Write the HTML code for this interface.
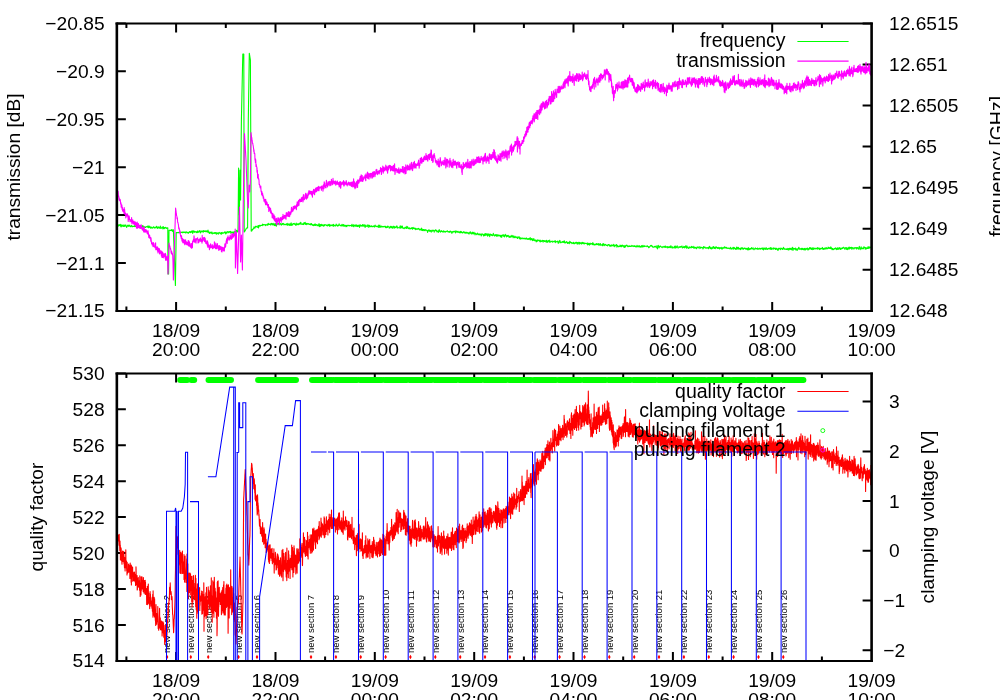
<!DOCTYPE html>
<html><head><meta charset="utf-8"><title>plot</title>
<style>html,body{margin:0;padding:0;background:#fff;}body{width:1000px;height:700px;overflow:hidden;position:relative;font-family:"Liberation Sans",sans-serif;}</style>
</head><body>
<svg width="1000" height="700" viewBox="0 0 1000 700" style="position:absolute;left:0;top:0;display:block;will-change:transform" font-family="'Liberation Sans', sans-serif" font-size="19.2" fill="#000">
<rect x="0" y="0" width="1000" height="700" fill="#fff"/>
<defs><clipPath id="c1"><rect x="116.85" y="23.4" width="754.75" height="287.5"/></clipPath><clipPath id="c2"><rect x="116.85" y="373.4" width="754.75" height="287.5"/></clipPath></defs>
<path d="M126.4,310.9 v-4.5 M126.4,23.4 v4.5 M176.1,310.9 v-9 M176.1,23.4 v9 M225.8,310.9 v-4.5 M225.8,23.4 v4.5 M275.5,310.9 v-9 M275.5,23.4 v9 M325.1,310.9 v-4.5 M325.1,23.4 v4.5 M374.8,310.9 v-9 M374.8,23.4 v9 M424.5,310.9 v-4.5 M424.5,23.4 v4.5 M474.2,310.9 v-9 M474.2,23.4 v9 M523.9,310.9 v-4.5 M523.9,23.4 v4.5 M573.5,310.9 v-9 M573.5,23.4 v9 M623.2,310.9 v-4.5 M623.2,23.4 v4.5 M672.9,310.9 v-9 M672.9,23.4 v9 M722.6,310.9 v-4.5 M722.6,23.4 v4.5 M772.2,310.9 v-9 M772.2,23.4 v9 M821.9,310.9 v-4.5 M821.9,23.4 v4.5 M126.4,660.9 v-4.5 M126.4,373.4 v4.5 M176.1,660.9 v-9 M176.1,373.4 v9 M225.8,660.9 v-4.5 M225.8,373.4 v4.5 M275.5,660.9 v-9 M275.5,373.4 v9 M325.1,660.9 v-4.5 M325.1,373.4 v4.5 M374.8,660.9 v-9 M374.8,373.4 v9 M424.5,660.9 v-4.5 M424.5,373.4 v4.5 M474.2,660.9 v-9 M474.2,373.4 v9 M523.9,660.9 v-4.5 M523.9,373.4 v4.5 M573.5,660.9 v-9 M573.5,373.4 v9 M623.2,660.9 v-4.5 M623.2,373.4 v4.5 M672.9,660.9 v-9 M672.9,373.4 v9 M722.6,660.9 v-4.5 M722.6,373.4 v4.5 M772.2,660.9 v-9 M772.2,373.4 v9 M821.9,660.9 v-4.5 M821.9,373.4 v4.5 M116.85,23.4 h9 M116.85,71.3 h9 M116.85,119.2 h9 M116.85,167.2 h9 M116.85,215.1 h9 M116.85,263 h9 M116.85,310.9 h9 M871.6,23.4 h-9 M871.6,64.5 h-9 M871.6,105.5 h-9 M871.6,146.6 h-9 M871.6,187.7 h-9 M871.6,228.8 h-9 M871.6,269.8 h-9 M871.6,310.9 h-9 M116.85,373.4 h9 M116.85,409.3 h9 M116.85,445.3 h9 M116.85,481.2 h9 M116.85,517.1 h9 M116.85,553.1 h9 M116.85,589 h9 M116.85,625 h9 M116.85,660.9 h9 M871.6,650.2 h-9 M871.6,600.5 h-9 M871.6,550.8 h-9 M871.6,501.1 h-9 M871.6,451.4 h-9 M871.6,401.6 h-9" fill="none" stroke="#000" stroke-width="2"/>
<g clip-path="url(#c1)">
<polyline points="118,224.5 118.3,226.2 118.6,224.9 118.9,225.3 119.2,225.4 119.5,225 119.8,224.7 120.1,225.9 120.4,225.7 120.7,224.4 121,227 121.3,226.1 121.6,225.1 121.9,226.1 122.2,225.3 122.5,225.6 122.8,226.1 123.1,224.9 123.4,226 123.7,226.5 124,226.5 124.3,225.5 124.6,226.3 124.9,224.8 125.2,225.7 125.5,226 125.8,225 126.1,225.8 126.4,226.9 126.7,227.4 127,226.3 127.3,226.4 127.6,225.3 127.9,225.2 128.2,225.1 128.5,226.2 128.8,226.4 129.1,225.6 129.4,225.2 129.7,226.1 130,226.2 130.3,225.9 130.6,226.8 130.9,226 131.2,226 131.5,225.4 131.8,226.2 132.1,226.9 132.4,226.2 132.7,226.2 133,226.4 133.3,226.3 133.6,226.5 133.9,226.5 134.2,226.6 134.5,225.7 134.8,226.4 135.1,225.3 135.4,226.4 135.7,225.5 136,226.3 136.3,226.6 136.6,226.1 136.9,226.4 137.2,225.4 137.5,225.9 137.8,226.8 138.1,225.7 138.4,226.8 138.7,225.6 139,225.9 139.3,225.8 139.6,226.5 139.9,226.8 140,225.9 140.2,226.4 140.5,227.5 140.8,226.4 141.1,226.1 141.4,226.8 141.7,226.5 142,226.2 142.3,225.6 142.6,227.1 142.9,226.3 143.2,226.7 143.5,226.1 143.8,227.5 144.1,227.2 144.4,227.4 144.7,226.7 145,227.1 145.3,227.4 145.6,227.5 145.9,227 146.2,226.8 146.5,226.7 146.8,226.5 147.1,226.4 147.4,227.2 147.7,226.8 148,225.8 148.3,226.9 148.6,227.7 148.9,226.9 149.2,226 149.5,227 149.8,227.6 150.1,227.2 150.4,226.9 150.7,228.3 151,228.3 151.3,227.1 151.6,227.7 151.9,227.5 152.2,227.7 152.5,228.1 152.8,227.8 153.1,227.4 153.4,226.9 153.7,226.9 154,227.3 154.3,228.1 154.6,227.6 154.9,227.4 155.2,227.6 155.5,227.5 155.8,227.8 156.1,226.8 156.4,226.3 156.7,227.3 157,226.9 157.3,228.5 157.6,227.5 157.9,227.4 158.2,226.7 158.5,227.8 158.8,227.3 159.1,228.3 159.4,228.2 159.7,227.2 160,228 160.3,226.1 160.6,227.4 160.9,228.5 161.2,228.3 161.5,227.9 161.8,227.8 162.1,227 162.4,227.1 162.7,228 163,229 163.3,226.6 163.6,228.3 163.9,228.3 164.2,228.6 164.5,227.5 164.8,227.7 165.1,228.1 165.4,227.4 165.7,227.3 166,227.6 166.3,228.1 166.6,228.4 166.9,228.1 167.2,228.2 167.5,227.8 167.8,227.8 167.8,228.9 168,274 168.1,274 168.4,274 168.6,274 168.7,263.1 169,230.2 169,230.2 169.3,230.2 169.6,230.2 169.9,230.4 170.2,230.3 170.5,230.4 170.8,230.3 171.1,230.7 171.4,229.6 171.7,230.5 172,230.6 172.3,229.8 172.6,231.4 172.9,230.3 173.2,230.3 173.4,229.8 173.5,233.7 173.8,241.5 174.1,249.4 174.4,258 174.7,266.3 175,274.5 175.3,282.7 175.4,285.4 175.6,272.2 175.9,252.4 176.2,232.6 176.2,232.6 176.5,232.6 176.8,232.6 177.1,232.6 177.4,232.6 177.7,232.6 178,232.6 178.3,232.6 178.6,232.4 178.9,232.7 179.2,232.3 179.5,232.3 179.8,232.4 180.1,232.3 180.4,232.4 180.7,232.3 181,232.6 181.3,232.4 181.6,232.5 181.9,232 182.2,232.2 182.5,232.6 182.8,232 183.1,232.6 183.4,232 183.7,232.4 184,232.1 184.3,232.4 184.6,232 184.9,232.2 185.2,232.8 185.5,232.1 185.8,233 186.1,232.1 186.4,231.8 186.7,232.2 187,232 187.3,232.9 187.6,232.5 187.9,232.7 188.2,232.4 188.5,233.3 188.8,232.5 189.1,232.4 189.4,231.7 189.7,231.6 190,232.2 190.3,232.6 190.6,232.7 190.9,231.5 191.2,232.3 191.5,232.1 191.8,231.3 192,232.3 192.1,230.6 192.4,232.1 192.7,233.5 193,231.3 193.3,232 193.6,230.8 193.9,231.5 194.2,232.4 194.5,231.3 194.8,231.9 195.1,231.7 195.4,231.6 195.7,232 196,232.1 196.3,232.6 196.6,232.3 196.9,231.5 197.2,232.6 197.5,232.5 197.8,230.8 198.1,232.2 198.4,232.2 198.7,232.3 199,232.1 199.3,230.9 199.6,231.5 199.9,230.5 200.2,231.6 200.5,232.9 200.8,232.1 201.1,232.2 201.4,231.3 201.7,231 202,231 202.3,231.7 202.6,231.1 202.9,231.2 203.2,232.3 203.5,230.6 203.8,230.8 204.1,231.2 204.4,231.5 204.7,231.4 205,230.7 205.3,231.6 205.6,231.4 205.9,231.7 206.2,230.8 206.5,231.6 206.8,231.6 207.1,231 207.4,231.3 207.6,231.1 207.7,232.3 208,230.1 208.3,231.5 208.6,231.7 208.8,232.8 208.9,232.6 209.2,232.8 209.5,233.4 209.8,232 210.1,232.5 210.4,232.9 210.7,232.3 211,233.2 211.3,233.2 211.6,232.6 211.9,231.9 212.2,234 212.5,233.3 212.8,233.3 213.1,233 213.4,233 213.7,233.5 214,233 214.3,232.6 214.6,233.4 214.9,233 215.2,232.5 215.5,232.5 215.8,233.7 216.1,233.4 216.4,234.2 216.7,232.7 217,232.6 217.3,233.2 217.6,233.8 217.9,233.4 218.2,233.3 218.5,234.1 218.8,232.6 219.1,232.3 219.4,232.6 219.7,232.8 220,233.2 220.3,233.6 220.6,233.2 220.9,233.9 221.2,232.5 221.5,234.1 221.8,232.5 222,233.7 222.1,232.4 222.4,233.2 222.7,233 223,233.2 223.3,233.3 223.6,232.7 223.9,232.8 224.2,233 224.5,232 224.8,232.3 225.1,231.8 225.4,232.7 225.7,234 226,233.1 226.3,232.1 226.6,232.2 226.9,233.2 227.2,232.3 227.5,231.6 227.8,231.9 228.1,231.9 228.4,231.9 228.7,232.8 229,232.5 229.3,231.5 229.6,232 229.9,231.7 230.2,231.6 230.5,231.4 230.8,233.3 231.1,232.1 231.4,232.6 231.7,232.7 232,231.9 232.3,232.5 232.6,232.4 232.9,232.2 233.2,233.4 233.5,232.2 233.8,231.9 234,232.4 234.1,233.1 234.4,232.5 234.7,231.6 235,231.3 235.3,231.2 235.6,231.3 235.9,231.9 236.2,232.1 236.5,230.2 236.8,231.5 237.1,230.8 237.4,231.8 237.6,231.9 237.7,231.1 238,231.5 238,231.5 238.3,199.8 238.6,168 238.6,168 238.9,185.6 239.2,203.2 239.4,215 239.5,207.5 239.8,185 240,170 240.1,175 240.4,190 240.6,200 240.7,190 241,160 241.3,130 241.4,120 241.6,110.6 241.9,96.4 242.2,82.3 242.5,68.1 242.8,54 242.8,54 243.1,54 243.4,54 243.7,54 243.8,54 244,143 244.2,232 244.3,231.9 244.6,231.5 244.9,231.1 245,231 245.2,230.6 245.5,230 245.8,229.4 246.1,228.8 246.4,228.2 246.5,228 246.7,228 247,228 247.3,228 247.6,228 247.6,228 247.9,181.7 248.2,135.4 248.3,120 248.5,106.6 248.8,86.6 249.1,66.6 249.3,53.2 249.4,53.8 249.7,55.7 250,57.5 250.3,59.4 250.4,60 250.6,102.7 250.9,166.9 251.2,231 251.2,231 251.5,230.7 251.6,231.1 251.8,230.9 252.1,229.5 252.4,230 252.7,229.3 253,229.3 253.3,228.3 253.6,228.6 253.9,228 254,226.8 254.2,228.3 254.5,227.5 254.8,227.7 255.1,227.9 255.4,226.4 255.7,226.9 256,226.3 256.3,226.2 256.6,226.8 256.9,226.7 257.2,227.2 257.5,227.2 257.8,226.2 258.1,225.6 258.4,228 258.7,227.2 259,225.8 259.3,225.2 259.6,225.4 259.9,225.7 260,226.2 260.2,226.1 260.5,225.7 260.8,225.3 261.1,225.5 261.4,225.2 261.7,225.4 262,225.2 262.3,225.6 262.6,224.1 262.9,225 263.2,225 263.5,224.5 263.8,225 264.1,224.5 264.4,224.7 264.7,224.9 265,224.8 265.3,224.6 265.6,225.6 265.9,225 266.2,225.1 266.5,225 266.8,224.4 267.1,224.3 267.4,225.3 267.7,224.5 268,223.6 268.3,223.4 268.6,224.8 268.9,224.2 269.2,224.5 269.5,224.2 269.8,224.3 270,224.4 270.1,223.7 270.4,224.5 270.7,225.1 271,224.9 271.3,223.4 271.6,223.6 271.9,223.6 272.2,224.2 272.5,224.9 272.8,224.6 273.1,223.3 273.4,224.4 273.7,224.8 274,224 274.3,225.4 274.6,223.9 274.9,225 275.2,225.7 275.5,223.5 275.8,224 276.1,224.5 276.4,226.1 276.7,223.1 277,224.5 277.3,224.3 277.6,223.9 277.9,223.6 278.2,223.8 278.5,223.9 278.8,223.3 279.1,225 279.4,223.4 279.7,223.8 280,223.6 280,223.8 280.3,224.1 280.6,223.6 280.9,223.9 281.2,225.1 281.5,224.7 281.8,223.9 282.1,224.6 282.4,223.6 282.7,224.2 283,223.3 283.3,223.4 283.6,223.6 283.9,224.9 284.2,224.3 284.5,224.5 284.8,224.3 285.1,224.4 285.4,224.5 285.7,224.7 286,224.3 286.3,223.7 286.6,223.8 286.9,225 287.2,225.1 287.5,224.6 287.8,223.3 288.1,225.3 288.4,224.5 288.7,224.3 289,224.4 289.3,224.1 289.6,225.4 289.9,225.4 290,223.8 290.2,224.3 290.5,224.6 290.8,225.1 291.1,222.9 291.4,224.9 291.7,225.3 292,224.1 292.3,224.3 292.6,225 292.9,224.5 293.2,223.5 293.5,223.6 293.8,223.6 294.1,223.4 294.4,224.2 294.7,223.9 295,224.2 295.3,224.6 295.6,225.2 295.9,224.3 296.2,223 296.5,225 296.8,224 297.1,224.8 297.4,223.8 297.7,224.3 298,224 298.3,224 298.6,224.8 298.9,223.6 299.2,224.1 299.5,224.1 299.8,223.8 300.1,222.7 300.4,224.2 300.7,222.3 301,223 301.3,223.7 301.6,224.2 301.9,224.4 302.2,224.4 302.5,224.2 302.8,223.7 303.1,224.6 303.4,223.7 303.7,224.5 304,222.5 304.3,223.2 304.6,223.5 304.9,223.8 305.2,222.3 305.5,224.3 305.8,224.4 306.1,224.2 306.4,223.4 306.7,224.6 307,223.4 307.3,224.2 307.6,223.7 307.9,223.7 308.2,223.6 308.5,223.6 308.8,224.3 309.1,224.5 309.4,224.5 309.7,224.1 310,224 310,223.9 310.3,224.9 310.6,223.7 310.9,223.8 311.2,224.5 311.5,223.6 311.8,224.7 312,225 312.1,224.4 312.4,224.6 312.7,225.4 313,224.9 313.3,225.1 313.6,225.6 313.9,224.6 314.2,224.3 314.5,225 314.8,225.3 315.1,223.9 315.4,225.4 315.7,224.8 316,224.8 316.3,224.5 316.6,224.9 316.9,225.6 317.2,225.4 317.5,225.5 317.8,224.8 318.1,226 318.4,225.8 318.7,225.1 319,223.5 319.3,225.1 319.6,226.7 319.9,225.1 320.2,224.5 320.5,226.1 320.8,224.7 321.1,225.4 321.4,225.6 321.7,224.2 322,225.2 322.3,225.8 322.6,224.9 322.9,225.5 323.2,225.1 323.5,225.8 323.8,226.3 324.1,224.5 324.4,225 324.7,225.4 325,224.8 325.3,224.7 325.6,225 325.9,225 326.2,224.8 326.5,225.4 326.8,225.7 327.1,225.6 327.4,225.6 327.7,225.9 328,224.4 328.3,225.1 328.6,225.3 328.9,225.5 329.2,224.2 329.5,226.3 329.8,224.7 330.1,225.4 330.4,225.7 330.7,225.9 331,224.8 331.3,224.9 331.6,225.5 331.9,225.6 332.2,225.8 332.5,225.2 332.8,224.8 333.1,224.5 333.4,226.3 333.7,224.4 334,225.7 334.3,225.4 334.6,225.7 334.9,225.9 335.2,226.1 335.5,225.3 335.8,225.5 336.1,224.1 336.4,225.3 336.7,224.8 337,225.2 337.3,226.1 337.6,225.4 337.9,226 338.2,225.2 338.5,225.6 338.8,225.1 339.1,223.8 339.4,224.9 339.7,225.2 340,225.4 340.3,225.4 340.6,225.3 340.9,225.9 341.2,225.7 341.5,225.1 341.8,225.9 342.1,224.2 342.4,225.2 342.7,225.3 343,226.2 343.3,225.1 343.6,224.5 343.9,225.5 344.2,226.4 344.5,225.3 344.8,225.4 345.1,225.3 345.4,225.5 345.7,226.2 346,226.6 346.3,225.7 346.6,225.4 346.9,226.6 347.2,225.5 347.5,225.5 347.8,225.2 348.1,225.3 348.4,225.6 348.7,225.3 349,225.7 349.3,225.5 349.6,225.8 349.9,225.3 350.2,225.4 350.5,225.6 350.8,225.5 351.1,225.6 351.4,226.2 351.7,224.9 352,224.3 352.3,225.9 352.6,225.4 352.9,226.3 353.2,225.5 353.5,224.8 353.8,226.8 354.1,225.8 354.4,225.3 354.7,225.1 355,225.9 355.3,225.1 355.6,225.8 355.9,226.3 356.2,224.7 356.5,225.4 356.8,225.9 357.1,226.6 357.4,226.1 357.7,225.3 358,226.5 358.3,225.4 358.6,225.5 358.9,225.8 359.2,224.9 359.5,227.4 359.8,226.3 360,225.7 360.1,225.3 360.4,224.9 360.7,225.9 361,226.1 361.3,225.4 361.6,225.6 361.9,226 362.2,225.7 362.5,224.6 362.8,226.1 363.1,225.9 363.4,226.2 363.7,225.3 364,224.5 364.3,225.1 364.6,226 364.9,227.1 365.2,227.3 365.5,226 365.8,225 366.1,225.7 366.4,226.2 366.7,226.2 367,226 367.3,226.7 367.6,225.4 367.9,224.7 368.2,225.5 368.5,225.3 368.8,227.4 369.1,225.9 369.4,225.2 369.7,226.4 370,226.7 370.3,226.1 370.6,226.2 370.9,226.7 371.2,226.4 371.5,225.7 371.8,226.5 372.1,226.7 372.4,226.4 372.7,226.7 373,226.6 373.3,226.1 373.6,226.1 373.9,226.6 374.2,225.9 374.5,227 374.8,227 375.1,225.1 375.4,226.3 375.7,225.9 376,226 376.3,226.4 376.6,226.3 376.9,226.7 377.2,226.6 377.5,226.6 377.8,226 378.1,226.2 378.4,227.3 378.7,225 379,227.5 379.3,226.2 379.6,227.2 379.9,225 380.2,226.3 380.5,227.1 380.8,226.7 381.1,227.2 381.4,226.1 381.7,226.3 382,226.2 382.3,226.9 382.6,226.9 382.9,226.6 383.2,226.5 383.5,226.5 383.8,226.8 384.1,226.2 384.4,226.7 384.7,226.7 385,226.4 385.3,226.4 385.6,227.7 385.9,226.4 386.2,227.1 386.5,227.7 386.8,227.3 387.1,226.9 387.4,227.5 387.7,226 388,226.2 388.3,226.7 388.6,226.8 388.9,226.9 389.2,228.1 389.5,228 389.8,227 390,227.2 390.1,226.5 390.4,227.2 390.7,226.2 391,227.9 391.3,226.8 391.6,227.4 391.9,226.3 392.2,227.9 392.5,227.5 392.8,228.3 393.1,227.2 393.4,226.2 393.7,226.7 394,226.4 394.3,228.2 394.6,226.9 394.9,226.8 395.2,227.6 395.5,227.4 395.8,227.6 396.1,227 396.4,226.1 396.7,226.5 397,226 397.3,228.1 397.6,227.9 397.9,227.2 398.2,227.8 398.5,227.8 398.8,227.8 399.1,227.8 399.4,228 399.7,227.5 400,226.2 400.3,225.9 400.6,228.3 400.9,227.9 401.2,226.1 401.5,227.7 401.8,227.1 402.1,227.3 402.4,226.1 402.7,228.1 403,227.6 403.3,228.2 403.6,228.3 403.9,228.5 404.2,228.7 404.5,227.9 404.8,227.9 405.1,227.4 405.4,228.1 405.7,227.6 406,227.1 406.3,228.5 406.6,228.3 406.9,226.2 407.2,226.7 407.5,227.7 407.8,227.1 408.1,228.6 408.4,228 408.7,228.3 409,228.5 409.3,228.8 409.6,227.8 409.9,228.4 410,228.2 410.2,228.5 410.5,228.4 410.8,229 411.1,228.5 411.4,227.9 411.7,228.3 412,227.6 412.3,228.5 412.6,229.3 412.9,228 413.2,227.4 413.5,228.4 413.8,228.2 414.1,228.5 414.4,228.2 414.7,228.7 415,228 415.3,229.6 415.6,228.6 415.9,229.1 416.2,229.3 416.5,228.8 416.8,229.2 417.1,228.8 417.4,228.7 417.7,228.9 418,229.3 418.3,228.3 418.6,228.6 418.9,228.7 419.2,228.9 419.5,229.9 419.8,229.3 420.1,229.1 420.4,229.5 420.7,230 421,229 421.3,230.1 421.6,228.1 421.9,229 422.2,230.5 422.5,230.6 422.8,229.8 423.1,229.5 423.4,230.3 423.7,229.6 424,230.8 424.3,230.6 424.6,230.4 424.9,229.5 425.2,230.6 425.5,229.9 425.8,229.9 426.1,229.9 426.4,230.1 426.7,230.5 427,230.7 427.3,230.8 427.6,232.4 427.9,230.2 428.2,231.1 428.5,230 428.8,230.4 429.1,229.8 429.4,231.3 429.7,230.8 430,230.7 430,230.6 430.3,231.2 430.6,230.4 430.9,230.9 431.2,232.2 431.5,230.6 431.8,230.4 432.1,230.1 432.4,231.2 432.7,230.8 433,230.3 433.3,230.3 433.6,230.8 433.9,230.2 434.2,232.1 434.5,230.7 434.8,230.8 435.1,230.8 435.4,229.8 435.7,230 436,230.7 436.3,230.9 436.6,230.2 436.9,232 437.2,231.3 437.5,231.8 437.8,231.7 438.1,230.9 438.4,232.5 438.7,231.1 439,229.9 439.3,229.7 439.6,231.1 439.9,231.6 440.2,231.2 440.5,232.2 440.8,231 441.1,231.5 441.4,231.6 441.7,230.6 442,231.4 442.3,231.4 442.6,231.9 442.9,232 443.2,231.9 443.5,230.8 443.8,231.7 444.1,232 444.4,231.3 444.7,231.8 445,231.8 445.3,232.1 445.6,231.4 445.9,231.7 446.2,231.5 446.5,231.5 446.8,231.1 447.1,231.2 447.4,230.8 447.7,231.4 448,231.9 448.3,231.9 448.6,232 448.9,231.5 449.2,232.4 449.5,231.3 449.8,232 450.1,231.8 450.4,231.1 450.7,231.2 451,232.1 451.3,231.7 451.6,231.8 451.9,233.5 452.2,232 452.5,231.8 452.8,232.1 453.1,231.4 453.4,231.6 453.7,232 454,231.3 454.3,231.8 454.6,231.7 454.9,231.9 455.2,230.8 455.5,232.9 455.8,231.8 456.1,232.2 456.4,231.3 456.7,231.1 457,231.9 457.3,231.7 457.6,232.3 457.9,231.4 458.2,231.4 458.5,232.2 458.8,232.4 459.1,232.6 459.4,232 459.7,232.2 460,231.6 460,232.8 460.3,232.8 460.6,232.8 460.9,231.2 461.2,232.7 461.5,231.8 461.8,232.5 462.1,232.5 462.4,233 462.7,232.2 463,232.2 463.3,231.8 463.6,231.7 463.9,232.8 464.2,232 464.5,232.9 464.8,232.3 465.1,232.3 465.4,233.2 465.7,233.2 466,232.1 466.3,232.6 466.6,232.8 466.9,233.2 467.2,232.4 467.5,232.6 467.8,232.8 468.1,233.3 468.4,233.5 468.7,232.7 469,234.1 469.3,233.3 469.6,232.6 469.9,232.2 470.2,232.9 470.5,231.8 470.8,233.3 471.1,233.6 471.4,234 471.7,233.6 472,232.3 472.3,233.2 472.6,233.8 472.9,232.1 473.2,233 473.5,233.9 473.8,233.6 474.1,232.4 474.4,233.3 474.7,233.7 475,234.9 475.3,233.4 475.6,233.2 475.9,233.9 476.2,234 476.5,234.2 476.8,234.7 477.1,233.9 477.4,233.1 477.7,234 478,234 478.3,234.6 478.6,234.6 478.9,233.7 479.2,234.6 479.5,234.8 479.8,234.1 480,234.8 480.1,234.3 480.4,234.4 480.7,234.2 481,234.8 481.3,236 481.6,234.5 481.9,233.7 482.2,234.2 482.5,234 482.8,234.6 483.1,234.3 483.4,236 483.7,234.9 484,235.6 484.3,234.1 484.6,234.4 484.9,235.8 485.2,233.6 485.5,234.7 485.8,233.7 486.1,235.5 486.4,233.8 486.7,234.5 487,234.6 487.3,233.7 487.6,236.2 487.9,234.6 488.2,235.7 488.5,234.4 488.8,233.9 489.1,234.9 489.4,234.9 489.7,236.6 490,234.2 490.3,234 490.6,234.5 490.9,235.1 491.2,235.3 491.5,234.5 491.8,234.8 492.1,235.3 492.4,235.7 492.7,234.7 493,235.1 493.3,233.4 493.6,234.5 493.9,235.4 494.2,235.1 494.5,235 494.8,236.1 495.1,235 495.4,234.6 495.7,235.4 496,235.4 496.3,234.6 496.6,235.9 496.9,236.3 497.2,235 497.5,234.8 497.8,235.3 498.1,236.1 498.4,235.1 498.7,235 499,235.1 499.3,235.6 499.6,235.6 499.9,235.4 500.2,236.2 500.5,236.9 500.8,235.2 501.1,236.2 501.4,235.8 501.7,237.4 502,235.1 502.3,235.5 502.6,235.7 502.9,234.8 503.2,235.6 503.5,236.2 503.8,234.9 504.1,235.9 504.4,236.9 504.7,235.5 505,235.3 505.3,234.3 505.6,235.8 505.9,234.9 506.2,236.2 506.5,236.9 506.8,236.3 507.1,235.5 507.4,236.4 507.7,235.7 508,235.3 508,235.7 508.3,236.2 508.6,235.9 508.9,236.5 509.2,237.5 509.5,236.6 509.8,236.7 510.1,235.9 510.4,237.2 510.7,236.6 511,237.1 511.3,236 511.6,236.7 511.9,235.2 512.2,236.4 512.5,236.2 512.8,236.1 513.1,237.8 513.4,235.9 513.7,236.8 514,236.8 514.3,237.3 514.6,237.6 514.9,236.1 515.2,236.8 515.5,236.7 515.8,237.6 516.1,237.8 516.4,237 516.7,237 517,236.8 517.3,237.6 517.6,238.5 517.9,237.7 518.2,237.1 518.5,237.1 518.8,237.2 519.1,236.7 519.4,238.8 519.7,237.8 520,237.6 520.3,239.2 520.6,238 520.9,238.8 521.2,238.2 521.5,238.7 521.8,238.1 522.1,237.9 522.4,238.4 522.7,238.6 523,238.9 523.3,238.4 523.6,238.2 523.9,238.2 524.2,238.6 524.5,238.2 524.8,238.3 525.1,238.9 525.4,239 525.7,239 526,238.3 526.3,237.9 526.6,239 526.9,238.9 527.2,238.7 527.5,239.1 527.8,239.5 528.1,238.9 528.4,239.3 528.7,238.5 529,239 529.3,238.7 529.6,238.4 529.9,239.6 530.2,237.6 530.5,239.3 530.8,239.9 531.1,239.7 531.4,238.6 531.7,239.7 532,238.5 532.3,239.1 532.6,240.6 532.9,239.8 533.2,240.5 533.5,239.2 533.8,238.6 534.1,239.5 534.4,240.7 534.7,240.6 535,240.7 535.3,240 535.6,240.1 535.9,240.1 536.2,242 536.5,240.3 536.8,241.4 537.1,240.3 537.4,241.2 537.7,239.8 538,240.2 538.3,240.8 538.6,240.3 538.9,240.4 539.2,240.6 539.5,240.4 539.8,241.7 540,241.5 540.1,240 540.4,241.9 540.7,240.8 541,240.9 541.3,240.8 541.6,241.4 541.9,241.4 542.2,240.6 542.5,241 542.8,240.2 543.1,242.1 543.4,240.5 543.7,240.5 544,240.6 544.3,241.2 544.6,241.5 544.9,240.9 545.2,241.1 545.5,240.9 545.8,241.9 546.1,241.3 546.4,240.2 546.7,242.1 547,241.4 547.3,242.4 547.6,240.9 547.9,241 548.2,241.2 548.5,240.5 548.8,241.1 549.1,242.1 549.4,241.8 549.7,240 550,242.2 550.3,241.7 550.6,241.9 550.9,241.5 551.2,241.6 551.5,241.5 551.8,241.6 552.1,240.9 552.4,242.2 552.7,241.7 553,241.8 553.3,241.8 553.6,241.5 553.9,241.6 554.2,240.9 554.5,241.8 554.8,241.9 555.1,241.6 555.4,240.7 555.7,242.6 556,241.7 556.3,241.8 556.6,241.6 556.9,241.5 557.2,241.6 557.5,241.2 557.8,241.5 558.1,243.1 558.4,242.6 558.7,243.1 559,241.6 559.3,240.8 559.6,241.2 559.9,240.4 560.2,242.7 560.5,242.8 560.8,242.1 561.1,242.3 561.4,242.3 561.7,242.1 562,242.6 562.3,241.6 562.6,241.9 562.9,242.1 563.2,241.2 563.5,241.6 563.8,242.5 564.1,242.5 564.4,240.8 564.7,242.9 565,242.5 565.3,242.8 565.6,242.3 565.9,242.7 566.2,241.6 566.5,242.3 566.8,241.8 567.1,242.1 567.4,243.2 567.7,243.5 568,242.5 568.3,242.3 568.6,243 568.9,242.8 569.2,243.7 569.5,243 569.8,241.2 570.1,242.7 570.4,242.5 570.7,242.2 571,242.8 571.3,242.7 571.6,242.5 571.9,243.6 572.2,243 572.5,243 572.8,242.9 573.1,243.5 573.4,242.2 573.7,243.6 574,242.7 574.3,243.8 574.6,243.8 574.9,243.2 575.2,242.7 575.5,243.1 575.8,243.2 576.1,242.1 576.4,242.8 576.7,242.6 577,243.9 577.3,244.1 577.6,242.6 577.9,242.8 578.2,242.3 578.5,243.3 578.8,243.6 579.1,244.2 579.4,242.4 579.7,243.8 580,243.1 580,242.8 580.3,243 580.6,242.8 580.9,243.6 581.2,243.3 581.5,244 581.8,243 582.1,242.2 582.4,242.8 582.7,243.6 583,242.5 583.3,243 583.6,243.8 583.9,242.7 584.2,244 584.5,243.7 584.8,243.2 585.1,243.5 585.4,243.3 585.7,243.4 586,243.4 586.3,243.7 586.6,243.6 586.9,243.3 587.2,243.1 587.5,245 587.8,243.1 588.1,243.7 588.4,244.5 588.7,244.4 589,243.4 589.3,245.1 589.6,244.9 589.9,243.7 590.2,243.2 590.5,244.3 590.8,243.9 591.1,243.8 591.4,243.5 591.7,243.7 592,244.2 592.3,244.6 592.6,242.9 592.9,242.7 593.2,244.7 593.5,243.7 593.8,244.6 594.1,244.3 594.4,245 594.7,244.8 595,244.1 595.3,244.2 595.6,244.5 595.9,244.8 596.2,244 596.5,243.5 596.8,244.5 597.1,244.4 597.4,244.3 597.7,243.9 598,244.8 598.3,243.5 598.6,244.2 598.9,245.3 599.2,243.9 599.5,244.8 599.8,244.9 600.1,244.9 600.4,243.6 600.7,245.3 601,244.8 601.3,245 601.6,244.9 601.9,244.8 602.2,245.5 602.5,245.7 602.8,243.7 603.1,244.4 603.4,244.8 603.7,243.6 604,245.8 604.3,244.5 604.6,245.3 604.9,245.1 605.2,244.9 605.5,244.4 605.8,244.8 606.1,245.1 606.4,245.5 606.7,245 607,244.9 607.3,245 607.6,245.9 607.9,245.3 608.2,244.8 608.5,244.5 608.8,245 609.1,244.7 609.4,245 609.7,246.1 610,245.7 610.3,245.5 610.6,245.6 610.9,246.4 611.2,244.7 611.5,245.7 611.8,245.3 612.1,245.6 612.4,245.5 612.7,245.3 613,245.9 613.3,244.3 613.6,245.7 613.9,246 614.2,245 614.5,245.1 614.8,246.8 615.1,245.1 615.4,245.5 615.7,245.3 616,245.4 616.3,245.4 616.6,244.5 616.9,247.2 617.2,245.4 617.5,246.1 617.8,245.8 618.1,246.7 618.4,246.3 618.7,246.6 619,246.6 619.3,246.5 619.6,246 619.9,246.6 620,245.1 620.2,246.6 620.5,246.4 620.8,246.2 621.1,245.2 621.4,246.8 621.7,245.7 622,246.4 622.3,245 622.6,246 622.9,245.7 623.2,245.6 623.5,245.7 623.8,247.2 624.1,246.1 624.4,246.3 624.7,247.4 625,245.3 625.3,247 625.6,245.9 625.9,245.8 626.2,245.9 626.5,245.1 626.8,245.2 627.1,245.5 627.4,245.8 627.7,246.6 628,246.8 628.3,246 628.6,246.4 628.9,246.5 629.2,246.1 629.5,246.3 629.8,245.9 630.1,246.5 630.4,246.1 630.7,246.3 631,246.4 631.3,246.3 631.6,245.8 631.9,245.4 632.2,246.2 632.5,245.9 632.8,246 633.1,246.2 633.4,245.9 633.7,246.6 634,246.5 634.3,245.8 634.6,246.5 634.9,245.7 635.2,246.7 635.5,246.7 635.8,246.3 636.1,246.9 636.4,246.9 636.7,246.6 637,245.3 637.3,246.4 637.6,246.5 637.9,246.8 638.2,245.8 638.5,246.8 638.8,246.6 639.1,246.6 639.4,245.7 639.7,245.9 640,247.1 640.3,246.9 640.6,246.4 640.9,247.1 641.2,246.6 641.5,246.2 641.8,245.5 642.1,247.1 642.4,246.4 642.7,246.6 643,245.4 643.3,246.1 643.6,246.7 643.9,246.3 644.2,246 644.5,245.8 644.8,246.6 645.1,246.3 645.4,246.3 645.7,246.3 646,246.1 646.3,246.3 646.6,246.2 646.9,246.6 647.2,245.7 647.5,245.9 647.8,246.6 648.1,246.5 648.4,246.7 648.7,247.8 649,247 649.3,247.3 649.6,246.8 649.9,246.5 650.2,246.1 650.5,245.5 650.8,245.8 651.1,245.2 651.4,246 651.7,245.7 652,246.1 652.3,246.6 652.6,246.4 652.9,247.2 653.2,247.2 653.5,247.3 653.8,247.2 654.1,246.8 654.4,246.4 654.7,247 655,246.5 655.3,246.6 655.6,247 655.9,246.1 656.2,245.8 656.5,246.9 656.8,247.8 657.1,247.4 657.4,249 657.7,245.9 658,246.4 658.3,245.4 658.6,246.3 658.9,247.9 659.2,247.7 659.5,246.2 659.8,246.6 660.1,246.3 660.4,246 660.7,246.7 661,246.6 661.3,246.9 661.6,247 661.9,247.3 662.2,247.7 662.5,246.8 662.8,246.7 663.1,246.9 663.4,247.1 663.7,246.8 664,246.3 664.3,246.6 664.6,247.3 664.9,246.3 665.2,247.4 665.5,246.1 665.8,247.3 666.1,247.3 666.4,246.8 666.7,246.9 667,246.8 667.3,247.9 667.6,246.7 667.9,246.5 668.2,247.2 668.5,247.6 668.8,247.2 669.1,246.9 669.4,247.6 669.7,246.5 670,246.5 670.3,246.3 670.6,247.7 670.9,245.7 671.2,246.3 671.5,247.2 671.8,247.3 672.1,248.1 672.4,247.3 672.7,246.8 673,247.9 673.3,247.7 673.6,247.8 673.9,247.7 674.2,247.4 674.5,246.2 674.8,246.5 675.1,248.3 675.4,247.1 675.7,246 676,247.2 676.3,247.7 676.6,247.4 676.9,247.1 677.2,245.8 677.5,247.2 677.8,247.1 678.1,248.2 678.4,247.2 678.7,247.1 679,246.9 679.3,247.1 679.6,247.4 679.9,246.9 680,246.7 680.2,246.5 680.5,247.3 680.8,247 681.1,247 681.4,246.3 681.7,246.7 682,246.1 682.3,247.8 682.6,247.9 682.9,247.5 683.2,247.2 683.5,247.5 683.8,246.4 684.1,246.5 684.4,248 684.7,246.7 685,247.3 685.3,246.9 685.6,245.9 685.9,246.9 686.2,247.8 686.5,248.1 686.8,245.8 687.1,246.4 687.4,247 687.7,247.9 688,248.1 688.3,248.3 688.6,248.4 688.9,247.1 689.2,246.8 689.5,247.9 689.8,247.2 690.1,247.4 690.4,247.2 690.7,247.2 691,248 691.3,246.8 691.6,246.4 691.9,247 692.2,247.5 692.5,247.3 692.8,247.4 693.1,246.3 693.4,246.9 693.7,248.1 694,247.4 694.3,247.1 694.6,248.1 694.9,247.1 695.2,247.9 695.5,247.6 695.8,247.7 696.1,248.1 696.4,248.8 696.7,248.3 697,247 697.3,246.9 697.6,247.3 697.9,247.4 698.2,248 698.5,247.6 698.8,247.7 699.1,246.5 699.4,247.5 699.7,247.9 700,248.6 700.3,248 700.6,247.6 700.9,246.9 701.2,247.6 701.5,247.6 701.8,247.5 702.1,247.7 702.4,247.9 702.7,247.9 703,249 703.3,247.1 703.6,246.7 703.9,247.9 704.2,246.9 704.5,247.5 704.8,247.6 705.1,247.2 705.4,248.2 705.7,248.1 706,247.8 706.3,248.1 706.6,248.2 706.9,247.5 707.2,248.1 707.5,247.8 707.8,247.7 708.1,247.5 708.4,248.8 708.7,247.9 709,246.9 709.3,248 709.6,246.2 709.9,247.9 710.2,248.2 710.5,248.6 710.8,247.9 711.1,247.4 711.4,248.9 711.7,248.4 712,248.6 712.3,247.7 712.6,248.2 712.9,246.8 713.2,248.1 713.5,246.6 713.8,247.2 714.1,247 714.4,248.5 714.7,248.4 715,247.5 715.3,248.6 715.6,247.9 715.9,246.7 716.2,247.7 716.5,246.9 716.8,247.9 717.1,248.1 717.4,247.5 717.7,248.4 718,248.5 718.3,247.4 718.6,248.3 718.9,247.9 719.2,247.8 719.5,249 719.8,247.5 720.1,247.7 720.4,247.9 720.7,248.3 721,248.4 721.3,247.4 721.6,248.8 721.9,249.1 722.2,249.2 722.5,248.1 722.8,247.7 723.1,247.4 723.4,248.2 723.7,248 724,248 724.3,247.7 724.6,246.7 724.9,247.9 725.2,248 725.5,247.9 725.8,247.2 726.1,247.9 726.4,248 726.7,247.4 727,248.5 727.3,248.1 727.6,248.2 727.9,248.4 728.2,248 728.5,248.1 728.8,248.5 729.1,248.6 729.4,248.7 729.7,248.1 730,248.6 730.3,248.9 730.6,247.3 730.9,247.9 731.2,248.2 731.5,248.2 731.8,249.3 732.1,248.9 732.4,248.1 732.7,248.2 733,247.4 733.3,247.7 733.6,249.1 733.9,247.2 734.2,248.6 734.5,247.8 734.8,248.1 735.1,248.2 735.4,249.4 735.7,248.5 736,248.6 736.3,248.9 736.6,247 736.9,249.4 737.2,247.3 737.5,247.9 737.8,248.8 738.1,247.6 738.4,247.3 738.7,249.1 739,248.2 739.3,248.9 739.6,248.7 739.9,248.3 740.2,249.4 740.5,248.2 740.8,249.6 741.1,247.9 741.4,247.8 741.7,248 742,248.6 742.3,247.8 742.6,248 742.9,249.3 743.2,248.6 743.5,249.2 743.8,248.7 744.1,248.1 744.4,248 744.7,248.6 745,248.5 745.3,248.2 745.6,248.2 745.9,249.4 746.2,249.2 746.5,248.7 746.8,248.3 747.1,248.3 747.4,249.8 747.7,248.2 748,249.9 748.3,248.2 748.6,247.7 748.9,249.8 749.2,248.5 749.5,249.5 749.8,248.9 750.1,248.5 750.4,249.2 750.7,248.4 751,248.9 751.3,248.5 751.6,247.6 751.9,248.9 752.2,248.3 752.5,248.6 752.8,248.9 753.1,247.8 753.4,249 753.7,249 754,249.8 754.3,249.2 754.6,248.9 754.9,248.3 755.2,248.7 755.5,247.9 755.8,249 756.1,248.6 756.4,248.5 756.7,248.7 757,249 757.3,248.9 757.6,248 757.9,249.5 758.2,248.8 758.5,249 758.8,248.8 759.1,248.2 759.4,248.9 759.7,248.5 760,248.3 760,248.9 760.3,249.2 760.6,249.1 760.9,248.9 761.2,248.4 761.5,248.6 761.8,248.7 762.1,247.9 762.4,249.3 762.7,248.8 763,248 763.3,249.7 763.6,249.9 763.9,248 764.2,248.7 764.5,248.3 764.8,249.2 765.1,248 765.4,249.1 765.7,249 766,249.4 766.3,247.7 766.6,248.3 766.9,248.7 767.2,249.4 767.5,248.8 767.8,249.2 768.1,249.1 768.4,248.2 768.7,248.7 769,248.5 769.3,248.6 769.6,248.2 769.9,249.2 770.2,249 770.5,247.6 770.8,249.2 771.1,248.4 771.4,247.9 771.7,249.5 772,248.8 772.3,249 772.6,248.7 772.9,248.8 773.2,247.7 773.5,249.2 773.8,248.3 774.1,248.8 774.4,248.7 774.7,248.2 775,248 775.3,248.7 775.6,249.5 775.9,248.4 776.2,248.4 776.5,248.8 776.8,248.4 777.1,249.6 777.4,249.1 777.7,250.3 778,248.9 778.3,250.1 778.6,248.4 778.9,248.9 779.2,248.2 779.5,248.6 779.8,248.6 780.1,249.2 780.4,249.6 780.7,248.6 781,247.9 781.3,248.8 781.6,248.7 781.9,248.5 782.2,249.3 782.5,249.5 782.8,248.4 783.1,248.4 783.4,247.3 783.7,248.4 784,249.3 784.3,248.3 784.6,249.3 784.9,249.2 785.2,249.2 785.5,249.2 785.8,248.8 786.1,249.4 786.4,249.4 786.7,249 787,248.8 787.3,249.6 787.6,249.7 787.9,248.4 788.2,249.3 788.5,248.9 788.8,250.2 789.1,248.6 789.4,248.5 789.7,248.3 790,249.4 790.3,248.2 790.6,249.2 790.9,248.5 791.2,249.6 791.5,249.8 791.8,249.5 792.1,247.7 792.4,248 792.7,247.2 793,250.4 793.3,248.5 793.6,248.6 793.9,248.9 794.2,249.2 794.5,248.6 794.8,248.9 795.1,248.8 795.4,248 795.7,249.9 796,249.9 796.3,248.8 796.6,248.8 796.9,250 797.2,250.3 797.5,248.9 797.8,249.2 798.1,248.6 798.4,249 798.7,247.3 799,247.5 799.3,249.1 799.6,248.7 799.9,249.1 800,248.9 800.2,249.2 800.5,249 800.8,248.7 801.1,249.1 801.4,248.4 801.7,249.7 802,248.2 802.3,248.6 802.6,249.4 802.9,248.6 803.2,249.4 803.5,249.7 803.8,249.3 804.1,248.5 804.4,249.9 804.7,249.1 805,248.2 805.3,250 805.6,248.9 805.9,249.2 806.2,249.3 806.5,248.5 806.8,249.3 807.1,248 807.4,248.2 807.7,248.5 808,250.1 808.3,249.1 808.6,249.5 808.9,248.5 809.2,249.1 809.5,247.5 809.8,248.6 810.1,249 810.4,248.4 810.7,247.6 811,247.8 811.3,249.1 811.6,249.5 811.9,248.5 812.2,249.7 812.5,247.9 812.8,249.1 813.1,248.9 813.4,249.3 813.7,247.8 814,249.3 814.3,248.8 814.6,248.2 814.9,248.4 815.2,248.5 815.5,248.8 815.8,248.2 816.1,248.1 816.4,248.7 816.7,248.6 817,248.9 817.3,249.2 817.6,247.5 817.9,248.6 818.2,248.8 818.5,248.6 818.8,248 819.1,249 819.4,249.6 819.7,248.5 820,248.1 820.3,249.1 820.6,248.6 820.9,248.7 821.2,248.7 821.5,248.3 821.8,248.6 822.1,248.1 822.4,247.4 822.7,249.2 823,248.7 823.3,248.5 823.6,249.4 823.9,248.4 824.2,249.2 824.5,249 824.8,248.4 825.1,247.8 825.4,248.8 825.7,248.7 826,249.1 826.3,247.6 826.6,248.4 826.9,248.6 827.2,248.7 827.5,248.6 827.8,248.7 828.1,247.1 828.4,248.3 828.7,248.1 829,247.5 829.3,248.5 829.6,248.2 829.9,247.8 830.2,247.6 830.5,248.7 830.8,246.9 831.1,248.4 831.4,247.8 831.7,248.5 832,249.6 832.3,249.1 832.6,248.4 832.9,249.3 833.2,249.6 833.5,249 833.8,249.5 834.1,248.6 834.4,248.8 834.7,248.4 835,248.2 835.3,248.4 835.6,247.9 835.9,248.3 836.2,249.7 836.5,248.8 836.8,248.3 837.1,249.4 837.4,249.3 837.7,247.7 838,248 838.3,249.4 838.6,248.4 838.9,248.5 839.2,248.1 839.5,247.7 839.8,249.1 840.1,247.9 840.4,248.7 840.7,249.5 841,248.7 841.3,248.2 841.6,248.7 841.9,248.7 842.2,248.1 842.5,248.5 842.8,247.6 843.1,247.3 843.4,248 843.7,247.3 844,247.9 844.3,248.2 844.6,248.4 844.9,249.4 845.2,247.7 845.5,248 845.8,248 846.1,247.7 846.4,249.5 846.7,247.8 847,248.1 847.3,248.2 847.6,249.7 847.9,248.1 848.2,247.8 848.5,249 848.8,247.8 849.1,247 849.4,248.9 849.7,248.8 850,247.4 850.3,247.5 850.6,248.2 850.9,247.6 851.2,247.3 851.5,247.5 851.8,249.3 852.1,248.9 852.4,247.5 852.7,248.1 853,248.2 853.3,248 853.6,248.1 853.9,249.2 854.2,247.8 854.5,247.7 854.8,248.1 855.1,247.7 855.4,247.9 855.7,247.9 856,247.5 856.3,248.9 856.6,247.7 856.9,248.9 857.2,247.6 857.5,247.6 857.8,248.3 858.1,247.9 858.4,248.6 858.7,248.5 859,249.5 859.3,246.3 859.6,247.4 859.9,248.1 860.2,248 860.5,248 860.8,249.7 861.1,246.7 861.4,248.5 861.7,247.9 862,248.1 862.3,248.7 862.6,248 862.9,248.5 863.2,248.8 863.5,248.8 863.8,246.9 864.1,247.6 864.4,247.2 864.7,247.5 865,247.9 865.3,249.3 865.6,247.6 865.9,247.8 866.2,247.9 866.5,248.9 866.8,247.7 867.1,248.3 867.4,248.5 867.7,248.3 868,246.7 868.3,247.2 868.6,248.4 868.9,246.9 869.2,247.8 869.5,247 869.8,248.2 870.1,247.9 870.4,247 870.5,247.8" fill="none" stroke="#00ff00" stroke-width="1.1" stroke-linejoin="round" />
<polyline points="118,190.9 118.2,192.6 118.4,196.6 118.6,195.7 118.8,196.6 119,199.5 119.2,197.8 119.4,200.7 119.6,199.9 119.8,200.5 120,200.2 120,199.3 120.2,199.7 120.4,200.6 120.6,203.8 120.8,204.3 121,202.8 121.2,207.1 121.4,204.6 121.6,205.7 121.8,204.7 122,206.3 122,209.3 122.2,208.9 122.4,207.4 122.6,211 122.8,209.1 123,209.7 123.2,211.7 123.4,211.1 123.6,210 123.8,209.1 124,213.5 124.2,207.6 124.4,210.9 124.6,209.3 124.8,211.7 125,214.5 125.2,212.8 125.4,213 125.6,214 125.8,217.9 126,217.2 126,215.2 126.2,213.9 126.4,214.5 126.6,216 126.8,215.2 127,215.6 127.2,214.2 127.4,213.9 127.6,214.5 127.8,217 128,215.2 128.2,221.4 128.4,218.2 128.6,218.6 128.8,219.4 129,216.1 129.2,216 129.4,217.9 129.6,219.5 129.8,219.6 130,221.7 130,221.3 130.2,220.9 130.4,221.2 130.6,219.9 130.8,221.1 131,219.3 131.2,219.3 131.4,221.8 131.6,217.5 131.8,222.9 132,223.9 132.2,220.1 132.4,222.4 132.6,221.5 132.8,219.7 133,222.2 133.2,222.7 133.4,223.7 133.6,221.6 133.8,222.5 134,221.4 134.2,224.4 134.4,222.6 134.6,224.5 134.8,222 135,223.5 135.2,221.9 135.4,222.4 135.6,225.7 135.8,223.7 136,224 136,225.4 136.2,222.9 136.4,227.7 136.6,223.2 136.8,224 137,228.5 137.2,222 137.4,228.1 137.6,225.9 137.8,226.2 138,223.7 138.2,225.9 138.4,223.6 138.6,227.6 138.8,225.6 139,225 139.2,225.4 139.4,226.1 139.6,228.2 139.8,227.3 140,225.5 140.2,225.4 140.4,225.3 140.6,228.5 140.8,228.1 141,225.5 141.2,224.8 141.4,227.6 141.6,226.8 141.8,228.8 142,227.9 142,228.7 142.2,229.6 142.4,230.2 142.6,228.2 142.8,229.9 143,227.9 143.2,227 143.4,229.6 143.6,231.4 143.8,232 144,229.6 144.2,226.9 144.4,230.6 144.6,229.8 144.8,231.4 145,232.4 145.2,229.9 145.4,229.6 145.6,230.3 145.8,230 146,229.6 146.2,231.9 146.4,230.4 146.6,231.3 146.8,231.4 147,231.1 147.2,233.4 147.4,231.7 147.6,232.5 147.8,234.2 148,232.7 148,230.5 148.2,232.6 148.4,233 148.6,235.2 148.8,237.4 149,235.3 149.2,235.1 149.4,238.2 149.6,235 149.8,237.1 150,237.8 150.2,237.3 150.4,237.4 150.6,238.5 150.8,241.1 151,239.9 151,237.9 151.2,240 151.4,241.8 151.6,243.8 151.8,242.7 152,242.3 152.2,244.9 152.4,244.7 152.6,244 152.8,243.2 153,245.1 153,246.6 153.2,243.3 153.4,242.6 153.6,246.4 153.8,243.2 154,243.7 154.2,245.8 154.4,245.9 154.6,246.6 154.8,247 155,247.8 155.2,247 155.4,245.9 155.6,242.7 155.8,249.8 156,249.2 156.2,249.2 156.4,248.3 156.6,247 156.8,249.5 157,248.8 157.2,246.8 157.4,251 157.6,247.1 157.8,249 158,252.9 158,248.5 158.2,250.4 158.4,252.1 158.6,250.5 158.8,248.3 159,250 159.2,251 159.4,248.7 159.6,253.9 159.8,252.2 160,253.1 160.2,252.5 160.4,252.9 160.6,251.8 160.8,250.2 161,254 161.2,253.1 161.4,255.9 161.6,251.5 161.8,253.9 162,257.5 162.2,251.8 162.4,252.2 162.6,254.8 162.8,257.5 163,252.8 163.2,255.1 163.4,254.9 163.6,254.5 163.8,255.2 164,257.9 164,256 164.2,253.8 164.4,255.1 164.6,256.5 164.8,254.1 165,255.5 165.2,256.1 165.4,253.4 165.6,260.3 165.8,254.6 166,257.6 166.2,257.3 166.4,256.8 166.6,260 166.8,258.2 167,256.9 167.2,260.4 167.4,259.6 167.6,257 167.6,256.2 167.8,267.1 168,274 168,274 168.2,267.8 168.4,261.6 168.6,255.4 168.8,249.2 169,243 169,243 169.2,244.4 169.4,244.8 169.6,245.5 169.8,245.9 170,246.8 170.2,248 170.4,249.2 170.6,248.6 170.8,250.1 171,250.5 171,251.8 171.2,252.9 171.4,253.6 171.6,251.4 171.8,251.8 172,254.3 172.2,253.1 172.4,253.6 172.6,255.2 172.8,255.5 172.8,257.2 173,261.9 173.2,272.3 173.4,280 173.4,280 173.6,273.5 173.8,266.9 174,260.4 174.2,253.8 174.4,247.3 174.6,240.7 174.8,234.2 175,227.6 175.2,221.1 175.4,214.5 175.6,208 175.6,208 175.8,209.5 176,210.8 176.2,212.8 176.4,213.7 176.6,215.7 176.8,215.7 177,217.8 177,218.8 177.2,218.6 177.4,217.8 177.6,221.8 177.8,222.7 178,222.6 178.2,224.1 178.4,224.5 178.6,226.6 178.8,228.9 178.8,227.5 179,227.8 179.2,228 179.4,229.5 179.6,229.8 179.8,233.2 180,230.7 180.2,232.4 180.4,234.9 180.6,235.8 180.8,236.6 181,236.4 181.2,238.4 181.2,235.6 181.4,235.6 181.6,236.3 181.8,239.3 182,241.2 182.2,238.3 182.4,238.3 182.6,239 182.8,242.8 183,240.3 183.2,240.3 183.4,239.4 183.6,241.4 183.8,243 184,241.3 184.2,239.8 184.4,243.6 184.6,241.6 184.8,244.8 185,240.2 185.2,242 185.4,242.9 185.6,239.7 185.8,243 186,244.1 186,242.9 186.2,243.9 186.4,243.6 186.6,241.9 186.8,244.7 187,242.3 187.2,243.1 187.4,242.5 187.6,244.9 187.8,243.1 188,243.2 188.2,240.5 188.4,243.8 188.6,246 188.8,240.9 189,245.2 189.2,244.6 189.4,241.8 189.6,244.1 189.8,246.5 190,245 190.2,245.7 190.4,247.1 190.6,244.8 190.8,246.9 191,243.4 191.2,244.2 191.4,248.2 191.6,248.1 191.8,247.5 192,243.5 192,245.7 192.2,243.8 192.4,247.7 192.6,241.4 192.8,240.8 193,241.2 193.2,241.9 193.4,239.6 193.6,239.3 193.8,239.6 193.8,239.1 194,235.9 194.2,237 194.4,241.9 194.6,239.2 194.8,242.3 195,241.7 195.2,241.1 195.4,239.4 195.6,241.9 195.8,238.6 196,243.1 196.2,240.4 196.4,240.4 196.6,238.8 196.8,238.5 197,239.1 197.2,238.7 197.4,238.1 197.6,237.8 197.8,240 198,241.7 198,243 198.2,241 198.4,239.5 198.6,240.7 198.8,242.6 199,239.9 199.2,241.4 199.4,240.4 199.6,239.9 199.8,238.8 200,240.9 200.2,238.3 200.4,238 200.6,240.3 200.8,241.4 201,241.3 201.2,241.1 201.4,239.2 201.6,239.5 201.8,241.6 202,243.2 202.2,235.2 202.4,241.8 202.6,240.1 202.8,239.6 203,238.5 203.2,238.6 203.4,237.7 203.6,240.2 203.8,238.1 204,239.4 204.2,237.2 204.4,241.7 204.6,240.8 204.8,237.7 205,240.5 205,239 205.2,238.5 205.4,240.4 205.6,242 205.8,243.4 206,241.7 206.2,243.5 206.4,243 206.6,243.3 206.8,244.1 207,240.5 207.2,242.4 207.4,245.9 207.6,241.4 207.6,242.2 207.8,247.2 208,242.6 208.2,244.9 208.4,245.4 208.6,244.8 208.8,247.2 209,247.4 209.2,245.1 209.4,249.6 209.6,245.6 209.8,246.5 210,247.4 210,247.9 210.2,245.7 210.4,247.9 210.6,243.8 210.8,246.6 211,245.9 211.2,246.1 211.4,247.1 211.6,247.7 211.8,245.9 212,247.2 212.2,244.6 212.4,246.4 212.6,248.6 212.8,245.8 213,246.4 213.2,246.9 213.4,248.2 213.6,247.5 213.8,246.5 214,245.1 214.2,247.1 214.4,241.9 214.6,247.4 214.8,245.4 215,247.7 215.2,246.5 215.4,248.8 215.6,245.4 215.8,243.1 216,246.5 216,245.6 216.2,246.3 216.4,248.6 216.6,245.1 216.8,247.9 217,248.3 217.2,248.7 217.4,243.6 217.6,247.3 217.8,246 218,246.8 218.2,245.9 218.4,246.8 218.6,249 218.8,250.4 219,248.7 219.2,245.6 219.4,249.8 219.6,245.7 219.8,247.2 220,249.8 220.2,247 220.4,249.3 220.6,247.7 220.8,246.3 221,248.7 221.2,247.5 221.4,251.4 221.6,251.6 221.8,251.3 222,247 222,251.9 222.2,249.2 222.4,249.5 222.6,248.9 222.8,247.6 223,248.7 223.2,249.9 223.4,251 223.6,249.3 223.8,248.3 224,247.4 224.2,247.7 224.4,250.9 224.4,249.3 224.6,248 224.8,244.4 225,243.7 225.2,247.3 225.4,246.7 225.6,247 225.8,245 226,243 226.2,240.8 226.4,241.6 226.6,238.8 226.8,242.6 227,242.4 227.2,243.4 227.4,237.6 227.6,237.8 227.8,240.7 228,239.7 228,235.8 228.2,237.8 228.4,239.1 228.6,238.2 228.8,239.3 229,238.6 229.2,237.5 229.4,239 229.6,238.1 229.8,240.1 230,235.6 230.2,237.6 230.4,236.7 230.6,237.3 230.8,238.3 231,238.6 231.2,233.8 231.4,239.3 231.6,238.1 231.8,238 232,237.1 232.2,238.5 232.4,237.5 232.6,233.6 232.8,235.4 233,236 233.2,235.7 233.4,235.5 233.6,237.2 233.8,234.1 234,234.6 234,234.2 234.2,235.4 234.4,235.7 234.6,232.9 234.8,234.6 235,232.5 235.2,235.3 235.2,229.1 235.4,268 235.4,268 235.6,260.8 235.8,253.6 236,246.4 236.2,239.2 236.4,232 236.4,232 236.6,238.9 236.8,245.8 237,252.7 237.2,259.6 237.4,266.5 237.6,273.4 237.6,273.4 237.8,266.4 238,259.4 238.2,252.4 238.4,245.4 238.6,238.5 238.8,231.5 239,224.5 239.2,217.5 239.4,210.5 239.5,207 239.6,212 239.8,222 240,232 240.2,242 240.4,252 240.6,262 240.6,262 240.8,255.2 241,248.5 241.2,241.7 241.4,235 241.4,235 241.6,242 241.8,249 242,256 242.2,263 242.4,270 242.4,270 242.6,254.4 242.8,238.9 243,223.3 243.2,207.8 243.3,200 243.4,194.5 243.6,183.4 243.8,172.3 244,161.2 244.2,150.1 244.4,139 244.5,133.5 244.6,135.3 244.8,138.8 245,142.3 245.2,145.9 245.4,149.4 245.6,152.9 245.8,156.5 246,160 246,160 246.2,165.3 246.4,170.7 246.6,176 246.8,181.3 247,186.7 247.2,192 247.4,197.3 247.5,200 247.6,201 247.8,203 248,205 248.2,207 248.3,208 248.4,204.7 248.6,198.1 248.8,191.6 249,185 249,185 249.2,186.8 249.4,188.5 249.6,190.3 249.8,192 249.8,192 250,188 250.2,184 250.4,180 250.4,180 250.6,164.2 250.8,148.3 251,132.5 251,132.5 251.2,134.3 251.4,135.6 251.6,138.2 251.8,137.5 252,140.9 252,139.9 252.2,140.4 252.4,143.1 252.6,143 252.8,143.4 253,145.2 253.2,145.5 253.4,147.3 253.6,148.7 253.8,151.4 254,150.8 254,149.7 254.2,153.4 254.4,152.9 254.6,153.2 254.8,154 255,160.1 255.2,158.3 255.4,162.4 255.6,159.4 255.8,160.5 256,166.4 256.2,164.4 256.4,165.8 256.6,167 256.8,166.9 257,171.7 257,167.8 257.2,172.4 257.4,170.4 257.6,178 257.8,175.9 258,177.8 258.2,174.2 258.4,178.9 258.6,178.4 258.8,179.2 259,180.4 259.2,184.5 259.4,184.4 259.6,184.6 259.8,185.6 260,186.8 260,187 260.2,187.9 260.4,186.9 260.6,187.9 260.8,186.1 261,190.4 261.2,192 261.4,190.7 261.6,194.4 261.8,191.2 262,193.1 262.2,195.6 262.4,194.6 262.6,193.3 262.8,195.8 263,195 263.2,198.1 263.4,198.1 263.6,196.9 263.8,198.7 264,201.3 264.2,200.8 264.4,200.8 264.6,199.5 264.8,199.4 265,199.6 265,202.7 265.2,199.4 265.4,202.3 265.6,204.7 265.8,199.6 266,203.3 266.2,201.4 266.4,203.2 266.6,204.7 266.8,202.5 267,202.2 267.2,204.2 267.4,205.6 267.6,204.9 267.8,204.3 268,207.5 268.2,204.7 268.4,204.5 268.6,207.6 268.8,211.5 269,207.2 269.2,208.3 269.4,207.1 269.6,208.1 269.8,207.6 270,210.4 270,208.7 270.2,209 270.4,212.3 270.6,208.6 270.8,213.1 271,211.6 271.2,210.7 271.4,212.7 271.6,212.6 271.8,214.1 272,213.5 272.2,217.6 272.4,216.5 272.6,217 272.8,213.4 273,215.3 273.2,218.4 273.4,217.8 273.6,217.2 273.8,217.4 274,219.7 274,214.7 274.2,216.6 274.4,216 274.6,220.5 274.8,216.4 275,218.5 275.2,221.5 275.4,218.8 275.6,220 275.8,219.8 276,221.1 276.2,223.9 276.4,218.3 276.6,220.5 276.8,223.6 277,225 277,220.6 277.2,223.2 277.4,221.9 277.6,221.7 277.8,218.1 278,217.7 278.2,220.6 278.4,220 278.6,220 278.8,218 279,222.4 279.2,219.5 279.4,224.4 279.6,219.3 279.8,220.2 280,220.8 280.2,218.8 280.4,217.5 280.6,218.2 280.8,219.1 281,218.1 281.2,222.3 281.4,217.9 281.6,220 281.8,220 282,218.8 282.2,216.5 282.4,219.2 282.6,219.8 282.8,218.4 283,218 283,214.3 283.2,216 283.4,217.4 283.6,217.9 283.8,218.7 284,216.7 284.2,217.4 284.4,215.2 284.6,217.9 284.8,217.9 285,216.4 285.2,218.1 285.4,215.8 285.6,215.3 285.8,215.5 286,219.3 286.2,212.9 286.4,215.9 286.6,214.8 286.8,215.5 287,212.6 287.2,216.3 287.4,216 287.6,214.3 287.8,213.8 288,214.5 288.2,215.9 288.4,211.5 288.6,216.4 288.8,213.3 289,215.2 289.2,212.2 289.4,216.8 289.6,213.8 289.8,216.2 290,212 290,211.9 290.2,214.7 290.4,213.8 290.6,212.9 290.8,214.2 291,212.6 291.2,211 291.4,208.1 291.6,207.2 291.8,212 292,211.6 292.2,208.9 292.4,211.1 292.6,209.6 292.8,209.8 293,211.1 293.2,206.5 293.4,209.6 293.6,209.7 293.8,208.2 294,208.6 294.2,206.1 294.4,208.1 294.6,208.7 294.8,208.7 295,205.9 295.2,208.2 295.4,207.1 295.6,207.5 295.8,206.1 296,207 296.2,206 296.4,209.6 296.6,204.6 296.8,206.9 297,204.6 297.2,201.9 297.4,205 297.6,206.1 297.8,205 298,204.8 298.2,201.8 298.4,203.5 298.6,200.4 298.8,205.6 299,204.9 299.2,200.2 299.4,201.1 299.6,199.4 299.8,200 300,200.3 300,199.1 300.2,200.1 300.4,201.8 300.6,200.1 300.8,201.7 301,200 301.2,200.3 301.4,197.8 301.6,201.4 301.8,197.7 302,198.8 302.2,197.1 302.4,200 302.6,197.2 302.8,199.8 303,202 303.2,199.1 303.4,194.5 303.6,199.9 303.8,198.3 304,198.9 304.2,198.4 304.4,199.6 304.6,199.1 304.8,197.1 305,194.9 305.2,196.8 305.4,198.1 305.6,193.4 305.8,196.7 306,193.2 306.2,198.1 306.4,199.2 306.6,197.3 306.8,194.9 307,196.9 307.2,197.6 307.4,198.1 307.6,197.5 307.8,196.8 308,193 308.2,194.4 308.4,195.2 308.6,194.3 308.8,190.7 309,193.6 309.2,192.5 309.4,193.9 309.6,194 309.8,190.8 310,191.8 310,193.4 310.2,191.2 310.4,192.8 310.6,191.3 310.8,191.5 311,194.1 311.2,192.3 311.4,191.4 311.6,194.9 311.8,191.6 312,192 312.2,192 312.4,197.1 312.6,192.9 312.8,193.2 313,190.9 313.2,192.9 313.4,193.3 313.6,189.3 313.8,191.9 314,193.9 314.2,194.1 314.4,191.3 314.6,194.8 314.8,189.5 315,192.4 315.2,191.4 315.4,188.6 315.6,192 315.8,188 316,189 316.2,189.8 316.4,187.8 316.6,191.8 316.8,188.9 317,187.5 317.2,190 317.4,189.4 317.6,187.4 317.8,188.3 318,190.7 318.2,190.4 318.4,186.2 318.6,190.5 318.8,190.4 319,190.6 319.2,187.7 319.4,187.1 319.6,188.2 319.8,187.1 320,187.7 320,187.1 320.2,187.6 320.4,187.1 320.6,187.9 320.8,188.1 321,187.2 321.2,186.6 321.4,190.3 321.6,189 321.8,188.1 322,185.7 322.2,188.2 322.4,186.8 322.6,188 322.8,187.2 323,191.1 323.2,186.7 323.4,184.8 323.6,188.3 323.8,188.4 324,188.6 324.2,181.7 324.4,184.5 324.6,184.6 324.8,183.1 325,186 325.2,186.8 325.4,187.5 325.6,187.1 325.8,185.4 326,188 326.2,185.6 326.4,180.3 326.6,184.5 326.8,183.6 327,185.4 327.2,184 327.4,184 327.6,186.9 327.8,183.1 328,181.9 328.2,184.6 328.4,185.2 328.6,183.8 328.8,183.9 329,182.8 329.2,181.4 329.4,182.3 329.6,181.7 329.8,185.6 330,182.9 330.2,185.7 330.4,182.9 330.6,181.5 330.8,183.3 331,183.2 331.2,185.1 331.4,179.2 331.6,181.9 331.8,183.2 332,181.1 332.2,182.5 332.4,181.7 332.6,184.6 332.8,184.2 333,178.4 333,179.3 333.2,180.6 333.4,181.9 333.6,181.8 333.8,181.3 334,183.3 334.2,183.8 334.4,182.5 334.6,181.9 334.8,182.5 335,181.1 335.2,184 335.4,184.1 335.6,181.1 335.8,185.3 336,182.7 336.2,184.3 336.4,182.9 336.6,182.7 336.8,184.3 337,181.4 337.2,182.7 337.4,181.1 337.6,184.2 337.8,182.9 338,182.8 338.2,182.5 338.4,184.7 338.6,184 338.8,183.2 339,182.9 339.2,186.9 339.4,186.5 339.6,181.9 339.8,186.1 340,184.9 340,184.5 340.2,184.7 340.4,181.5 340.6,188.3 340.8,187.5 341,183.9 341.2,183.9 341.4,184.1 341.6,182.6 341.8,184.7 342,183.7 342.2,181.8 342.4,182.8 342.6,182.5 342.8,182.5 343,183 343.2,184.7 343.4,182.8 343.6,180.6 343.8,186 344,182.4 344.2,186 344.4,183.8 344.6,184.3 344.8,181.8 345,183.5 345.2,182.6 345.4,183.2 345.6,184.1 345.8,182.5 346,184.7 346.2,180.6 346.4,181.2 346.6,183.9 346.8,184 347,185 347.2,185.9 347.4,183.8 347.6,184.4 347.8,183.4 348,183.2 348,182.8 348.2,183.3 348.4,182.1 348.6,182.9 348.8,184.7 349,184.3 349.2,185.5 349.4,182.7 349.6,182.9 349.8,184.4 350,182.2 350.2,182.2 350.4,185 350.6,183.4 350.8,185.6 351,184.2 351.2,183.4 351.4,182.3 351.6,186.4 351.8,184.2 352,182.8 352.2,181.8 352.4,182.3 352.6,183.9 352.8,186.9 353,183.1 353.2,185.4 353.4,185.3 353.6,178.9 353.8,182.7 354,186.6 354.2,181.4 354.4,187.3 354.6,185.3 354.8,182.3 355,188.8 355,185.2 355.2,188.1 355.4,185.4 355.6,183.5 355.8,186.7 356,187.8 356.2,186.6 356.4,181.9 356.6,185.1 356.8,181.6 357,182.4 357.2,185.8 357.4,180.5 357.6,187.5 357.8,179.9 358,180.2 358.2,183.8 358.4,181.8 358.6,181.7 358.8,180.1 359,183 359.2,181.9 359.4,181.1 359.6,179.6 359.8,178.1 360,180.7 360.2,176.4 360.4,179.1 360.6,181.3 360.8,181.2 361,179 361.2,174.7 361.4,180.4 361.6,180.8 361.8,179.1 362,181.2 362,180.7 362.2,175.6 362.4,178.2 362.6,177.6 362.8,181.4 363,180.4 363.2,178.5 363.4,179.3 363.6,179.8 363.8,176.7 364,177.6 364.2,177.7 364.4,177 364.6,177.1 364.8,178.1 365,175.1 365.2,175.3 365.4,178.9 365.6,180.2 365.8,180.7 366,173.8 366.2,177.8 366.4,175.4 366.6,175.9 366.8,176.4 367,177.5 367.2,177.7 367.4,172 367.6,175.3 367.8,178.4 368,176.5 368.2,173.1 368.4,174.2 368.6,174.5 368.8,177.9 369,179.2 369.2,173.7 369.4,176.7 369.6,175.1 369.8,176.6 370,175 370.2,173.2 370.4,174 370.6,173.9 370.8,177.9 371,173.6 371.2,176 371.4,173.2 371.6,173.5 371.8,175.1 372,173.5 372.2,178.2 372.4,176.9 372.6,172.2 372.8,175.2 373,177 373.2,171.8 373.4,173.2 373.6,176.7 373.8,172.2 374,174.9 374,173.6 374.2,174 374.4,171.6 374.6,173.3 374.8,172.5 375,176.7 375.2,174.4 375.4,173.3 375.6,173 375.8,174.2 376,169.7 376.2,170.8 376.4,170.9 376.6,171 376.8,169.3 377,173.4 377.2,171.4 377.4,174.6 377.6,171.9 377.8,171.3 378,172.8 378.2,172.7 378.4,171.2 378.6,172.8 378.8,174 379,170.6 379.2,173.9 379.4,170.9 379.6,172.9 379.8,171 380,170.3 380.2,171.5 380.4,168.7 380.6,167.6 380.8,170.6 381,170.1 381.2,168.3 381.4,174.5 381.6,171.1 381.8,168.8 382,171.1 382.2,171.1 382.4,169.2 382.6,169.4 382.8,166.1 383,170.1 383.2,173.3 383.4,171.7 383.6,171.4 383.8,168.2 384,167.1 384.2,170.8 384.4,169.6 384.6,168.5 384.8,168.2 385,170.6 385.2,169.9 385.4,167.7 385.6,168.3 385.8,165.1 386,166 386,169.4 386.2,167.4 386.4,166.6 386.6,168.9 386.8,170.9 387,166.8 387.2,167.8 387.4,167.9 387.6,173.3 387.8,170.5 388,169 388.2,165.7 388.4,170 388.6,169.7 388.8,168.2 389,167.1 389.2,167.7 389.4,165.4 389.6,167.9 389.8,167.8 390,166.9 390.2,168.1 390.4,165.6 390.6,171 390.8,168.5 391,166.5 391.2,170.3 391.4,169.9 391.6,167.9 391.8,166.3 392,168.8 392.2,169.8 392.4,170.2 392.6,170.8 392.8,170.7 393,166.1 393.2,169.2 393.4,165.3 393.6,171 393.8,169.9 394,171 394,169.2 394.2,169.1 394.4,168.1 394.6,163.7 394.8,168.9 395,174.5 395.2,172 395.4,169.1 395.6,170.2 395.8,170.5 396,168.6 396.2,169.8 396.4,170.5 396.6,168.9 396.8,170.9 397,172.5 397.2,171.8 397.4,170.7 397.6,169.9 397.8,171.8 398,169.3 398.2,169.2 398.4,173 398.6,169.8 398.8,167.9 399,172.4 399.2,172.2 399.4,173.1 399.6,170.7 399.8,173.3 400,170.8 400.2,169.1 400.4,170.8 400.6,171.7 400.8,169.1 401,171 401,171.8 401.2,170.4 401.4,171.3 401.6,171 401.8,169.3 402,171.5 402.2,171.9 402.4,166.6 402.6,169.2 402.8,172.1 403,171.3 403.2,166.5 403.4,170.6 403.6,172.9 403.8,171.7 404,171.4 404.2,169.6 404.4,169.8 404.6,167.3 404.8,169.5 405,174 405.2,169.2 405.4,167.3 405.6,170.2 405.8,164.9 406,173.5 406.2,170.1 406.4,168.2 406.6,167.9 406.8,166.7 407,168.6 407.2,168.4 407.4,165.1 407.6,170.1 407.8,167.3 408,165.7 408.2,169.7 408.4,169.2 408.6,166.4 408.8,166.2 409,169.6 409.2,166.5 409.4,167.6 409.6,169.9 409.8,164.5 410,163.8 410,165.2 410.2,165.7 410.4,166.8 410.6,168.7 410.8,165.8 411,170 411.2,166.9 411.4,162.4 411.6,166.3 411.8,167.7 412,168.5 412.2,164.7 412.4,165.8 412.6,170.6 412.8,166.2 413,164 413.2,162.6 413.4,164.8 413.6,166.4 413.8,163.3 414,168.3 414.2,163.9 414.4,161.4 414.6,166.6 414.8,165.3 415,164.6 415.2,167.7 415.4,163.7 415.6,166.3 415.8,163.7 416,168.1 416.2,164.7 416.4,164.7 416.6,165.8 416.8,164.3 417,165.3 417.2,163.8 417.4,165.5 417.6,164.3 417.8,163 418,165.2 418,165 418.2,161.7 418.4,163.1 418.6,160.1 418.8,163.6 419,165 419.2,168.1 419.4,163.5 419.6,164.9 419.8,165.6 420,163.9 420.2,158.4 420.4,161.1 420.6,162.7 420.8,162.4 421,161.9 421.2,159.6 421.4,157.4 421.6,161.9 421.8,163.4 422,159.8 422.2,161.8 422.4,159.4 422.6,160.1 422.8,159 423,161.8 423.2,158 423.4,160 423.6,161.4 423.8,159.4 424,156.7 424.2,159.9 424.4,158.5 424.6,156.1 424.8,158.2 425,157.8 425.2,159.6 425.4,157.1 425.6,158.2 425.8,159.1 426,153.6 426,159.7 426.2,157.6 426.4,155.4 426.6,157.7 426.8,159.5 427,155.9 427.2,156.1 427.4,160 427.6,160.4 427.8,161.2 428,157.1 428.2,154.9 428.4,154.9 428.6,156.1 428.8,154.6 429,157.6 429.2,159.3 429.4,154.3 429.6,159.6 429.8,154.5 430,154.9 430.2,153.4 430.4,157.8 430.6,156 430.8,156.1 431,149.9 431,154.8 431.2,156.8 431.4,150.4 431.6,160.5 431.8,157.1 432,158.8 432.2,156 432.4,158.7 432.6,159.6 432.8,162.4 433,154.9 433.2,161.6 433.4,155 433.6,157.7 433.8,156.7 434,157.3 434.2,153.6 434.4,157.2 434.6,155.4 434.8,157.6 435,158.7 435,158.3 435.2,158.3 435.4,161.9 435.6,160.1 435.8,161 436,163 436.2,160.4 436.4,161.2 436.6,162.8 436.8,161.2 437,164.9 437.2,161.2 437.4,162.5 437.6,163.1 437.8,163.1 438,164.1 438,163.2 438.2,159 438.4,166.6 438.6,163.1 438.8,165.6 439,161.7 439.2,165.2 439.4,161.1 439.6,167 439.8,163.5 440,162.8 440.2,157.6 440.4,158.8 440.6,162.6 440.8,162.2 441,162.2 441.2,162.4 441.4,165.6 441.6,162.6 441.8,162.5 442,161.7 442.2,161 442.4,164.1 442.6,162.3 442.8,162.4 443,163.8 443.2,163.3 443.4,164.8 443.6,164.7 443.8,160.3 444,161.3 444.2,165.1 444.4,162.1 444.6,164.3 444.8,161 445,157.6 445.2,158 445.4,161.3 445.6,161.8 445.8,167.9 446,164.3 446.2,164.2 446.4,164.7 446.6,159.1 446.8,162.7 447,162.3 447.2,166.8 447.4,161 447.6,159.3 447.8,162.6 448,162 448.2,162.6 448.4,162.9 448.6,162.7 448.8,160.9 449,161.3 449.2,167.3 449.4,160.9 449.6,163.3 449.8,160 450,158.4 450,164.1 450.2,162.6 450.4,165.1 450.6,164.6 450.8,162.8 451,160.7 451.2,166.6 451.4,162.5 451.6,167.2 451.8,164 452,164.5 452.2,163.9 452.4,163.6 452.6,162.2 452.8,167.8 453,160.7 453.2,159.4 453.4,163.4 453.6,161.3 453.8,164.9 454,162.4 454.2,165.4 454.4,163 454.6,161.1 454.8,162.1 455,164.4 455.2,161.5 455.4,161 455.6,162.4 455.8,163.6 456,165.6 456,163.8 456.2,164.9 456.4,162.8 456.6,167.4 456.8,168.3 457,162.2 457.2,164.3 457.4,163.7 457.6,164.8 457.8,163.5 458,162.8 458.2,161.7 458.4,163.6 458.6,164.9 458.8,167.3 459,166.4 459.2,164.4 459.4,164 459.6,162.2 459.8,167.3 460,166.1 460.2,167.4 460.4,167.9 460.6,167.6 460.8,166.3 461,166 461.2,164.6 461.4,165.5 461.6,168 461.8,172.3 462,166.5 462,167.9 462.2,174.4 462.4,167.4 462.6,166.4 462.8,167.1 463,166.5 463.2,162.6 463.4,168.7 463.6,162.8 463.8,165.4 464,165.6 464.2,167.5 464.4,165.9 464.6,165.3 464.8,164.3 465,166.7 465.2,165.3 465.4,164.4 465.6,162.9 465.8,163.9 466,166.1 466.2,162.1 466.4,165.9 466.6,165.7 466.8,168 467,163.8 467.2,163.1 467.4,165 467.6,164.3 467.8,159.2 468,167.7 468.2,165.4 468.4,165.2 468.6,162.9 468.8,165.5 469,164 469.2,168.2 469.4,166.1 469.6,167.7 469.8,161.6 470,162.3 470,163.4 470.2,162.8 470.4,167.8 470.6,164.9 470.8,161.6 471,163.3 471.2,168 471.4,163.1 471.6,165.1 471.8,159.7 472,162.3 472.2,163.1 472.4,162.8 472.6,163.3 472.8,164 473,165.8 473.2,159.1 473.4,163.1 473.6,164.5 473.8,163.4 474,165.4 474.2,162.4 474.4,161.6 474.6,160.6 474.8,164.5 475,159.4 475.2,161.3 475.4,162.1 475.6,163.5 475.8,161.4 476,159.8 476.2,163.2 476.4,159.2 476.6,160 476.8,157 477,161.9 477.2,161.8 477.4,157.3 477.6,160.7 477.8,162.5 478,159.5 478.2,157.2 478.4,160.7 478.6,162.2 478.8,156.5 479,162.6 479.2,160.4 479.4,162.6 479.6,158 479.8,162.5 480,161 480,162.1 480.2,160.4 480.4,162.4 480.6,159.7 480.8,159 481,157.5 481.2,156.2 481.4,159.9 481.6,158.9 481.8,159.3 482,158.8 482.2,160.2 482.4,159.5 482.6,157.9 482.8,160.9 483,164 483.2,157 483.4,157.9 483.6,160.2 483.8,157.1 484,161.1 484.2,157.1 484.4,155.8 484.6,156.3 484.8,160.9 485,153.7 485.2,158.6 485.4,153.2 485.6,159.9 485.8,159 486,159.6 486.2,163 486.4,157.8 486.6,160.6 486.8,159.2 487,160.3 487.2,156 487.4,160.3 487.6,156.9 487.8,161.1 488,159.7 488.2,157.6 488.4,158.8 488.6,158.6 488.8,157.8 489,163.5 489.2,155.2 489.4,153.9 489.6,153.9 489.8,156.4 490,156.8 490.2,158.4 490.4,159.1 490.6,157.3 490.8,157 491,154.4 491.2,158.9 491.4,159.7 491.6,156.1 491.8,158 492,154.7 492.2,156.1 492.4,156.3 492.6,158 492.8,152.4 493,156 493.2,157.9 493.4,156.5 493.6,157.2 493.8,149.5 494,153.3 494,154.4 494.2,153.9 494.4,150.4 494.6,158.9 494.8,157.2 495,152.3 495.2,156.1 495.4,157.7 495.6,160.2 495.8,159.8 496,156.1 496.2,157.3 496.4,159.8 496.6,161.9 496.8,158.8 497,158.7 497,161.6 497.2,160.4 497.4,163.2 497.6,160.9 497.8,162 498,154.7 498.2,156 498.4,155.4 498.6,157.2 498.8,159.6 499,157.9 499.2,159.6 499.4,156.4 499.6,160.4 499.8,160 500,153.6 500.2,155 500.4,155.9 500.6,159.2 500.8,159 501,161.3 501.2,153.1 501.4,157.1 501.6,156.4 501.8,155.6 502,155.8 502.2,151 502.4,156.5 502.6,154.6 502.8,152.4 503,158.8 503.2,153.5 503.4,155.6 503.6,153.2 503.8,150.9 504,153.4 504.2,155.2 504.4,151.8 504.6,155.3 504.8,158.1 505,156.7 505.2,152.9 505.4,151.6 505.6,155.6 505.8,149.8 506,150.5 506.2,157.1 506.4,153.7 506.6,153.8 506.8,151.8 507,159.3 507.2,159.9 507.4,151.7 507.6,154 507.8,151.1 508,152.8 508.2,154.8 508.4,154.6 508.6,150.7 508.8,152.1 509,157.9 509.2,153.2 509.4,154.2 509.6,152 509.8,150.2 510,147.6 510,147.9 510.2,146 510.4,147.2 510.6,147.5 510.8,151.2 511,145.2 511.2,150.1 511.4,144 511.6,155.1 511.8,147 512,148.6 512.2,152.4 512.4,147.4 512.6,147.9 512.8,147.8 513,148.6 513.2,145.8 513.4,151.2 513.6,149.5 513.8,146.8 514,149.3 514.2,145.8 514.4,144.5 514.6,145.4 514.8,146.6 515,141.4 515.2,144.2 515.4,146 515.6,141.9 515.8,145.3 516,141.5 516.2,144.5 516.4,143.6 516.6,144.5 516.8,141.6 517,138.3 517.2,136.6 517.4,152 517.6,139 517.8,140.2 518,138.1 518,145.6 518.2,144.6 518.4,145.5 518.6,141.1 518.8,147.1 519,143.3 519.2,148.8 519.4,146.1 519.6,141.2 519.8,147.3 520,146 520,154.1 520.2,144.3 520.4,146.4 520.6,145.9 520.8,144 521,143.8 521.2,145 521.4,145.5 521.6,143 521.8,142.9 522,143.1 522.2,140.2 522.4,141.5 522.6,141.6 522.8,143.6 523,142.2 523.2,141.3 523.4,141.8 523.6,137.1 523.8,141.4 524,137.1 524.2,137.2 524.4,136 524.6,138.2 524.8,134.4 525,137 525.2,134.2 525.4,133.3 525.6,135 525.8,131.4 526,135.9 526.2,130.7 526.4,130.8 526.6,134.4 526.8,127.3 527,132.7 527.2,130.1 527.4,129.7 527.6,129.4 527.8,126.2 528,132 528,129.3 528.2,129.3 528.4,129.3 528.6,129.4 528.8,127.5 529,124.1 529.2,123 529.4,122.5 529.6,124.4 529.8,127.7 530,121.7 530.2,123.7 530.4,125.8 530.6,123.1 530.8,123 531,120.7 531.2,123.5 531.4,121.3 531.6,120.7 531.8,121.1 532,122.7 532.2,123.9 532.4,118.4 532.6,122.1 532.8,117.9 533,115.7 533.2,118.4 533.4,119.9 533.6,119.3 533.8,120 534,113.9 534.2,121.9 534.4,120.2 534.6,119.6 534.8,113.7 535,118.5 535.2,115.8 535.4,115.5 535.6,116.5 535.8,112.2 536,118.5 536.2,118.1 536.4,117.2 536.6,118.4 536.8,110.5 537,113.6 537.2,113.2 537.4,110.7 537.6,115.5 537.8,119.4 538,110.3 538.2,114 538.4,112.5 538.6,112.4 538.8,112 539,113.1 539.2,109.6 539.4,109.9 539.6,114.6 539.8,110.3 540,109.9 540,105.7 540.2,110.9 540.4,111 540.6,110 540.8,113 541,104.1 541.2,110.9 541.4,104.5 541.6,105.7 541.8,103.2 542,109.9 542.2,107.4 542.4,106.4 542.6,107.3 542.8,101.9 543,105.3 543.2,107.1 543.4,104.9 543.6,106 543.8,102.1 544,106.2 544.2,104.8 544.4,105.9 544.6,109 544.8,105.1 545,103.3 545.2,105.5 545.4,101.6 545.6,108.1 545.8,103.9 546,103.8 546.2,104.7 546.4,100.2 546.6,103 546.8,102.3 547,107.9 547.2,106 547.4,106.7 547.6,102.2 547.8,102.2 548,104.2 548.2,99.8 548.4,99 548.6,104.9 548.8,102 549,101.8 549.2,96.3 549.4,99.2 549.6,98.9 549.8,98.1 550,100.4 550,97.4 550.2,96.6 550.4,104 550.6,100.2 550.8,96.4 551,103.8 551.2,99.9 551.4,99.2 551.6,91.6 551.8,101.6 552,98.2 552.2,100.6 552.4,101.6 552.6,94.1 552.8,101.6 553,98.9 553.2,96.9 553.4,90.9 553.6,101.1 553.8,96.9 554,97.4 554.2,92.8 554.4,97 554.6,96.7 554.8,98.8 555,92.7 555.2,89.4 555.4,93 555.6,91.9 555.8,94.8 556,93.5 556.2,94.2 556.4,96.6 556.6,97.4 556.8,93.2 557,89 557.2,92.7 557.4,92 557.6,92.1 557.8,91.7 558,91.8 558.2,86.3 558.4,92.7 558.6,92.4 558.8,91.8 559,90.5 559.2,92.7 559.4,86.3 559.6,89.9 559.8,91.3 560,88.6 560,89.6 560.2,91.9 560.4,88.8 560.6,86.8 560.8,87.5 561,89.3 561.2,85.7 561.4,88 561.6,86.7 561.8,87.6 562,89 562.2,88.7 562.4,86.9 562.6,87 562.8,88.1 563,84.1 563.2,86.1 563.4,82.7 563.6,88.2 563.8,85.2 564,81.6 564.2,83.3 564.4,86 564.6,84.7 564.8,79.8 565,87.7 565.2,83.8 565.4,83.9 565.6,82 565.8,80.6 566,78.7 566.2,82.4 566.4,81.7 566.6,80.9 566.8,83.1 567,81.8 567.2,78.3 567.4,79.6 567.6,83 567.8,76.8 568,84.9 568,78.5 568.2,85.9 568.4,80.8 568.6,75.9 568.8,80.7 569,79.8 569.2,78.5 569.4,79.6 569.6,79.6 569.8,71.6 570,81.1 570.2,78.6 570.4,79.3 570.6,80.9 570.8,79.2 571,76.2 571.2,81 571.4,78.3 571.6,79.5 571.8,77.2 572,78.5 572.2,76.5 572.4,82.5 572.6,76.2 572.8,81 573,74.1 573.2,79.2 573.4,77.9 573.6,80.8 573.8,79 574,83.8 574.2,85.4 574.4,77 574.6,79.9 574.8,75.9 575,75.8 575.2,78 575.4,80.2 575.6,79.6 575.8,77.5 576,80.6 576,75.1 576.2,75.7 576.4,77.7 576.6,73.5 576.8,81.1 577,77.5 577.2,77 577.4,78.8 577.6,74.5 577.8,77.5 578,73.6 578.2,77.3 578.4,78 578.6,81.5 578.8,77.7 579,80.9 579.2,77.6 579.4,73.7 579.6,79.4 579.8,77.7 580,76.1 580.2,79.7 580.4,74.9 580.6,76.5 580.8,79.1 581,79.4 581.2,75.8 581.4,78 581.6,77.5 581.8,78.8 582,76.7 582.2,72.1 582.4,76.3 582.6,80.8 582.8,75.1 583,76.6 583.2,79.1 583.4,76.5 583.6,74.4 583.8,76.9 584,76.5 584,74.9 584.2,76.5 584.4,73.4 584.6,72.9 584.8,73.9 585,76 585.2,76.4 585.4,74.8 585.6,78.8 585.8,77.5 586,76.1 586.2,78.6 586.4,79.4 586.6,77.4 586.8,74.3 587,77.6 587.2,78.3 587.4,76.3 587.6,75 587.8,75.8 588,75.9 588,70.6 588.2,80.4 588.4,78.4 588.6,84.6 588.8,81.6 589,81.1 589.2,86.6 589.4,86.5 589.6,90 589.8,88.4 590,90 590,89.4 590.2,89 590.4,91.3 590.6,86.8 590.8,89.9 591,91.7 591.2,86.3 591.4,87.7 591.6,85.9 591.8,86.5 592,87.4 592.2,88.3 592.4,88.3 592.6,84.2 592.8,87 593,83.5 593.2,81.8 593.4,81.9 593.6,79.1 593.8,83.5 594,78.5 594,83.4 594.2,89.1 594.4,80.4 594.6,77.4 594.8,83.2 595,79.6 595.2,81.8 595.4,81.8 595.6,82.2 595.8,87 596,82.1 596.2,81.8 596.4,80.8 596.6,79.1 596.8,79.2 597,78 597.2,82.4 597.4,79.8 597.6,81.6 597.8,80.7 598,85.1 598.2,79.3 598.4,80.9 598.6,77.8 598.8,81.9 599,78.5 599.2,78.9 599.4,75.3 599.6,79.8 599.8,82.3 600,81.4 600,75.5 600.2,80.1 600.4,76.1 600.6,73.7 600.8,74.5 601,80.3 601.2,76.4 601.4,74 601.6,77.7 601.8,77.4 602,75.7 602.2,77.5 602.4,75.2 602.6,78.9 602.8,77.6 603,75.4 603.2,76.3 603.4,77.4 603.6,74.8 603.8,76.2 604,74.4 604.2,73.7 604.4,69.7 604.6,71.2 604.8,71.5 605,73.9 605.2,79.9 605.4,71.1 605.6,72.2 605.8,69.9 606,71.9 606.2,72.1 606.4,74.2 606.6,69 606.8,73.4 607,72.6 607,71.3 607.2,69.3 607.4,70 607.6,72.4 607.8,74.6 608,73.2 608.2,71.9 608.4,74.8 608.6,71.8 608.8,76.6 609,82.1 609.2,73.9 609.4,78.1 609.6,73.5 609.8,76.4 610,77.8 610.2,79.7 610.4,77.2 610.6,80.7 610.8,74.6 611,77.5 611,78 611.2,79.7 611.4,80.6 611.6,86.9 611.8,82.9 612,87.8 612.2,87.8 612.4,93.3 612.6,89.2 612.8,93 613,94.1 613.2,86.3 613.4,96.6 613.6,99.6 613.6,100.8 613.8,93.6 614,94.8 614.2,97.4 614.4,90.7 614.6,90.6 614.8,93.1 615,92.4 615.2,93.1 615.4,91.7 615.6,88.5 615.8,84.5 616,84.6 616,86.2 616.2,87.1 616.4,86.3 616.6,88.1 616.8,84.3 617,85 617.2,82.9 617.4,90.9 617.6,85.6 617.8,88.4 618,89.1 618.2,86.8 618.4,85.5 618.6,84.7 618.8,85.3 619,81.7 619.2,84.5 619.4,87.7 619.6,86.5 619.8,87.8 620,87.7 620.2,87.5 620.4,86 620.6,86.2 620.8,87.9 621,84.7 621.2,82.3 621.4,87.6 621.6,85.6 621.8,88.1 622,83.9 622.2,81.4 622.4,85 622.6,83.8 622.8,83 623,89.1 623.2,86 623.4,82.4 623.6,81.4 623.8,85 624,86.6 624,85.9 624.2,87.9 624.4,85.7 624.6,85.9 624.8,79.9 625,87.5 625.2,82.9 625.4,86.3 625.6,80.1 625.8,81.5 626,86.4 626.2,80.4 626.4,83.6 626.6,82.1 626.8,87.1 627,83.7 627.2,85.7 627.4,82.3 627.6,78.1 627.8,87 628,80.5 628.2,81.9 628.4,81.5 628.6,77.6 628.8,83 629,80.1 629.2,76.6 629.4,77.1 629.6,75 629.8,78.5 630,79.7 630,77.8 630.2,80.2 630.4,79.6 630.6,81.8 630.8,80.7 631,80.4 631.2,78.9 631.4,78.2 631.6,79 631.8,82.2 632,80.3 632.2,85.1 632.4,83.7 632.6,78.5 632.8,83 633,85.1 633,80.5 633.2,85.9 633.4,81.9 633.6,88.3 633.8,86.6 634,85.5 634.2,82.8 634.4,87.4 634.6,86.6 634.8,90.2 635,87.9 635,91.2 635.2,88.8 635.4,91.3 635.6,91.7 635.8,90.1 636,90.7 636.2,92.1 636.4,87 636.6,90.7 636.8,89.7 637,92.9 637.2,88.4 637.4,91.2 637.6,84.5 637.8,91.6 638,89.5 638.2,89.3 638.4,90.4 638.6,85 638.8,87.4 639,88.1 639.2,87 639.4,86.4 639.6,89.9 639.8,87.5 640,86.7 640.2,87.3 640.4,90.3 640.6,91.5 640.8,89.5 641,88 641.2,83.4 641.4,85.2 641.6,84.2 641.8,84 642,89.1 642.2,84.6 642.4,89.3 642.6,86.1 642.8,85.4 643,85.1 643.2,82.1 643.4,84.4 643.6,87.4 643.8,86.9 644,85.5 644,86.8 644.2,85.5 644.4,86 644.6,90.9 644.8,85.4 645,80.8 645.2,79.8 645.4,83.2 645.6,85.5 645.8,87.3 646,84.8 646.2,85.2 646.4,86.3 646.6,82.5 646.8,84.7 647,85.6 647.2,83.8 647.4,82.7 647.6,86 647.8,87.4 648,84.9 648.2,79 648.4,82.7 648.6,83.6 648.8,85.7 649,83.4 649.2,83.5 649.4,86.9 649.6,87.6 649.8,84.7 650,81.8 650.2,81.4 650.4,85.9 650.6,82.5 650.8,84.3 651,83.8 651.2,84.6 651.4,85.1 651.6,81.7 651.8,82.6 652,84.6 652.2,84.2 652.4,80.8 652.6,88.8 652.8,80.7 653,86.6 653.2,80.1 653.4,86.4 653.6,79.7 653.8,86.2 654,84.4 654,85.9 654.2,82.3 654.4,84.8 654.6,84.9 654.8,84.8 655,83.2 655.2,88 655.4,80.4 655.6,81.2 655.8,81.5 656,88.6 656.2,83.2 656.4,83.7 656.6,83.8 656.8,84.9 657,85.2 657.2,84.7 657.4,82.4 657.6,87.2 657.8,86.3 658,90.1 658.2,87.6 658.4,86.5 658.6,83.3 658.8,87.1 659,88.5 659.2,91.2 659.4,88.3 659.6,89.4 659.8,89 660,91.7 660.2,90.6 660.4,88.1 660.6,84.6 660.8,92.2 661,88.6 661.2,86.5 661.4,85.1 661.6,84.4 661.8,89.5 662,88.6 662,89.7 662.2,91.9 662.4,87.4 662.6,89.6 662.8,87.6 663,86.7 663.2,83.4 663.4,86.9 663.6,91.4 663.8,87.5 664,89.4 664.2,88.9 664.4,93.6 664.6,92.2 664.8,87 665,87.5 665.2,91.3 665.4,89.1 665.6,88.8 665.8,91.3 666,89.8 666.2,88.8 666.4,95.8 666.6,89.4 666.8,85.1 667,89.2 667.2,89 667.4,92.4 667.6,89.1 667.8,86.7 668,89.1 668.2,85.2 668.4,87.3 668.6,89 668.8,86 669,83.1 669.2,85.5 669.4,86 669.6,89.3 669.8,86.8 670,87.7 670.2,85.5 670.4,87.9 670.6,86.2 670.8,89.1 671,88.3 671.2,91.2 671.4,89 671.6,86.8 671.8,85.4 672,88 672,89.3 672.2,91.2 672.4,85.9 672.6,83.9 672.8,82.6 673,84.5 673.2,86.3 673.4,86 673.6,85.8 673.8,86.3 674,87.1 674.2,82.1 674.4,86.2 674.6,85.6 674.8,85.4 675,84.7 675.2,81.1 675.4,86.6 675.6,84.2 675.8,85 676,85.9 676.2,85.2 676.4,86 676.6,85.9 676.8,82.5 677,81.9 677.2,86.5 677.4,82.5 677.6,89.6 677.8,81.5 678,84.5 678.2,83.8 678.4,84.5 678.6,81.5 678.8,84.4 679,88.4 679.2,82.1 679.4,78 679.6,84.7 679.8,84.1 680,84.6 680.2,80.9 680.4,83.8 680.5,84.8 680.6,81.5 680.8,82.8 681,83.9 681.2,84.5 681.4,82.1 681.6,83.1 681.8,87.4 682,87.5 682.2,80.1 682.4,87.8 682.6,81.6 682.8,85.1 683,79.5 683.2,82 683.4,80.9 683.6,84.4 683.8,83 684,83.5 684.2,83.4 684.4,82.9 684.6,84.6 684.8,82.7 685,82.1 685.2,80.8 685.4,80.1 685.6,81 685.8,83.2 686,84.7 686.2,81.9 686.4,87 686.6,85.2 686.8,82.3 687,83 687.2,82.1 687.4,77.7 687.6,84.1 687.8,82.7 688,78.1 688.2,84.2 688.4,80.7 688.6,81.5 688.8,77.9 689,81.9 689.2,83 689.4,81 689.6,82 689.8,77.4 690,83.2 690.2,81.8 690.4,81.8 690.6,83.5 690.8,84.4 691,81.7 691.2,84 691.4,86.2 691.6,79.2 691.8,82 692,77.8 692.2,82.6 692.4,85 692.6,81.4 692.8,78.9 693,80.4 693.2,82.7 693.4,78 693.6,78.2 693.8,82.7 694,78.3 694.2,81.8 694.4,79 694.6,77.7 694.8,83.5 695,84.3 695.2,79.6 695.4,87.1 695.6,81.9 695.8,82.8 696,82 696.2,78.9 696.4,84 696.6,81.9 696.8,82.7 697,81.9 697.2,80.5 697.4,87.2 697.6,82.5 697.8,80.9 698,83.1 698.2,78.5 698.4,82.3 698.6,88 698.8,79.8 699,82.6 699.2,78.5 699.4,81.4 699.6,84.1 699.8,78.9 700,79.1 700.2,84.1 700.4,81.9 700.6,82.9 700.8,82.6 701,78.1 701.2,77.1 701.4,76.6 701.5,82.4 701.6,77.8 701.8,76.9 702,79.8 702.2,80.8 702.4,81.8 702.6,76.7 702.8,84.3 703,78.8 703.2,81.4 703.4,80.9 703.6,78.6 703.8,82 704,81.9 704.2,83.8 704.4,85.7 704.6,86.2 704.8,83.3 705,82.7 705.2,80.1 705.4,77.3 705.6,82 705.8,79.5 706,80.3 706.2,79.8 706.4,82 706.6,79.9 706.8,86.7 707,83 707.2,79.6 707.4,81.8 707.6,84.3 707.8,77.9 708,81.4 708.2,79.5 708.4,81 708.6,79.6 708.8,81.2 709,81.9 709.2,82.3 709.4,77.1 709.6,82.5 709.8,80.8 710,79.2 710.2,80.6 710.4,84.7 710.6,80.3 710.8,78.6 711,82.4 711.2,80.2 711.4,82.4 711.6,81.3 711.8,84 712,79.2 712.2,79.7 712.4,83.3 712.6,84.8 712.8,81.2 713,83.6 713.2,81.8 713.4,80.6 713.6,76.5 713.8,85.7 714,83.4 714.2,75 714.4,82.5 714.6,79.1 714.8,78 715,79.1 715.2,82.3 715.4,80.3 715.6,79.9 715.8,80 716,79.5 716.2,81.7 716.4,75.4 716.6,77.1 716.8,79.9 717,77.4 717.2,80.7 717.4,79.4 717.6,81.2 717.8,79.9 718,81.7 718,80.3 718.2,82.2 718.4,79.8 718.6,76.5 718.8,81 719,81.2 719.2,80.1 719.4,84 719.6,83 719.8,85.7 720,81.1 720.2,81.3 720.4,83.7 720.6,86.3 720.8,81.1 721,84.2 721.2,83 721.4,82.5 721.6,85.7 721.8,85.8 722,85.5 722.2,82.4 722.4,84.1 722.6,80.2 722.8,85.8 723,81.5 723.2,84.2 723.4,87.1 723.6,84.6 723.8,85.7 724,83.9 724.2,92 724.4,82.9 724.6,84.6 724.8,85.8 725,92.8 725.2,85.2 725.4,86.9 725.6,88.9 725.6,81.7 725.8,88.9 726,87.5 726.2,90.1 726.4,90 726.6,87.3 726.8,88.6 727,84.1 727.2,82.7 727.4,84.7 727.6,85.6 727.8,84.2 728,85.8 728.2,86.1 728.4,88.6 728.6,83.8 728.8,82.8 729,85 729.2,84.2 729.4,84.9 729.6,87.4 729.8,81 730,84.7 730.2,86 730.4,85.6 730.6,78.7 730.8,81.3 731,85 731.2,81.7 731.4,82.6 731.6,81 731.8,84.2 732,81.5 732,80.2 732.2,81.2 732.4,84.4 732.6,82 732.8,77.1 733,76 733.2,82.8 733.4,77.1 733.6,81.5 733.8,79.5 734,81.8 734.2,79.5 734.4,75.5 734.6,84.7 734.8,81.2 735,80.9 735.2,85.2 735.4,83.1 735.6,84.2 735.8,81 736,81.9 736.2,82.7 736.4,80.2 736.6,83.7 736.8,82.8 737,81.1 737.2,80.9 737.4,84 737.6,81.6 737.8,83 738,82.8 738.2,81.7 738.4,74.4 738.6,83.1 738.8,84.3 739,80.8 739.2,80.8 739.4,84.6 739.6,79.6 739.8,85.6 740,84 740.2,86.1 740.4,82.7 740.6,83.1 740.8,83.6 741,79.2 741.2,80.9 741.4,85.7 741.6,81.5 741.8,80.8 742,84 742.2,86.6 742.4,83.2 742.6,82.7 742.8,83.4 743,84.5 743.2,79.8 743.4,84.5 743.5,84.6 743.6,86.2 743.8,86.2 744,85.2 744.2,88.5 744.4,83.7 744.6,83.4 744.8,87.6 745,83.9 745.2,82.2 745.4,82.3 745.6,83.6 745.8,80.3 746,86 746.2,84.3 746.4,86.6 746.6,81.1 746.8,82.7 747,82 747.2,84.8 747.4,84.4 747.6,85.3 747.8,85.2 748,80.9 748.2,84.1 748.4,83.7 748.6,83.4 748.8,84.7 749,78.9 749.2,81.7 749.4,82.7 749.6,81.3 749.8,80.6 750,85.6 750.2,85.4 750.4,87.4 750.6,81 750.8,77.7 751,84.8 751.2,82.4 751.4,80.6 751.6,84.4 751.8,82.9 752,78.9 752.2,83.3 752.4,79.1 752.6,84.3 752.8,80 753,79.3 753.2,84.7 753.4,85.2 753.6,82.3 753.8,80.1 754,84.3 754.2,83.2 754.4,83.4 754.6,81.9 754.8,79.2 755,81.7 755.2,86.2 755.4,81.2 755.6,82.5 755.8,82.6 756,85 756.2,83.4 756.4,81.7 756.6,87.2 756.8,83.1 757,83.5 757.2,81.1 757.4,79.1 757.6,83.8 757.8,81.9 758,83.4 758.2,77.3 758.4,86.7 758.6,82.8 758.8,84.6 759,80.1 759.2,82.9 759.4,83 759.6,85.3 759.8,84.5 760,77.7 760.2,83.1 760.4,82.9 760.6,81.8 760.8,83.1 761,84 761.2,84.8 761.4,79.8 761.6,80.5 761.8,82.6 762,84.1 762.2,80.2 762.4,82.5 762.6,79.5 762.8,82.6 763,82.1 763.2,83.7 763.4,85.8 763.6,80.6 763.8,83.5 764,78.7 764.2,83.2 764.4,86.6 764.5,78.7 764.6,81.2 764.8,74.9 765,83.4 765.2,87.7 765.4,80.2 765.6,83.2 765.8,85.8 766,80.6 766.2,82.9 766.4,80.6 766.6,81.3 766.8,82.5 767,84.6 767.2,83 767.4,82.4 767.6,82.1 767.8,85.1 768,83.7 768.2,83.5 768.4,78.1 768.6,82 768.8,79.9 769,86.7 769.2,84.1 769.4,86 769.6,80.5 769.8,78.8 770,80.6 770.2,84.1 770.4,80.9 770.6,84.3 770.8,85.8 771,81.7 771.2,84.9 771.4,77.3 771.6,79.6 771.8,81.1 772,81.7 772.2,79.1 772.4,81.7 772.6,85.1 772.8,84.6 773,83.6 773.2,80.4 773.4,86 773.6,84.1 773.8,80.1 774,84.9 774.2,81.7 774.4,83.9 774.6,83.5 774.8,84 775,86.2 775,88.7 775.2,83.7 775.4,83.2 775.6,82.9 775.8,84.2 776,84.7 776.2,80.3 776.4,83.8 776.6,89.2 776.8,85.7 777,86.5 777.2,83.9 777.4,89.4 777.6,85.7 777.8,83.7 778,82.7 778.2,85.8 778.4,89 778.6,83.3 778.8,82.6 779,79.5 779.2,87 779.4,82.7 779.6,83.7 779.8,83 780,83.5 780.2,87.7 780.4,84 780.6,86.4 780.8,84.4 781,85.3 781.2,87.9 781.4,88 781.6,83.8 781.8,86.7 782,84.5 782.2,88.6 782.4,85.5 782.6,84.9 782.8,89.3 783,86 783.2,87.8 783.4,89.3 783.6,86.4 783.8,87.1 784,89.4 784.2,93.6 784.4,89.6 784.6,90.1 784.8,88.5 785,88.5 785.2,92.3 785.4,87 785.5,87.2 785.6,92.4 785.8,86.9 786,85.8 786.2,89.9 786.4,91.1 786.6,93 786.8,94 787,83.2 787.2,88.1 787.4,87.8 787.6,89.5 787.8,86.5 788,88.6 788.2,89.2 788.4,88.9 788.6,86.4 788.8,89 789,86.3 789.2,86.3 789.4,87.7 789.6,90.2 789.8,83.4 790,88.1 790.2,91.5 790.4,88.5 790.6,86.8 790.8,88.7 791,91.9 791.2,87.6 791.4,86.3 791.6,89.8 791.8,87.3 792,86.2 792.2,89.9 792.4,85.8 792.6,87.1 792.8,91 793,88.1 793.2,90.8 793.4,83.4 793.6,84 793.8,85.7 794,87.3 794.2,82.9 794.4,88.1 794.6,86.2 794.8,86.2 795,87.5 795.2,86.8 795.4,84.4 795.6,86.8 795.8,84.4 796,90.5 796.2,86.1 796.4,86.6 796.6,85.6 796.8,87.2 797,87.7 797.2,86.8 797.4,84.5 797.6,89.7 797.8,86.9 798,82.4 798.2,81.5 798.4,84.2 798.6,84 798.8,82.8 799,84.4 799.2,87.6 799.4,89.8 799.6,87.3 799.8,87.5 800,89.4 800,92 800.2,89.3 800.4,87.9 800.6,86 800.8,83.7 801,87.1 801.2,88.8 801.4,86.6 801.6,84.4 801.8,87 802,85.2 802.2,83.9 802.4,80.4 802.6,86.4 802.8,83.3 803,87.7 803.2,83.2 803.4,84.8 803.6,83.1 803.8,88.7 804,87.6 804.2,84.1 804.4,87.5 804.6,80.8 804.8,85.4 805,82.3 805.2,83.2 805.4,82.3 805.6,84.7 805.8,78.8 806,81.9 806.2,86.3 806.4,77.3 806.6,82.2 806.8,79.3 807,75.9 807.2,83.3 807.4,81 807.6,85.2 807.8,77.4 808,82.8 808.2,85.6 808.4,77.1 808.6,83.1 808.6,83.2 808.8,82 809,84.9 809.2,83.1 809.4,79.7 809.6,79.6 809.8,81.1 810,85.4 810.2,81 810.4,83.5 810.6,81 810.8,82.9 811,82.6 811.2,84.3 811.4,85.7 811.6,80 811.8,78.4 812,81 812.2,81.1 812.4,81.8 812.6,83.6 812.8,80.1 813,81.1 813.2,81.1 813.4,83.8 813.6,80 813.8,84 814,85.8 814.2,80.5 814.4,84.5 814.6,82.3 814.8,80.8 815,85.9 815.2,84 815.4,80.2 815.6,82.3 815.8,79.3 816,77.5 816.2,83.5 816.4,80.9 816.6,84.9 816.8,81.2 817,81.5 817.2,80.5 817.4,81.2 817.6,78.8 817.8,80.2 818,76.4 818.2,76.2 818.4,77.3 818.6,79.1 818.8,80.4 819,80.1 819.2,83.4 819.4,86.6 819.6,74.6 819.8,84 820,82.7 820.2,79 820.4,80.8 820.6,75.6 820.8,79.8 821,84.2 821.2,77.3 821.4,78.8 821.6,80.5 821.8,81.8 822,80.3 822.2,78.8 822.4,81.7 822.6,78.7 822.8,86 823,83.1 823.2,80.3 823.4,78 823.6,78.6 823.8,78.1 824,79.1 824.2,80.9 824.4,76.7 824.6,80.2 824.8,79.8 825,77.5 825.2,82.9 825.4,80.9 825.6,80.5 825.8,78.3 826,77.9 826.2,79.7 826.4,76 826.6,80.5 826.8,76.8 827,79.5 827.2,81.1 827.4,78.8 827.5,77.9 827.6,77.6 827.8,79.7 828,76.5 828.2,79 828.4,81.4 828.6,74.4 828.8,76.9 829,79.5 829.2,76 829.4,76.1 829.6,75.5 829.8,80.5 830,73.1 830.2,77.9 830.4,77.6 830.6,78.1 830.8,76 831,78 831.2,76.5 831.4,75.6 831.6,83.9 831.8,80 832,74.8 832.2,75.6 832.4,78.3 832.6,80.6 832.8,76.6 833,78.7 833.2,77.4 833.4,79.7 833.6,75.4 833.8,74.8 834,77.2 834.2,77.2 834.4,76.5 834.6,79.3 834.8,77.9 835,76.4 835.2,73.3 835.4,77.7 835.6,78 835.8,74.3 836,75.6 836.2,73 836.4,75.9 836.6,75 836.8,71.1 837,75.4 837.2,74.5 837.4,74.4 837.6,77.6 837.8,76.2 838,77.1 838,74.2 838.2,78.2 838.4,73 838.6,76.6 838.8,71.2 839,75.3 839.2,72.3 839.4,71.2 839.6,76.3 839.8,75.1 840,75.8 840.2,74.6 840.4,75.2 840.6,74.4 840.8,74.1 841,74.7 841.2,80 841.4,71.9 841.6,70.7 841.8,72 842,72.6 842.2,75.5 842.4,76.9 842.6,76.9 842.8,73.6 843,75.9 843.2,78.6 843.4,75.6 843.6,77.2 843.8,71.7 844,76.1 844.2,75.9 844.4,70.9 844.6,74 844.8,75.3 845,71.6 845.2,75.9 845.4,76.1 845.6,74.4 845.8,73.4 846,73.1 846.2,74.5 846.4,76.2 846.6,70.2 846.8,73.9 847,74 847.2,71.2 847.4,70.2 847.6,72.7 847.8,69.1 848,73.7 848.2,72.4 848.4,70.4 848.5,73.1 848.6,70.9 848.8,71.2 849,75.7 849.2,70.9 849.4,66.4 849.6,73.3 849.8,70 850,70.2 850.2,76.1 850.4,72.1 850.6,74.2 850.8,68.7 851,69.5 851.2,69.9 851.4,73.6 851.6,70.1 851.8,67 852,73.4 852.2,70.2 852.4,71.7 852.6,73.2 852.8,76.6 853,71.1 853.2,75 853.4,67.7 853.6,71.4 853.8,71.6 854,65.4 854.2,68.4 854.4,68.9 854.6,71.8 854.8,69.3 855,69.4 855.2,68.7 855.4,71.4 855.6,70.1 855.8,70 856,69.5 856.2,71.7 856.4,68.2 856.6,69.8 856.8,69.8 857,70.7 857.2,72.1 857.4,70.4 857.6,66.3 857.8,71.9 858,72.4 858.2,72.4 858.4,71.4 858.6,65.5 858.8,68.9 859,71 859,71.1 859.2,68.9 859.4,69.5 859.6,66.6 859.8,70.2 860,64.3 860.2,68.8 860.4,71.7 860.6,66.5 860.8,72.5 861,74.2 861.2,70.7 861.4,68.2 861.6,68.3 861.8,66.6 862,71.3 862.2,66.9 862.4,70.1 862.6,67 862.8,71 863,66.3 863.2,69.4 863.4,68 863.6,72.2 863.8,68.8 864,69.4 864.2,72.5 864.4,67.1 864.6,66.8 864.8,69.7 865,67.4 865.2,73.9 865.4,70.2 865.6,70.5 865.8,69.1 866,62.3 866,73 866.2,69.6 866.4,65 866.6,67.2 866.8,69.8 867,72.8 867.2,70.6 867.4,70.6 867.6,70.5 867.8,67.5 868,68.1 868.2,69.7 868.4,66.4 868.6,69.7 868.8,71.2 869,63.8 869.2,69 869.4,68.9 869.6,69.7 869.8,73.7 870,66.1 870.2,74.1 870.4,71.1 870.5,75.4" fill="none" stroke="#ff00ff" stroke-width="1.1" stroke-linejoin="round" />
</g>
<g font-size="9.5">
<text transform="translate(167,653) rotate(-90)" x="0" y="3.3">new section 2</text>
<path d="M167,654.8 l1.3,2.2 l-1.3,2.2 l-1.3,-2.2 z" fill="#ff0000"/>
<text transform="translate(190.8,653) rotate(-90)" x="0" y="3.3">new section 3</text>
<path d="M190.8,654.8 l1.3,2.2 l-1.3,2.2 l-1.3,-2.2 z" fill="#ff0000"/>
<text transform="translate(208.2,653) rotate(-90)" x="0" y="3.3">new section 4</text>
<path d="M208.2,654.8 l1.3,2.2 l-1.3,2.2 l-1.3,-2.2 z" fill="#ff0000"/>
<text transform="translate(238.5,653) rotate(-90)" x="0" y="3.3">new section 5</text>
<path d="M238.5,654.8 l1.3,2.2 l-1.3,2.2 l-1.3,-2.2 z" fill="#ff0000"/>
<text transform="translate(257,653) rotate(-90)" x="0" y="3.3">new section 6</text>
<path d="M257,654.8 l1.3,2.2 l-1.3,2.2 l-1.3,-2.2 z" fill="#ff0000"/>
<text transform="translate(311,653) rotate(-90)" x="0" y="3.3">new section 7</text>
<path d="M311,654.8 l1.3,2.2 l-1.3,2.2 l-1.3,-2.2 z" fill="#ff0000"/>
<text transform="translate(335.9,653) rotate(-90)" x="0" y="3.3">new section 8</text>
<path d="M335.9,654.8 l1.3,2.2 l-1.3,2.2 l-1.3,-2.2 z" fill="#ff0000"/>
<text transform="translate(360.7,653) rotate(-90)" x="0" y="3.3">new section 9</text>
<path d="M360.7,654.8 l1.3,2.2 l-1.3,2.2 l-1.3,-2.2 z" fill="#ff0000"/>
<text transform="translate(385.6,653) rotate(-90)" x="0" y="3.3">new section 10</text>
<path d="M385.6,654.8 l1.3,2.2 l-1.3,2.2 l-1.3,-2.2 z" fill="#ff0000"/>
<text transform="translate(410.4,653) rotate(-90)" x="0" y="3.3">new section 11</text>
<path d="M410.4,654.8 l1.3,2.2 l-1.3,2.2 l-1.3,-2.2 z" fill="#ff0000"/>
<text transform="translate(435.3,653) rotate(-90)" x="0" y="3.3">new section 12</text>
<path d="M435.3,654.8 l1.3,2.2 l-1.3,2.2 l-1.3,-2.2 z" fill="#ff0000"/>
<text transform="translate(460.2,653) rotate(-90)" x="0" y="3.3">new section 13</text>
<path d="M460.2,654.8 l1.3,2.2 l-1.3,2.2 l-1.3,-2.2 z" fill="#ff0000"/>
<text transform="translate(485,653) rotate(-90)" x="0" y="3.3">new section 14</text>
<path d="M485,654.8 l1.3,2.2 l-1.3,2.2 l-1.3,-2.2 z" fill="#ff0000"/>
<text transform="translate(509.9,653) rotate(-90)" x="0" y="3.3">new section 15</text>
<path d="M509.9,654.8 l1.3,2.2 l-1.3,2.2 l-1.3,-2.2 z" fill="#ff0000"/>
<text transform="translate(534.7,653) rotate(-90)" x="0" y="3.3">new section 16</text>
<path d="M534.7,654.8 l1.3,2.2 l-1.3,2.2 l-1.3,-2.2 z" fill="#ff0000"/>
<text transform="translate(559.6,653) rotate(-90)" x="0" y="3.3">new section 17</text>
<path d="M559.6,654.8 l1.3,2.2 l-1.3,2.2 l-1.3,-2.2 z" fill="#ff0000"/>
<text transform="translate(584.5,653) rotate(-90)" x="0" y="3.3">new section 18</text>
<path d="M584.5,654.8 l1.3,2.2 l-1.3,2.2 l-1.3,-2.2 z" fill="#ff0000"/>
<text transform="translate(609.3,653) rotate(-90)" x="0" y="3.3">new section 19</text>
<path d="M609.3,654.8 l1.3,2.2 l-1.3,2.2 l-1.3,-2.2 z" fill="#ff0000"/>
<text transform="translate(634.2,653) rotate(-90)" x="0" y="3.3">new section 20</text>
<path d="M634.2,654.8 l1.3,2.2 l-1.3,2.2 l-1.3,-2.2 z" fill="#ff0000"/>
<text transform="translate(659,653) rotate(-90)" x="0" y="3.3">new section 21</text>
<path d="M659,654.8 l1.3,2.2 l-1.3,2.2 l-1.3,-2.2 z" fill="#ff0000"/>
<text transform="translate(683.9,653) rotate(-90)" x="0" y="3.3">new section 22</text>
<path d="M683.9,654.8 l1.3,2.2 l-1.3,2.2 l-1.3,-2.2 z" fill="#ff0000"/>
<text transform="translate(708.8,653) rotate(-90)" x="0" y="3.3">new section 23</text>
<path d="M708.8,654.8 l1.3,2.2 l-1.3,2.2 l-1.3,-2.2 z" fill="#ff0000"/>
<text transform="translate(733.6,653) rotate(-90)" x="0" y="3.3">new section 24</text>
<path d="M733.6,654.8 l1.3,2.2 l-1.3,2.2 l-1.3,-2.2 z" fill="#ff0000"/>
<text transform="translate(758.5,653) rotate(-90)" x="0" y="3.3">new section 25</text>
<path d="M758.5,654.8 l1.3,2.2 l-1.3,2.2 l-1.3,-2.2 z" fill="#ff0000"/>
<text transform="translate(783.3,653) rotate(-90)" x="0" y="3.3">new section 26</text>
<path d="M783.3,654.8 l1.3,2.2 l-1.3,2.2 l-1.3,-2.2 z" fill="#ff0000"/>
</g>
<g clip-path="url(#c2)">
<polyline points="118,534.6 118.2,539.8 118.3,537.5 118.5,541 118.6,536 118.8,537.4 118.9,540.8 119.1,545.1 119.2,534.2 119.4,542.8 119.5,542.5 119.7,547.3 119.8,550.4 120,541.6 120,541 120.1,547.1 120.3,545 120.4,560 120.6,557.6 120.7,554.4 120.9,554.1 121,547.9 121.2,549.2 121.3,555.7 121.5,560.8 121.6,553.8 121.8,557.1 121.9,563.3 122,564.3 122.1,552.9 122.2,558.6 122.4,560.9 122.5,551.1 122.7,556.4 122.8,559.5 123,556.8 123.1,561.6 123.3,558 123.4,552.6 123.6,554.9 123.7,551.3 123.9,555.1 124,563.7 124.2,562.7 124.3,564 124.5,567.8 124.6,557.4 124.8,558.9 124.9,563.6 125.1,570.9 125.2,565 125.4,563.5 125.5,565.7 125.7,560.6 125.8,549.7 126,567.5 126.1,563.7 126.3,568 126.4,560.9 126.6,562.5 126.7,570.4 126.9,568.2 127,574.9 127.2,562.4 127.3,568.6 127.5,571.8 127.6,573.1 127.8,569 127.9,570.9 128,569.4 128.1,569.1 128.2,569.7 128.4,572.3 128.5,564 128.7,570.3 128.8,565.8 129,570.8 129.1,569.8 129.3,572 129.4,570.1 129.6,570.8 129.7,565 129.9,578.5 130,565.4 130.2,563 130.3,574 130.5,575.3 130.6,572.2 130.8,571.2 130.9,567.4 131.1,582.3 131.2,565 131.4,585 131.5,565.9 131.7,568.9 131.8,572.9 132,572.1 132.1,576.9 132.3,570.4 132.4,573.1 132.6,567.1 132.7,581.2 132.9,572.4 133,571.8 133.2,576 133.3,580.6 133.5,578.1 133.6,572.9 133.8,577.5 133.9,578.6 134.1,579.3 134.2,575.8 134.4,581 134.5,572.1 134.7,578.6 134.8,574 135,578.7 135.1,575.6 135.3,582.3 135.4,576.9 135.6,585.4 135.7,574.5 135.9,584.9 136,575.3 136,566.9 136.2,574.7 136.3,584.6 136.5,581.3 136.6,582.9 136.8,578.5 136.9,582.5 137.1,575.6 137.2,590 137.4,589.5 137.5,583.7 137.7,578.5 137.8,578.3 138,585.1 138.1,583.9 138.3,577.5 138.4,586.2 138.6,587.1 138.7,585.7 138.9,585 139,584.3 139.2,583.3 139.3,581.9 139.5,580.4 139.6,590.2 139.8,575.9 139.9,584.7 140.1,588.7 140.2,596.4 140.4,582.8 140.5,591.9 140.7,591.6 140.8,590 141,594.9 141.1,576.9 141.3,590.8 141.4,585.3 141.6,588.3 141.7,585.5 141.9,582 142,576.8 142.2,588.9 142.3,585.6 142.5,580 142.6,586.4 142.8,581.4 142.9,582.8 143.1,589.3 143.2,591.6 143.4,577.6 143.5,587.4 143.7,591.1 143.8,581.5 144,586.6 144,589.9 144.1,593.3 144.3,582.7 144.4,580.5 144.6,583.8 144.7,586.9 144.9,589.6 145,590.3 145.2,580.3 145.3,594.4 145.5,582.3 145.6,593 145.8,594.1 145.9,594 146.1,593.7 146.2,594.3 146.4,588.6 146.5,588.7 146.7,604.4 146.8,601.9 147,601 147.1,598.5 147.3,586.2 147.4,604.6 147.6,594 147.7,595.3 147.9,599.7 148,592.5 148.2,603.2 148.3,584 148.5,603.3 148.6,599.9 148.8,593 148.9,602.2 149.1,604.2 149.2,602.6 149.4,603.6 149.5,597.7 149.7,608.6 149.8,605.1 150,606.6 150,603.4 150.1,591.5 150.3,603.4 150.4,594.1 150.6,597.3 150.7,601 150.9,603 151,600.9 151.2,604.5 151.3,605.9 151.5,604.5 151.6,604.3 151.8,606.1 151.9,608.3 152.1,600.2 152.2,597.6 152.4,611.3 152.5,606.8 152.7,594.4 152.8,612.8 153,617.1 153.1,590.9 153.3,601.8 153.4,605.7 153.6,602.4 153.7,605.9 153.9,609.3 154,615.2 154.2,597.4 154.3,611.3 154.5,617 154.6,598.8 154.8,613.8 154.9,612.1 155.1,609.9 155.2,617.4 155.4,620.7 155.5,620 155.7,625.4 155.8,611.2 156,604.6 156,612.8 156.1,616.6 156.3,622.3 156.4,619.2 156.6,613.5 156.7,624.2 156.9,619.7 157,618.9 157.2,616.9 157.3,620.4 157.5,621.6 157.6,619 157.8,606.5 157.9,614.8 158.1,622.1 158.2,628.4 158.4,626.7 158.5,626.6 158.7,630.2 158.8,627.3 159,628.7 159.1,627.4 159.3,623.6 159.4,614.6 159.6,608.3 159.7,627.2 159.9,617.1 160,623.4 160.2,628.1 160.3,618.1 160.5,629.7 160.6,625.6 160.8,620.8 160.9,628.9 161.1,630 161.2,623.9 161.4,629.4 161.5,621.1 161.7,628 161.8,629.3 162,622.5 162,628.6 162.1,636 162.3,625.3 162.4,623 162.6,621.8 162.7,625.7 162.9,624.2 163,621.7 163.2,631.4 163.3,633 163.5,622.9 163.6,632.3 163.8,637.3 163.9,634.6 164.1,634 164.2,637 164.4,630.3 164.5,638.9 164.7,644.4 164.8,631.4 165,625.2 165,629 165.1,629.9 165.3,635.8 165.4,640.2 165.6,636.7 165.7,641.5 165.9,635.2 166,633.2 166.2,624.5 166.3,633.6 166.5,629.3 166.6,629.4 166.8,630 166.9,635.8 167,633 167.1,629.5 167.2,622.3 167.4,622.7 167.5,620.5 167.7,621 167.8,617.4 168,614.5 168,608.1 168.1,613.5 168.3,616.4 168.4,603.7 168.6,602.9 168.7,604 168.9,604.6 169,600.9 169.2,598.7 169.3,600.5 169.5,591.9 169.6,587.5 169.8,587.1 169.9,591.5 170,590.6 170.1,587.4 170.2,582.9 170.4,587.9 170.5,592.1 170.7,594.5 170.8,591.2 171,591.5 171.1,592.2 171.3,593.9 171.4,599.4 171.6,597.8 171.7,599.1 171.9,599.5 172,600.5 172,596.5 172.2,600.2 172.3,606.8 172.5,609.9 172.6,614.4 172.8,614.8 172.9,616.2 173.1,620.6 173.2,623.5 173.4,627.9 173.5,629.7 173.6,632.8 173.7,631.7 173.8,628.3 174,625.5 174.1,619.2 174.3,618.7 174.4,615.9 174.6,611.4 174.7,608.8 174.9,604 175,599.5 175,600.7 175.2,589.3 175.3,578.4 175.5,569.4 175.6,556 175.8,547.3 175.9,534.8 176,526.3 176.1,529.6 176.2,530.7 176.4,532.7 176.5,534.7 176.7,538.7 176.8,538.8 177,538.6 177.1,540.9 177.3,545 177.4,542.4 177.5,547.9 177.6,536.9 177.7,547.3 177.9,549.1 178,554.3 178.2,546.1 178.3,552.1 178.5,557.2 178.6,572.5 178.8,558.4 178.9,562.4 179,556.1 179.1,573 179.2,557.9 179.4,557.6 179.5,560 179.7,550.3 179.8,552 180,556.1 180.1,552.8 180.3,564.9 180.4,554.5 180.6,573.5 180.7,559.6 180.9,552.2 181,558.5 181,562.4 181.2,557.9 181.3,561.7 181.5,557.4 181.6,553.8 181.8,559.4 181.9,573.6 182.1,558.3 182.2,561.3 182.4,551 182.5,558.1 182.7,566 182.8,561.5 183,573.4 183.1,572.6 183.3,562.4 183.4,565.6 183.6,572.1 183.7,570.4 183.9,565.8 184,554.6 184,579.4 184.2,569.4 184.3,571 184.5,564.6 184.6,582.1 184.8,570.1 184.9,572.8 185.1,556.1 185.2,566.6 185.4,572.2 185.5,576.2 185.7,579 185.8,572.4 186,582.5 186.1,573.9 186.3,573.9 186.4,575.6 186.6,562.8 186.7,558.9 186.9,591.5 187,554 187.2,572.9 187.3,582.8 187.5,573.2 187.6,588 187.8,563.7 187.9,581 188.1,585.3 188.2,598.4 188.4,593.1 188.5,575.8 188.7,589.1 188.8,584.8 189,573.1 189.1,579.2 189.3,592.4 189.4,581.9 189.6,576.9 189.7,580 189.9,575.2 190,573 190,589 190.2,590 190.3,595 190.5,573.8 190.6,577.5 190.8,590.6 190.9,588.5 191.1,586 191.2,577.7 191.4,585.3 191.5,576.2 191.7,601.4 191.8,594.6 192,580.5 192.1,606.9 192.3,580.5 192.4,594.6 192.6,591.9 192.7,586.6 192.9,602 193,576.1 193.2,587.8 193.3,588.1 193.5,575.5 193.6,578.1 193.8,592.8 193.9,594.2 194.1,583.3 194.2,597.4 194.4,596.8 194.5,599.8 194.7,591 194.8,592.6 195,599.2 195.1,588.9 195.3,586.6 195.4,575.4 195.6,599.4 195.7,606.6 195.9,578.4 196,593.1 196,602.5 196.2,609.7 196.3,598.7 196.5,588.8 196.6,603.2 196.8,618.2 196.9,600.5 197.1,603.7 197.2,613.5 197.4,583.8 197.5,605.3 197.7,611.8 197.8,607.5 198,600 198.1,595.1 198.3,593.4 198.4,586.4 198.6,594 198.7,587.7 198.9,598 199,597 199.2,593.5 199.3,595.3 199.5,599.8 199.6,587.6 199.8,610.4 199.9,601.2 200.1,605.2 200.2,596.6 200.4,597.9 200.5,601.3 200.7,601.1 200.8,596.4 201,597.1 201.1,595.3 201.3,596.9 201.4,593.3 201.6,592.9 201.7,591.1 201.9,614.2 202,594.4 202.2,600 202.3,591.5 202.5,602.6 202.6,613.4 202.8,594.3 202.9,603.1 203.1,600.9 203.2,610.3 203.4,601.1 203.5,600.9 203.7,599.8 203.8,582.7 204,612.2 204,631.3 204.1,594 204.3,610.9 204.4,603.4 204.6,616.8 204.7,597.1 204.9,606.8 205,615.5 205.2,607.9 205.3,604.4 205.5,602 205.6,596.3 205.8,603.7 205.9,592.8 206.1,618.8 206.2,608 206.4,600.9 206.5,587.4 206.7,612.9 206.8,615.7 207,606.8 207.1,611.2 207.3,611.1 207.4,602.1 207.6,599.8 207.7,603.5 207.9,614.7 208,596.7 208.2,586.8 208.3,603.4 208.5,603.3 208.6,601.2 208.8,603.8 208.9,590.4 209.1,593.5 209.2,598 209.4,601 209.5,606.6 209.7,608.7 209.8,603.5 210,600.1 210.1,591.8 210.3,596.7 210.4,585.8 210.6,594.1 210.7,605.1 210.9,606.4 211,590.9 211.2,612.3 211.3,577.7 211.5,605.8 211.6,600.5 211.8,598.9 211.9,604.3 212.1,596.3 212.2,622.3 212.4,595.7 212.5,596.9 212.7,603.1 212.8,580.8 213,598.7 213.1,586.1 213.3,613.1 213.4,594.9 213.6,598.4 213.7,582.2 213.9,617.3 214,582.5 214,585.1 214.2,592.2 214.3,577.3 214.5,586.5 214.6,595.5 214.8,610 214.9,610.6 215.1,588.4 215.2,594.3 215.4,606.5 215.5,611.6 215.7,591.8 215.8,597.5 216,600.1 216.1,601.7 216.3,597.9 216.4,618.1 216.6,598.4 216.7,612.5 216.9,606.2 217,635.8 217.2,626.8 217.3,582.3 217.5,607.7 217.6,581.3 217.8,615 217.9,598.7 218.1,580.8 218.2,591.9 218.4,598.4 218.5,616.2 218.7,603 218.8,606.8 219,595.5 219.1,597.3 219.3,587.3 219.4,598.1 219.6,599.4 219.7,601.4 219.9,593.8 220,599.9 220.2,597.6 220.3,604.5 220.5,595.7 220.6,596.1 220.8,593.2 220.9,595.2 221.1,599.3 221.2,592 221.4,614.6 221.5,612.5 221.7,606 221.8,610 222,590.3 222,596.2 222.1,597.8 222.3,604.8 222.4,610.3 222.6,610.8 222.7,587.6 222.9,601.5 223,613.1 223.2,599.3 223.3,606.5 223.5,584.9 223.6,602 223.8,598.9 223.9,581.5 224.1,609.3 224.2,614.9 224.4,609.3 224.5,597.6 224.7,599.6 224.8,594.4 225,606.9 225.1,605.4 225.3,615 225.4,600.6 225.6,609.8 225.7,598.2 225.9,588.1 226,600.2 226.2,591.6 226.3,585.3 226.5,607.4 226.6,606.8 226.8,591.9 226.9,584.1 227.1,597.5 227.2,591.9 227.4,606.3 227.5,595.8 227.7,585.9 227.8,590.4 228,603 228.1,633.2 228.3,603.7 228.4,584.7 228.6,589.2 228.7,599.8 228.9,596.4 229,599.5 229.2,617.9 229.3,587.4 229.5,587.9 229.6,597.1 229.8,597.9 229.9,600.6 230,605.6 230.1,597.2 230.2,608.1 230.4,599.6 230.5,601.7 230.7,569.8 230.8,590.1 231,594.8 231.1,604.7 231.3,592.9 231.4,590.1 231.6,592.3 231.7,614.6 231.9,586.3 232,601.6 232.2,600.2 232.3,612.2 232.5,606 232.6,597.6 232.8,607.5 232.9,611.2 233.1,598 233.2,587.7 233.4,591.7 233.5,601.7 233.7,593.6 233.8,602.6 234,610.3 234,603.4 234.1,619.5 234.3,605.6 234.4,603 234.6,614.5 234.7,621.4 234.9,609.6 235,624.7 235.2,635 235.3,629.8 235.5,636.2 235.6,633.3 235.8,639.3 235.9,641.3 236,644 236.1,642.2 236.2,637.5 236.4,632.3 236.5,628 236.7,621 236.8,614.7 237,612.9 237,608.9 237.1,607 237.3,609.5 237.4,608.9 237.6,605.1 237.7,605.5 237.9,605.1 238,600.9 238.2,601.1 238.3,601.7 238.5,602.8 238.5,598.5 238.6,598.3 238.8,593.6 238.9,588.7 239.1,584 239.2,579.3 239.4,576.1 239.5,571.3 239.7,566.2 239.8,562.8 240,558.4 240,557 240.1,561.6 240.3,567.9 240.4,572.9 240.6,580.3 240.7,585.9 240.9,594.9 241,594.9 241,600.9 241.2,605.2 241.3,609.8 241.5,615.7 241.6,621.5 241.8,624.8 241.9,630.5 242,634 242.1,632.3 242.2,627.2 242.4,622.3 242.5,617.1 242.7,611.6 242.8,605.3 243,602.4 243,602.6 243.1,584.4 243.3,558.6 243.4,533.8 243.6,508.2 243.6,500 243.7,498.1 243.9,495.2 244,492.4 244.2,489.5 244.3,486.7 244.5,483.8 244.6,481 244.8,478.1 244.9,475.3 245.1,472.4 245.2,469.6 245.2,469.6 245.4,473.3 245.5,476.4 245.7,480 245.8,483 246,488.2 246.1,490.3 246.3,493.9 246.4,497.7 246.5,499.2 246.6,504.6 246.7,508.7 246.9,515.4 247,515.7 247.2,524.8 247.3,529 247.5,533.1 247.6,540.3 247.6,542.7 247.8,545.1 247.9,545.7 248.1,555 248.2,554.5 248.4,554.6 248.5,556.9 248.7,561.1 248.8,565.1 248.8,564.4 249,559.9 249.1,557.9 249.3,551.2 249.4,547.9 249.6,542.2 249.7,538.7 249.9,535.9 250,530.2 250,531 250.2,517.6 250.3,505.7 250.5,492.5 250.6,480 250.6,480 250.8,477.5 250.9,475 251.1,472.4 251.2,469.9 251.4,467.4 251.5,464.9 251.6,463.2 251.7,463.7 251.8,466.7 252,464.6 252.1,468.4 252.3,467.7 252.4,470.7 252.6,476.4 252.7,475.3 252.9,483.2 253,476.9 253,475.5 253.2,478.4 253.3,473.6 253.5,477.6 253.6,482.6 253.8,488.7 253.9,480 254.1,481.5 254.2,478.9 254.4,480.8 254.5,488.9 254.7,490.5 254.8,493.1 255,490.9 255.1,499.3 255.3,484.7 255.4,495.5 255.6,500.4 255.6,493.9 255.7,500.1 255.9,496.1 256,496.8 256.2,501.4 256.3,496.6 256.5,501 256.6,505.5 256.8,495.9 256.9,507.5 257.1,511.3 257.2,515 257.4,503.5 257.5,513.4 257.5,494.7 257.7,498.9 257.8,509.4 258,502.8 258.1,505.1 258.3,505.8 258.4,511.1 258.6,510.2 258.7,509.7 258.9,516.1 259,514.4 259.2,518.6 259.3,521.4 259.5,526.1 259.6,520.8 259.8,520.8 259.9,522 260.1,519.6 260.2,528.9 260.4,527.4 260.4,533.4 260.5,529.9 260.7,526.3 260.8,533.7 261,528.3 261.1,530 261.3,533.2 261.4,532.5 261.6,527.9 261.7,535.9 261.9,536.2 262,533.2 262.2,532.8 262.3,535.5 262.5,527.1 262.5,541.7 262.6,522.5 262.8,530.4 262.9,531 263.1,538.4 263.2,537 263.4,539 263.5,531.2 263.7,544.2 263.8,543.1 264,527.8 264.1,540.2 264.3,529.4 264.4,537 264.6,543.2 264.7,540.8 264.9,534.2 265,538.2 265.2,547.7 265.3,543.2 265.5,546.6 265.6,534 265.8,546.3 265.9,545 266.1,539.2 266.2,552.4 266.4,545 266.5,550.4 266.7,543.3 266.8,548.6 267,549.7 267.1,546.6 267.3,548.5 267.4,549.8 267.6,548 267.7,542 267.9,551.2 268,549.1 268.2,551.6 268.3,546 268.4,559.3 268.5,556 268.6,558.9 268.8,562 268.9,557.3 269.1,550.3 269.2,545.1 269.4,563.4 269.5,554.3 269.7,557.7 269.8,560.8 270,552.5 270.1,544.7 270.3,556.3 270.4,551.7 270.6,549.6 270.7,556.9 270.9,553.5 271,558.1 271.2,549.1 271.3,554.5 271.5,554.4 271.6,556 271.8,552.8 271.9,560.4 272.1,548.4 272.2,559.7 272.4,563.7 272.5,557.5 272.7,558.3 272.8,553.5 273,559.8 273.1,561.1 273.3,559.8 273.4,561.2 273.6,562.5 273.7,560.8 273.9,548.8 274,553.2 274,559.3 274.2,573.1 274.3,566.8 274.5,560.4 274.6,559.5 274.8,558.2 274.9,564.7 275.1,559.4 275.2,561.8 275.4,552.4 275.5,559.2 275.7,555.9 275.8,557.3 276,558.7 276.1,569.9 276.3,565 276.4,569.5 276.6,560.2 276.7,565.1 276.9,559.7 277,561.6 277.2,562.9 277.3,553.7 277.5,564.6 277.6,556.8 277.8,567.8 277.9,560.7 278,554.9 278.1,557.3 278.2,559.2 278.4,574.2 278.5,556.9 278.7,562.5 278.8,566.1 279,563.9 279.1,564.7 279.3,569.6 279.4,560.6 279.6,576.3 279.7,574 279.9,566.6 280,574 280.2,566.1 280.3,562.6 280.5,557.7 280.6,561.1 280.8,569.1 280.9,567.6 281.1,575.8 281.2,575.6 281.4,571.3 281.5,566.4 281.7,577.1 281.8,565.2 282,550.4 282.1,564 282.3,568.8 282.4,569.5 282.6,569.6 282.7,570.9 282.9,549.3 283,580.7 283.2,572 283.3,566.6 283.5,553.6 283.6,571.4 283.8,559.5 283.9,553.3 284.1,569.9 284.2,569.6 284.4,565.3 284.5,560.3 284.7,568.9 284.8,566.6 285,568.4 285.1,568.9 285.3,556.6 285.4,569.1 285.6,552.2 285.7,571.1 285.9,563.9 286,563.1 286.2,576.9 286.3,567.8 286.5,568.2 286.6,571.5 286.8,580.6 286.9,548.1 287,569.9 287.1,567 287.2,573.8 287.4,566.6 287.5,566 287.7,570 287.8,565.9 288,560.3 288.1,566 288.3,577.7 288.4,569.4 288.6,550.8 288.7,564.5 288.9,554.6 289,571.1 289.2,557.8 289.3,564.3 289.5,568 289.6,569.9 289.8,560.6 289.9,566.1 290.1,578.5 290.2,559.9 290.4,564.2 290.5,558.4 290.7,562.6 290.8,566.8 291,563.9 291.1,567.6 291.3,555.3 291.4,564.1 291.6,559.7 291.7,545.1 291.9,569.7 292,563.4 292.2,558.9 292.3,569.1 292.5,565.6 292.6,547.6 292.8,565 292.9,576.9 293.1,563.7 293.2,566.9 293.4,551.3 293.5,551.9 293.7,552.5 293.8,572.4 294,566.8 294,545.7 294.1,566.4 294.3,548 294.4,552 294.6,559.8 294.7,556 294.9,559.8 295,561.2 295.2,566.9 295.3,556.7 295.5,555.4 295.6,555 295.8,573.9 295.9,571.2 296.1,566.3 296.2,562.3 296.4,560.3 296.5,567.3 296.7,558.1 296.8,549.2 297,548.6 297.1,573.1 297.3,551.6 297.4,553.6 297.6,556.6 297.7,563.7 297.9,550.6 298,555.8 298.2,559.2 298.3,549.1 298.5,557 298.6,562.9 298.8,557.7 298.9,556.7 299.1,561 299.2,555.4 299.4,553 299.5,552.4 299.7,560.2 299.8,538.8 300,548 300.1,559.5 300.3,561.6 300.4,555.5 300.6,549.4 300.7,544.8 300.9,557.5 301,555.5 301.2,555.6 301.3,555.9 301.5,547.3 301.6,548.7 301.8,552.3 301.9,551.7 302,543.3 302.1,545.4 302.2,551.2 302.4,565.3 302.5,565.6 302.7,553.3 302.8,549.9 303,553.2 303.1,551.8 303.3,546.4 303.4,532.9 303.6,552 303.7,547.3 303.9,550.3 304,545.1 304.2,548.5 304.3,551.1 304.5,537.2 304.6,546.1 304.8,553.2 304.9,554 305.1,539.9 305.2,553.8 305.4,556.4 305.5,551.5 305.7,551.6 305.8,549.8 306,551 306.1,546.2 306.3,555.5 306.4,548.2 306.6,540.6 306.7,551 306.9,552.7 307,550 307.2,542.5 307.3,550.8 307.5,532.3 307.5,556.1 307.6,550.1 307.8,537.6 307.9,536 308.1,559 308.2,547.6 308.4,542.4 308.5,547.8 308.7,544.7 308.8,544.6 309,547.1 309.1,546.8 309.3,539.5 309.4,546.5 309.6,545.8 309.7,539.4 309.9,549.3 310,546.9 310.2,534.8 310.3,553.2 310.5,546.5 310.6,550.6 310.8,539.4 310.9,540.6 311.1,543.6 311.2,539.8 311.4,541.5 311.5,534.9 311.7,552.9 311.8,544.7 312,548.7 312.1,550.7 312.3,541.2 312.4,551.7 312.6,528.9 312.7,538.9 312.9,537.8 313,539.9 313.2,529.9 313.3,544.6 313.5,550.1 313.6,541.6 313.8,542.6 313.9,528 314.1,535.2 314.2,541 314.4,535.2 314.5,540.1 314.7,536.3 314.8,540 315,530.7 315.1,540.5 315.3,545.1 315.4,541.1 315.6,548.4 315.7,536.7 315.9,541.6 316,530 316.2,541.6 316.3,539.1 316.5,535 316.6,542 316.8,529.9 316.9,534.4 317.1,537.1 317.2,530.1 317.4,530.1 317.5,543.8 317.5,533.1 317.7,529.4 317.8,532.2 318,531.5 318.1,530.4 318.3,536 318.4,528.5 318.6,526.2 318.7,534 318.9,533.2 319,539.7 319.2,521.5 319.3,530.1 319.5,538.2 319.6,534.6 319.8,529.6 319.9,528.2 320.1,535.8 320.2,531.9 320.4,527.6 320.5,529.5 320.7,529.5 320.8,536.3 321,518.1 321.1,528.1 321.3,537.2 321.4,522.1 321.6,529.1 321.7,534.8 321.9,523.5 322,527.3 322.2,525.5 322.3,530.7 322.5,526.2 322.6,524 322.8,529.8 322.9,530.2 323.1,534.9 323.2,526.8 323.4,527.9 323.5,525.6 323.7,534.4 323.8,534.5 324,524 324.1,516.9 324.3,537.8 324.4,518.1 324.6,518.5 324.7,524.5 324.9,537 325,532.8 325.2,525.6 325.3,530.3 325.5,524.7 325.6,532.2 325.8,524 325.9,534.4 326.1,529 326.2,522.9 326.4,516.8 326.5,531.5 326.7,528.1 326.8,520.2 327,520.4 327.1,522.3 327.3,521.3 327.4,523.6 327.5,524.3 327.6,524.4 327.7,521.4 327.9,534.9 328,521.4 328.2,520.8 328.3,526.9 328.5,519.5 328.6,526.3 328.8,524.7 328.9,529.2 329.1,518.9 329.2,514 329.4,529.8 329.5,522.7 329.7,532.6 329.8,527.3 330,521.2 330.1,525.2 330.3,517.4 330.4,518.3 330.6,523.4 330.7,523.9 330.9,514.6 331,527.1 331.2,525.8 331.3,528.4 331.5,510 331.6,525.9 331.8,519.7 331.9,520.4 332.1,528.2 332.2,523.1 332.4,525.7 332.5,527.3 332.7,528.4 332.8,517.9 333,517.7 333.1,524.3 333.3,525.3 333.4,518.8 333.6,524.5 333.7,518 333.9,520.9 334,521.8 334.2,523.4 334.3,525.7 334.5,520.6 334.6,523.1 334.8,518.1 334.9,526.1 335.1,525.2 335.2,519.6 335.4,532.1 335.5,522 335.7,521 335.8,520.2 336,524.3 336.1,523.1 336.3,519.1 336.4,524.7 336.6,527.5 336.7,529.6 336.9,527.8 337,520.7 337.2,518.5 337.3,525 337.5,534 337.5,533.5 337.6,520.8 337.8,517 337.9,517.6 338.1,524.4 338.2,526 338.4,519 338.5,516.8 338.7,513.1 338.8,529.7 339,515 339.1,525.6 339.3,521.8 339.4,512.8 339.6,516.9 339.7,527.7 339.9,523.2 340,521.6 340.2,529.1 340.3,522.7 340.5,523.5 340.6,524.4 340.8,523.5 340.9,528.7 341.1,520.6 341.2,528.9 341.4,531.1 341.5,520.9 341.7,526 341.8,517.8 342,524.1 342.1,530 342.3,532.3 342.4,521.9 342.6,526.9 342.7,526.6 342.9,524.8 343,525.9 343.2,534.2 343.3,511.1 343.5,521.4 343.6,529 343.8,523.9 343.9,527.9 344.1,526.2 344.2,523.6 344.4,524.9 344.5,521.1 344.7,524.9 344.8,528.9 345,530.2 345.1,527.9 345.3,524 345.4,523.4 345.6,516.8 345.7,524.5 345.9,520.7 346,522.1 346.2,523.9 346.3,526.1 346.5,526.5 346.6,525.9 346.8,520.3 346.9,523.7 347.1,529.5 347.2,525.6 347.4,528.3 347.5,526.6 347.5,539.4 347.7,535 347.8,539.9 348,525.4 348.1,531.6 348.3,521.4 348.4,531.8 348.6,530.8 348.7,526.8 348.9,536.3 349,530.1 349.2,521.9 349.3,537.4 349.5,530.7 349.6,534.5 349.8,527.5 349.9,527.3 350.1,525.2 350.2,526.2 350.4,535.5 350.5,537.3 350.7,524.2 350.8,532.7 351,533.1 351.1,529.4 351.3,534.9 351.4,529.7 351.6,538.8 351.7,532.7 351.9,535.2 352,517.2 352.2,532.4 352.3,535 352.5,532 352.6,534.3 352.8,530.9 352.9,540.2 353.1,531 353.2,534.8 353.4,543.8 353.5,542.7 353.7,537 353.8,531 354,528.1 354.1,540 354.3,539.3 354.4,537 354.6,537.2 354.7,549.6 354.9,543.8 355,539.7 355,538.6 355.2,538.1 355.3,541.6 355.5,538.8 355.6,540.8 355.8,538.2 355.9,544.4 356.1,542 356.2,535.2 356.4,555.6 356.5,542.7 356.7,539.1 356.8,535.4 357,542.3 357.1,538.8 357.3,550.6 357.4,544.9 357.6,539.4 357.7,533.6 357.9,546.7 358,534.4 358.2,545.4 358.3,543.8 358.5,529.4 358.6,542.1 358.8,551.9 358.9,539.2 359.1,524.4 359.2,535.4 359.4,543.7 359.5,545.7 359.7,548.6 359.8,545.9 360,539.9 360.1,542.6 360.3,543.8 360.4,544.3 360.6,538.9 360.7,548.7 360.9,551.1 361,545.1 361.2,546.7 361.3,539.7 361.5,547.3 361.6,542.3 361.8,542 361.9,550.8 362.1,547.9 362.2,544.6 362.4,532.8 362.5,547.4 362.5,555.7 362.7,549 362.8,548.6 363,553.7 363.1,558.4 363.3,550.6 363.4,553 363.6,548.9 363.7,552.3 363.9,550.3 364,553.7 364.2,545.7 364.3,549.8 364.5,549.8 364.6,547.8 364.8,545.2 364.9,552.5 365.1,546.5 365.2,540.5 365.4,552.2 365.5,541.2 365.7,552.6 365.8,535.8 366,548.7 366.1,558 366.3,547.7 366.4,554.8 366.6,546.9 366.7,545 366.9,547.5 367,553.9 367.2,555.7 367.3,556.4 367.5,557.2 367.6,549.1 367.8,538.9 367.9,545.4 368.1,557 368.2,541 368.4,551.8 368.5,553.3 368.7,540.7 368.8,551.1 369,547.4 369.1,550.4 369.3,548.9 369.4,548.4 369.6,544.7 369.7,539.2 369.9,558.6 370,545.1 370.2,548.2 370.3,547.7 370.5,548.1 370.6,545.8 370.8,552.6 370.9,549.7 371.1,547.3 371.2,546.8 371.4,552.5 371.5,545.2 371.7,552.7 371.8,556.9 372,555.6 372.1,553.1 372.3,541.6 372.4,554.1 372.5,551.8 372.6,557.5 372.7,547.5 372.9,546.7 373,557.8 373.2,543.6 373.3,556.2 373.5,552 373.6,537.4 373.8,547.7 373.9,547.6 374.1,543 374.2,540.1 374.4,550.2 374.5,544.4 374.7,546.2 374.8,544.7 375,548.3 375.1,552.1 375.3,553.6 375.4,552 375.6,547.5 375.7,548.4 375.9,552.2 376,555.6 376.2,548.7 376.3,542.4 376.5,550.5 376.6,552.2 376.8,546.5 376.9,555 377.1,546.3 377.2,548.8 377.4,550.6 377.5,557 377.7,542.5 377.8,551.3 378,552.6 378.1,547.8 378.3,553.7 378.4,545 378.6,542.2 378.7,541.8 378.9,544.6 379,542.5 379.2,550.7 379.3,548.1 379.5,540.5 379.6,556.2 379.8,549.2 379.9,539.2 380,538.1 380.1,548.1 380.2,554.6 380.4,545.7 380.5,552.2 380.7,555.5 380.8,550.6 381,544.9 381.1,539.6 381.3,542.8 381.4,553 381.6,546 381.7,540.5 381.9,543.3 382,544.2 382.2,551 382.3,541.9 382.5,554.5 382.6,545.8 382.8,546.3 382.9,534.4 383.1,546.1 383.2,545.2 383.4,547.4 383.5,539.7 383.7,544.4 383.8,535 384,537.6 384.1,554.9 384.3,540 384.4,538.2 384.6,546.7 384.7,540.9 384.9,555.5 385,541.8 385.2,545 385.3,539.7 385.5,546.9 385.6,541.2 385.8,554.9 385.9,536.6 386.1,542.5 386.2,543.8 386.4,533.8 386.5,536.8 386.7,535.2 386.8,530.3 387,540.6 387.1,523.6 387.3,531.7 387.4,532.3 387.6,539.6 387.7,537.1 387.9,543.2 388,543.9 388.2,538.2 388.3,532 388.5,540.7 388.6,532.9 388.8,534.9 388.9,536.6 389.1,544.1 389.2,550.1 389.4,542.5 389.5,531.7 389.7,540.6 389.8,542.2 390,530.8 390,536 390.1,531.6 390.3,531.6 390.4,535.2 390.6,535.2 390.7,530.2 390.9,534.1 391,527.3 391.2,532.7 391.3,534.1 391.5,530.6 391.6,519.3 391.8,528.6 391.9,534.4 392.1,537.2 392.2,536.9 392.4,537.1 392.5,540.6 392.7,529 392.8,537 393,526.6 393.1,539.7 393.3,535.5 393.4,524.8 393.6,533.5 393.7,534.9 393.9,525.2 394,531 394.2,533.6 394.3,538.5 394.5,525.7 394.6,536.4 394.8,522.8 394.9,523.5 395.1,534.7 395.2,531.4 395.4,523.2 395.5,535 395.7,529.4 395.8,527.6 396,524.9 396.1,512.6 396.3,526.1 396.4,530.6 396.6,525.2 396.7,529 396.9,524.4 397,532 397.2,509.3 397.3,526.8 397.5,519.2 397.6,524.9 397.8,527 397.9,529.4 398.1,527.4 398.2,533.8 398.4,517.4 398.5,523.2 398.7,510.8 398.8,525.1 399,513.1 399.1,527.1 399.3,522.3 399.4,519.6 399.6,517.4 399.7,521.5 399.9,517.2 400,512.6 400,522.1 400.2,515.5 400.3,522.4 400.5,514.9 400.6,513.5 400.8,531.5 400.9,522.9 401.1,526 401.2,518.3 401.4,519.4 401.5,519.5 401.7,529.8 401.8,522.9 402,520.3 402.1,519.1 402.3,519.6 402.4,524.8 402.6,519.4 402.7,519.5 402.9,526.3 403,524.2 403.2,523.3 403.3,529.3 403.5,518.5 403.6,513.1 403.8,510.4 403.8,518.6 403.9,520.5 404.1,528.4 404.2,512.4 404.4,513.2 404.5,519.4 404.7,519.3 404.8,513.8 405,520.5 405.1,525.4 405.3,520.8 405.4,534.6 405.6,526.5 405.7,515.7 405.9,522.2 406,516.1 406.2,535.3 406.3,522.8 406.5,522.9 406.6,531.3 406.8,523.5 406.9,522 407.1,525.1 407.2,531.5 407.4,531.8 407.5,519.6 407.7,518.5 407.8,529.8 408,526.1 408.1,525.6 408.3,533.9 408.4,531.1 408.6,526.4 408.7,532.6 408.9,525.8 409,527.4 409.2,540.2 409.3,529.5 409.5,534 409.6,530 409.8,530.1 409.9,526.2 410,526.3 410.1,539 410.2,544 410.4,536 410.5,535.5 410.7,529.6 410.8,532.2 411,540.5 411.1,546.3 411.3,536.3 411.4,534.8 411.6,542.7 411.7,533.5 411.9,528.8 412,528.2 412.2,531.4 412.3,530.7 412.5,520.4 412.6,523.4 412.8,537.1 412.9,538 413.1,537.2 413.2,531.7 413.4,529.4 413.5,532.7 413.7,535.9 413.8,530.5 414,538.8 414.1,529.4 414.3,520.7 414.4,536.7 414.6,537.9 414.7,532.2 414.9,538.6 415,539.5 415.2,519.7 415.3,535.4 415.5,522.5 415.6,536.9 415.8,534.7 415.9,537.8 416.1,531.9 416.2,528 416.4,534.9 416.5,546.3 416.7,535.8 416.8,528 417,533.3 417.1,532.2 417.3,540.3 417.4,534.3 417.6,531.9 417.7,535.3 417.9,529.9 418,536.2 418.2,527.9 418.3,531.3 418.5,534.8 418.6,521.5 418.8,526.7 418.9,529.7 419.1,541.5 419.2,538.3 419.4,534.2 419.5,539.2 419.7,538.5 419.8,528.7 420,528.2 420,540.4 420.1,530.5 420.3,537.4 420.4,525.7 420.6,533.5 420.7,527.4 420.9,537.4 421,541 421.2,536 421.3,538.1 421.5,531 421.6,536 421.8,537 421.9,529.2 422.1,537 422.2,535.2 422.4,536.2 422.5,532.5 422.7,533.4 422.8,536.2 423,534.3 423.1,539 423.3,526.5 423.4,538.6 423.6,529.4 423.7,539.1 423.9,525.9 424,530.2 424.2,534.8 424.3,535.6 424.5,531 424.6,528.6 424.8,536.7 424.9,538.9 425.1,528.6 425.2,526.9 425.4,530.1 425.5,532.6 425.7,517.6 425.8,527.8 426,536.7 426.1,529 426.3,528.8 426.4,541.2 426.6,538.9 426.7,541.9 426.9,533.1 427,532.4 427.2,530.9 427.3,525.3 427.5,521.9 427.6,532.6 427.8,528.9 427.9,536.3 428.1,538.1 428.2,524.9 428.4,525.7 428.5,534.1 428.7,540.4 428.8,541.2 429,529.3 429.1,533.3 429.3,540.5 429.4,529 429.6,527.7 429.7,540 429.9,529.1 430,526.6 430,541.3 430.2,530.9 430.3,531.2 430.5,536.6 430.6,541.7 430.8,538.2 430.9,535.5 431.1,536.7 431.2,536.9 431.4,537.9 431.5,525.9 431.7,536.9 431.8,528.3 432,531.8 432.1,537.4 432.3,535.4 432.4,539.9 432.6,536.3 432.7,539.2 432.9,546.5 433,531.2 433.2,543 433.3,547.2 433.5,535.4 433.6,536 433.8,537.5 433.9,540.7 434.1,534.7 434.2,536.7 434.4,538.7 434.5,539.4 434.7,546.7 434.8,536.9 435,544 435.1,544.1 435.3,541.1 435.4,541.1 435.6,536.2 435.7,537 435.9,542.9 436,542.4 436.2,540 436.3,547.6 436.5,542.5 436.6,542.3 436.8,541.3 436.9,548 437.1,545.5 437.2,544.4 437.4,536.3 437.5,552 437.5,535.8 437.7,545.3 437.8,537 438,535.1 438.1,526.5 438.3,543.9 438.4,545.9 438.6,541.2 438.7,540.6 438.9,535.9 439,542.8 439.2,541.6 439.3,535.3 439.5,540.6 439.6,541.4 439.8,537.3 439.9,549 440.1,536.4 440.2,553.5 440.4,549.4 440.5,541 440.7,552 440.8,549.5 441,550.1 441.1,545.3 441.3,538.6 441.4,532.7 441.6,545.3 441.7,543.3 441.9,538.7 442,554.8 442.2,546.7 442.3,536.2 442.5,543.5 442.6,546.9 442.8,537.8 442.9,545.5 443.1,542.6 443.2,536.7 443.4,546.6 443.5,548.1 443.7,531 443.8,547 444,541.7 444.1,543 444.3,536.1 444.4,539.7 444.6,554.1 444.7,548.7 444.9,544.1 445,545.5 445,540.7 445.2,544.3 445.3,540.4 445.5,546.1 445.6,538.7 445.8,545.5 445.9,548.5 446.1,542.6 446.2,545.9 446.4,545.5 446.5,541.1 446.7,536.4 446.8,553.3 447,544.1 447.1,541.9 447.3,549.9 447.4,539 447.6,540.5 447.7,539.4 447.9,533.9 448,542.1 448.2,539.4 448.3,555.1 448.5,539.1 448.6,548.9 448.8,537.6 448.9,540.5 449.1,542.3 449.2,537.4 449.4,547.9 449.5,538.7 449.7,538.2 449.8,545.1 450,537.5 450.1,544.6 450.3,546.8 450.4,545.2 450.6,548.3 450.7,538.7 450.9,547.2 451,537.9 451.2,532 451.3,539.5 451.5,550.4 451.6,535 451.8,549.3 451.9,532.5 452.1,544.5 452.2,542.3 452.4,537.3 452.5,527.7 452.7,542.8 452.8,542.6 453,541.7 453.1,547.7 453.3,534.7 453.4,549.2 453.6,543.4 453.7,534.6 453.9,549.8 454,538.4 454.2,540.6 454.3,542.5 454.5,533.5 454.6,533.3 454.8,536.4 454.9,531.7 455,536.5 455.1,544.8 455.2,531.6 455.4,538 455.5,534.5 455.7,541.8 455.8,531.3 456,531.6 456.1,536.3 456.3,547.6 456.4,532.1 456.6,528.1 456.7,531.8 456.9,540.6 457,541.6 457.2,536.5 457.3,538.1 457.5,529.4 457.6,538.7 457.8,535.8 457.9,530.8 458.1,541.7 458.2,541.9 458.4,533.9 458.5,537.5 458.7,526.3 458.8,530.8 459,543 459.1,530.3 459.3,531.3 459.4,541.9 459.6,524 459.7,532.4 459.9,539.8 460,533.5 460.2,531.3 460.3,530.4 460.5,536.9 460.6,530.8 460.8,538.1 460.9,534.9 461.1,535.7 461.2,541.4 461.4,533.1 461.5,530.6 461.7,535.5 461.8,536.9 462,534.5 462.1,526.6 462.3,538.9 462.4,526.3 462.6,525.1 462.7,540.2 462.9,548.5 463,533.8 463.2,530.9 463.3,547.3 463.5,528.3 463.6,535 463.8,532.1 463.9,538.2 464.1,536.7 464.2,531 464.4,540.8 464.5,538.9 464.7,535 464.8,533.4 465,534.6 465,528.4 465.1,533.6 465.3,533.4 465.4,537.5 465.6,533.4 465.7,530.7 465.9,535.5 466,542.6 466.2,536.9 466.3,533.2 466.5,531.4 466.6,540.6 466.8,533.5 466.9,527 467.1,534.3 467.2,523.8 467.4,530.2 467.5,536.1 467.7,531.8 467.8,530.8 468,536.2 468.1,538.3 468.3,527.1 468.4,526.1 468.6,528.1 468.7,525.8 468.9,534 469,535.2 469.2,530.7 469.3,525.6 469.5,522.8 469.6,530 469.8,526.6 469.9,532.9 470.1,523.8 470.2,527.4 470.4,528.1 470.5,535.3 470.7,533.9 470.8,532.2 471,530.7 471.1,533 471.3,520 471.4,533.9 471.6,527.8 471.7,536.6 471.9,533.5 472,535 472.2,525.1 472.3,543.5 472.5,531.4 472.6,529.8 472.8,525.2 472.9,529.9 473.1,517 473.2,534.8 473.4,530.2 473.5,527.3 473.7,534.5 473.8,532.2 474,529.6 474.1,524.4 474.3,528.7 474.4,520.8 474.6,520.9 474.7,527.4 474.9,523.3 475,519.3 475,525.3 475.2,516.7 475.3,534.2 475.5,521.4 475.6,521.4 475.8,533.9 475.9,518.1 476.1,514.2 476.2,525.6 476.4,524.1 476.5,530.7 476.7,525.1 476.8,517 477,525.8 477.1,523.8 477.3,531.5 477.4,526.6 477.6,520.1 477.7,521.3 477.9,524.9 478,522.6 478.2,525.8 478.3,526 478.5,518.5 478.6,525.7 478.8,531.8 478.9,518.1 479.1,511.7 479.2,528.1 479.4,527 479.5,528.9 479.7,533.1 479.8,523.3 480,514.9 480.1,525 480.3,520.3 480.4,527.2 480.6,527.5 480.7,524.1 480.9,526.4 481,523.5 481.2,524.7 481.3,517.3 481.5,532 481.6,519.6 481.8,520.9 481.9,516.9 482.1,521.6 482.2,520.6 482.4,512.4 482.5,530.7 482.7,524.5 482.8,521 483,522.3 483.1,527.7 483.3,526.6 483.4,523.7 483.6,526.8 483.7,508.7 483.9,526.4 484,520.7 484.2,517.8 484.3,516.3 484.5,522 484.6,512.5 484.8,523.1 484.9,517.3 485.1,525 485.2,511.9 485.4,523.1 485.5,518.6 485.7,514.7 485.8,527.2 486,526.4 486.1,515.7 486.3,518.9 486.4,528 486.6,520.8 486.7,517 486.9,515.2 487,513.1 487.2,522.9 487.3,524.7 487.5,517.8 487.5,510.3 487.6,515.5 487.8,510.2 487.9,521.9 488.1,519.3 488.2,525 488.4,531 488.5,526.2 488.7,517 488.8,517.3 489,512.2 489.1,508.1 489.3,528.7 489.4,520.2 489.6,510.7 489.7,522.3 489.9,507.6 490,517.3 490.2,519 490.3,515 490.5,515.5 490.6,522.3 490.8,515.4 490.9,524.1 491.1,508.7 491.2,515.8 491.4,526.9 491.5,512.5 491.7,512.6 491.8,517.9 492,515.3 492.1,518.9 492.3,522.9 492.4,520.5 492.6,518.6 492.7,515.4 492.9,518.5 493,522.2 493.2,512.7 493.3,512.9 493.5,511.3 493.6,517.2 493.8,518 493.9,514.3 494.1,511.3 494.2,513.1 494.4,520.5 494.5,514 494.7,521.3 494.8,513.7 495,512.9 495.1,520.9 495.3,512.6 495.4,522.7 495.6,505.2 495.7,516.7 495.9,513.8 496,514.5 496.2,517.9 496.3,506.1 496.5,527.6 496.6,514.1 496.8,529.3 496.9,520.7 497.1,517.4 497.2,508.1 497.4,525.3 497.5,519.7 497.7,522.5 497.8,501.8 498,506.7 498.1,513.9 498.3,518.8 498.4,520.1 498.6,522.3 498.7,511.2 498.9,508.6 499,519.7 499.2,510.4 499.3,515.3 499.5,526.5 499.6,513.3 499.8,517.5 499.9,516.9 500,515.5 500.1,517.5 500.2,518 500.4,515.6 500.5,523.3 500.7,520.2 500.8,509.8 501,527.7 501.1,515.7 501.3,513.1 501.4,510.7 501.6,518.9 501.7,514.5 501.9,510.5 502,510.1 502.2,520.5 502.3,512.7 502.5,512.2 502.6,527.6 502.8,516 502.9,517.6 503.1,514.8 503.2,513.5 503.4,508.8 503.5,517.6 503.7,515.3 503.8,509.4 504,513.2 504.1,522.9 504.3,515 504.4,513.8 504.6,510.1 504.7,510.3 504.9,516.1 505,517.7 505,514.2 505.2,517.8 505.3,508.5 505.5,510.6 505.6,514.4 505.8,522.5 505.9,509.8 506.1,517.1 506.2,506.3 506.4,517.6 506.5,518.4 506.7,509.8 506.8,513.2 507,515.1 507.1,507.5 507.3,508.8 507.4,506.7 507.6,515.3 507.7,515.2 507.9,502 508,506.3 508.2,513.4 508.3,506.5 508.5,508.7 508.6,513.8 508.8,509.7 508.9,514.7 509.1,509.6 509.2,508.4 509.4,505 509.5,497.1 509.7,506.5 509.8,498.8 510,512.3 510.1,512 510.3,510.2 510.4,513.6 510.6,518.6 510.7,498.3 510.9,506.6 511,511.4 511.2,505.7 511.3,506.2 511.5,512.3 511.6,509.2 511.8,494 511.9,513.8 512.1,501.8 512.2,507 512.4,508.7 512.5,496.8 512.7,514.3 512.8,508.7 513,507.1 513.1,509.1 513.3,503.6 513.4,508.3 513.6,507.9 513.7,492.9 513.9,497.9 514,508.9 514.2,498.4 514.3,506.5 514.5,502.6 514.6,507.1 514.8,494 514.9,503.7 515.1,503 515.2,504.2 515.4,503.8 515.5,502.8 515.7,504.2 515.8,504.6 516,499 516.1,509.3 516.3,501.7 516.4,498.3 516.6,507.1 516.7,488.2 516.9,506.6 517,499 517.2,501 517.3,500.6 517.5,502.8 517.5,496.9 517.6,497.6 517.8,501.6 517.9,496.3 518.1,499 518.2,497.5 518.4,495.3 518.5,494.9 518.7,494 518.8,495.9 519,491.6 519.1,491.8 519.3,511.4 519.4,497.4 519.6,501.9 519.7,498.4 519.9,500.5 520,497.2 520.2,501.5 520.3,497.2 520.5,497.4 520.6,489.5 520.8,500.6 520.9,494.3 521.1,495 521.2,497.1 521.4,496 521.5,494.5 521.7,500.8 521.8,489.7 522,476.1 522.1,492.1 522.3,482.1 522.4,492.4 522.6,499.6 522.7,500.8 522.9,487.2 523,495.7 523.2,486.1 523.3,493.8 523.5,498.9 523.6,488.5 523.8,499.4 523.9,492.7 524.1,504.6 524.2,487.9 524.4,486.3 524.5,497.4 524.7,495.1 524.8,493.3 525,486.1 525.1,490.7 525.3,487.1 525.4,497.5 525.6,492.6 525.7,483.5 525.9,484.7 526,481.3 526.2,485.6 526.3,488.3 526.5,490.4 526.6,493.5 526.8,485.4 526.9,494.1 527.1,470 527.2,486.8 527.4,490.4 527.5,484.3 527.7,487.9 527.8,490.7 528,483.4 528.1,487.1 528.3,491.5 528.4,479.5 528.6,491.2 528.7,484.6 528.9,477.6 529,486.8 529.2,488.1 529.3,483.5 529.5,486 529.6,486.6 529.8,484.2 529.9,484.4 530,487.9 530.1,487.4 530.2,483.2 530.4,473.5 530.5,476.1 530.7,480.5 530.8,492.6 531,484.5 531.1,497.6 531.3,483.8 531.4,483.3 531.6,479.2 531.7,486.9 531.9,473.3 532,481.8 532.2,479 532.3,476.8 532.5,484.1 532.6,482.4 532.8,480.8 532.9,476.1 533.1,470.7 533.2,471 533.4,464.5 533.5,470.4 533.7,478.6 533.8,484 534,470.8 534.1,482.6 534.3,485.7 534.4,481.4 534.6,484.2 534.7,475 534.9,472.4 535,476.1 535.2,479.4 535.3,476.6 535.5,474.9 535.6,481.2 535.8,468.9 535.9,477.2 536.1,462.6 536.2,480.1 536.4,479.6 536.5,484.3 536.7,464.5 536.8,468.6 537,462.8 537.1,463.5 537.3,458.7 537.4,474.6 537.6,469.1 537.7,469.2 537.9,460.4 538,470.2 538.2,479.7 538.3,470.8 538.5,472.9 538.6,462.2 538.8,473.7 538.9,467.6 539.1,468.1 539.2,469.1 539.4,465.7 539.5,470.3 539.7,465.9 539.8,463.9 540,460.3 540,459.8 540.1,470.1 540.3,471 540.4,464.6 540.6,463.9 540.7,461.6 540.9,465.3 541,471.3 541.2,465.2 541.3,460.7 541.5,468.8 541.6,467 541.8,453.5 541.9,460.1 542.1,468.7 542.2,464 542.4,461.4 542.5,463.7 542.7,455.1 542.8,451.3 543,460.1 543.1,461 543.3,468.6 543.4,459.3 543.6,461.2 543.7,467.4 543.9,456 544,457.1 544.2,459.6 544.3,459.7 544.5,458.9 544.6,461.4 544.8,451.2 544.9,450.3 545.1,456.4 545.2,448.1 545.4,464.6 545.5,451.9 545.7,452.8 545.8,458.6 546,456.8 546.1,457.8 546.3,454.4 546.4,447.4 546.6,453.1 546.7,450.2 546.9,444.6 547,451 547.2,457.8 547.3,447.7 547.5,446.2 547.6,448 547.8,455.6 547.9,440.7 548.1,455.7 548.2,451.4 548.4,450.1 548.5,445.4 548.7,448.6 548.8,459.8 549,450.5 549.1,447 549.3,453.2 549.4,442.1 549.6,454.2 549.7,447.5 549.9,460.9 550,459.1 550,450.6 550.2,449.6 550.3,445 550.5,449.9 550.6,450.5 550.8,439.4 550.9,438.4 551.1,448.9 551.2,442.9 551.4,446.5 551.5,446 551.7,446 551.8,443.7 552,448 552.1,452.1 552.3,452.9 552.4,442.2 552.6,444.5 552.7,444.2 552.9,430.5 553,435.2 553.2,442.4 553.3,445.3 553.5,446.7 553.6,439 553.8,445.6 553.9,441.4 554.1,439.5 554.2,446.7 554.4,432.5 554.5,429.1 554.7,451 554.8,440.5 555,444.6 555.1,439.8 555.3,436.5 555.4,433.9 555.6,430.3 555.7,440.5 555.9,433.8 556,438.5 556.2,440.3 556.3,438.3 556.5,438.9 556.6,446 556.8,439.6 556.9,439.1 557.1,436.8 557.2,445 557.4,443.9 557.5,434 557.7,438.9 557.8,435.9 558,434.2 558.1,431.5 558.3,445.4 558.4,438.7 558.6,424.6 558.7,441 558.9,444.5 559,435.7 559.2,434.6 559.3,435.5 559.5,439.3 559.6,431.4 559.8,436.2 559.9,426 560,439.8 560.1,427.8 560.2,431.6 560.4,435.5 560.5,438.5 560.7,429.4 560.8,429.4 561,440.7 561.1,429.4 561.3,428.3 561.4,429.8 561.6,435.9 561.7,435.9 561.9,437.3 562,434.2 562.2,429.7 562.3,434.1 562.5,435.5 562.6,425.4 562.8,428.1 562.9,431.1 563.1,439.6 563.2,429.3 563.4,431.2 563.5,430.9 563.7,432.5 563.8,433.8 564,425 564.1,415.4 564.3,437.1 564.4,419 564.6,431.4 564.7,431.9 564.9,433.3 565,424 565.2,432.4 565.3,432.7 565.5,432.7 565.6,435.5 565.8,423.6 565.9,426 566.1,427.1 566.2,428.2 566.4,433.6 566.5,432.5 566.7,428.6 566.8,437.1 567,431 567.1,421.7 567.3,434.3 567.4,420.7 567.6,420.7 567.7,425 567.9,424.6 568,426.3 568.2,426.8 568.3,422.5 568.5,422.6 568.6,429.9 568.8,427.8 568.9,424.9 569.1,421.7 569.2,426 569.4,420.5 569.5,418.8 569.7,430.7 569.8,428.9 570,423.4 570,433.5 570.1,424.6 570.3,428.4 570.4,427.5 570.6,425.4 570.7,425.4 570.9,438.4 571,429.3 571.2,414.7 571.3,427.4 571.5,412.7 571.6,418.7 571.8,426.4 571.9,418.3 572.1,430.3 572.2,421.8 572.4,426.7 572.5,425 572.7,427.6 572.8,435.2 573,415.6 573.1,422.8 573.3,424 573.4,428.3 573.6,425.6 573.7,421.2 573.9,415.4 574,414 574.2,417.5 574.3,423.1 574.5,422.9 574.6,429.5 574.8,424.7 574.9,425.8 575.1,409.6 575.2,422.8 575.4,417.2 575.5,418.2 575.7,427.6 575.8,421 576,420.5 576.1,420.8 576.3,413.6 576.4,406.4 576.6,430.4 576.7,420.6 576.9,420.2 577,421.3 577.2,417.6 577.3,418.4 577.5,412.3 577.6,421.4 577.8,418.7 577.9,424.8 578.1,427.4 578.2,413.6 578.4,422.6 578.5,416.8 578.7,430.1 578.8,419.8 579,423.7 579.1,416 579.3,425 579.4,414.5 579.6,411.7 579.7,405.3 579.9,417.6 580,415.7 580,418.7 580.2,412.9 580.3,417.5 580.5,417.4 580.6,411.8 580.8,427.5 580.9,429 581.1,418.8 581.2,420.2 581.4,420.7 581.5,421 581.7,413 581.8,418.6 582,426.5 582.1,416.1 582.3,415.6 582.4,412.1 582.6,414.7 582.7,405.5 582.9,416.6 583,422.3 583.2,418.4 583.3,417.5 583.5,416.9 583.6,416.8 583.8,411 583.9,406.5 584.1,426 584.2,418.9 584.4,404.8 584.5,424.6 584.7,413.9 584.8,421.1 585,415.4 585.1,412.5 585.3,420.3 585.4,414 585.6,402.8 585.7,421 585.9,415.1 586,415.2 586,413.8 586.2,417.7 586.3,423.3 586.5,420.6 586.6,416.9 586.8,415.7 586.9,408.9 587.1,424.4 587.2,404.7 587.4,409.6 587.5,413.9 587.7,415.4 587.8,416.1 588,411.3 588,424.5 588.1,411.1 588.3,393.3 588.3,391 588.4,396.5 588.6,416.9 588.6,412.3 588.7,407 588.9,414.7 589,410.4 589.2,418.5 589.3,422.9 589.5,414.2 589.6,422.5 589.8,423.9 589.9,419.5 590.1,426.8 590.2,421.8 590.4,429.7 590.5,426.6 590.7,425.9 590.8,436.7 591,435.5 591,428.3 591.1,413.9 591.3,431.7 591.4,427.5 591.6,432 591.7,429.8 591.9,428 592,427.5 592.2,436.6 592.3,436.9 592.5,435.7 592.6,422.6 592.8,426.4 592.9,429.1 593.1,417.8 593.2,433.4 593.4,421.8 593.5,432.6 593.7,424.3 593.8,429.1 594,417.6 594.1,404 594.3,419.6 594.4,418.8 594.6,418.9 594.7,423.1 594.9,426.9 595,429.5 595.2,420.1 595.3,416.9 595.5,424 595.6,418.6 595.8,417.6 595.9,421.5 596.1,429.6 596.2,425 596.4,412.2 596.5,433.5 596.7,415.9 596.8,423.6 597,415 597.1,427.6 597.3,425.6 597.4,428.5 597.5,423.3 597.6,421.2 597.7,428.3 597.9,411.5 598,414.7 598.2,407.9 598.3,420.2 598.5,418.3 598.6,416.3 598.8,424.4 598.9,423.3 599.1,417.8 599.2,407.1 599.4,431.4 599.5,421.6 599.7,416.6 599.8,420.4 600,421.3 600.1,415.9 600.3,423.2 600.4,419.7 600.6,416.3 600.7,424.8 600.9,416.3 601,425.4 601.2,419.1 601.3,416.9 601.5,424.3 601.6,415.9 601.8,420.7 601.9,424.7 602.1,415.5 602.2,414.1 602.4,421.2 602.5,422.2 602.7,405.1 602.8,419.3 603,422.5 603.1,413.4 603.3,421.5 603.4,414.3 603.6,412.4 603.7,414 603.9,419.4 604,413.4 604.2,412.3 604.3,415.2 604.5,419.1 604.6,403.8 604.8,420.3 604.9,421.8 605,408.6 605.1,413.8 605.2,416.6 605.4,414.8 605.5,424.3 605.7,415.1 605.8,411.5 606,412.4 606.1,416.4 606.3,410.6 606.4,411.5 606.6,410.1 606.7,423.7 606.9,418.3 607,408.8 607.2,417.7 607.3,401 607.5,415.2 607.6,418.5 607.8,417.2 607.9,418.3 608.1,416.7 608.2,412.1 608.4,414.6 608.5,414.5 608.7,402.9 608.8,416.3 609,407.4 609.1,419.5 609.3,428.2 609.4,427.6 609.6,430.3 609.7,414.3 609.9,414.2 610,420.1 610,411.9 610.2,421 610.3,415.6 610.5,421.3 610.6,418.4 610.8,429.8 610.9,428.6 611.1,427.7 611.2,417.8 611.4,431.8 611.5,424.2 611.7,420.2 611.8,431.6 612,434.8 612.1,422.3 612.3,435.3 612.4,430.9 612.6,432.1 612.7,436.7 612.9,433.3 613,432.5 613.2,442.7 613.3,424.9 613.5,444.2 613.6,433 613.8,447.3 613.8,434.6 613.9,447.9 614.1,431.2 614.2,449.6 614.4,440.7 614.5,438.6 614.7,437.8 614.8,444.7 615,438.1 615.1,445 615.3,439.4 615.4,432.5 615.6,447 615.7,437 615.9,439.2 616,438.8 616.2,437.3 616.3,445.9 616.5,438.7 616.6,435 616.8,436.6 616.9,434.3 617.1,429.8 617.2,441.3 617.4,430.1 617.5,441.4 617.7,435.2 617.8,438.8 618,434.1 618.1,432.4 618.3,445.9 618.4,431.5 618.6,428.4 618.7,435.3 618.9,440.2 619,425.8 619.2,428.2 619.3,436.6 619.5,436.8 619.6,434.6 619.8,429.2 619.9,432.3 620,427.3 620.1,433.4 620.2,431 620.4,432.4 620.5,429.8 620.7,434.6 620.8,431.2 621,426.9 621.1,438.3 621.3,432.1 621.4,429.4 621.6,429.9 621.7,438.6 621.9,431.2 622,432.3 622.2,426.4 622.3,428.8 622.5,427.5 622.6,426.1 622.8,425 622.9,428.7 623.1,423.6 623.2,436.4 623.4,434.3 623.5,425.6 623.7,432.3 623.8,426.4 624,431.7 624.1,432.3 624.3,421.2 624.4,417 624.6,432.3 624.7,432.3 624.9,429.6 625,426.8 625.2,425.9 625.3,416.1 625.5,436.8 625.6,409.5 625.8,430.5 625.9,428.2 626.1,430.9 626.2,422.8 626.4,424.8 626.5,431.5 626.7,423.3 626.8,429.5 627,422.2 627.1,429.9 627.3,431.5 627.4,429.1 627.6,431.7 627.7,422.9 627.9,426.1 628,427 628.2,436.2 628.3,425.8 628.5,428.8 628.6,434.9 628.8,430 628.9,433.3 629.1,423.1 629.2,436.9 629.4,428.5 629.5,431.1 629.7,432 629.8,418.5 630,434.2 630,426.2 630.1,434.4 630.3,427.1 630.4,429.6 630.6,420.6 630.7,422.7 630.9,434.1 631,424.5 631.2,430.1 631.3,428.6 631.5,423.2 631.6,427.9 631.8,428.3 631.9,432.3 632.1,427.2 632.2,426.2 632.4,436.5 632.5,436.8 632.7,430 632.8,424.7 633,431.9 633.1,427.3 633.3,437.1 633.4,429.9 633.6,424.3 633.7,428.7 633.9,425.6 634,430 634.2,424 634.3,431.6 634.5,434.7 634.6,433 634.8,426.1 634.9,432.7 635.1,428.8 635.2,423.8 635.4,430.5 635.5,435.2 635.7,432.1 635.8,429.4 636,428 636.1,431 636.3,434.6 636.4,432.2 636.6,437.1 636.7,435.4 636.9,436.4 637,430.3 637.2,433.9 637.3,432.1 637.5,433.9 637.6,433.5 637.8,443.9 637.9,426.8 638.1,434.2 638.2,430.2 638.4,435.6 638.5,433.9 638.7,440 638.8,432.2 639,429.7 639.1,434.6 639.3,434.4 639.4,423.1 639.6,442.1 639.7,429.1 639.9,440.7 640,439.3 640.2,440.1 640.3,434.7 640.5,430 640.6,430.4 640.8,439.8 640.9,431.9 641.1,437.2 641.2,432.6 641.4,431.7 641.5,438.8 641.7,430.2 641.8,433.6 642,432.3 642.1,435.4 642.3,434.3 642.4,430.1 642.5,431.6 642.6,433.4 642.7,444 642.9,438.6 643,434.7 643.2,436 643.3,434 643.5,442.9 643.6,434.5 643.8,431 643.9,453.8 644.1,431.9 644.2,432.9 644.4,431.2 644.5,437.6 644.7,430.4 644.8,432.3 645,440.4 645.1,442.5 645.3,437.4 645.4,431.3 645.6,438.4 645.7,433.4 645.9,437.6 646,437.7 646.2,431.1 646.3,440.4 646.5,436.5 646.6,436.3 646.8,431.8 646.9,440.9 647.1,433.6 647.2,437.3 647.4,432.3 647.5,431.4 647.7,431.4 647.8,429.7 648,435.3 648.1,443 648.3,442 648.4,433.3 648.6,433.7 648.7,444.2 648.9,440.9 649,437.5 649.2,435.8 649.3,435.8 649.5,419.8 649.6,434.8 649.8,447 649.9,444.8 650.1,436.6 650.2,441.4 650.4,440.6 650.5,435.5 650.7,434.1 650.8,435.5 651,439 651.1,444 651.3,439.4 651.4,438.4 651.6,437.3 651.7,444 651.9,450.8 652,439.7 652.2,437.7 652.3,440.1 652.5,441.4 652.6,444.1 652.8,443.2 652.9,435.6 653.1,438.6 653.2,436 653.4,442 653.5,434.4 653.7,425.9 653.8,439.6 654,437.3 654.1,437.5 654.3,439 654.4,435.6 654.6,440 654.7,434.8 654.9,434.7 655,442.1 655,438.4 655.2,444.6 655.3,441.1 655.5,436.8 655.6,437.5 655.8,435.5 655.9,439.8 656.1,442.2 656.2,439.9 656.4,440.9 656.5,435.8 656.7,445.3 656.8,442.5 657,444.3 657.1,435.2 657.3,438.3 657.4,436.9 657.6,446.8 657.7,439.3 657.9,449.8 658,442.1 658.2,435.8 658.3,445.5 658.5,447.7 658.6,438.9 658.8,437.9 658.9,440.1 659.1,435.3 659.2,435.9 659.4,431.2 659.5,436 659.7,434.9 659.8,441.1 660,441.7 660.1,444.9 660.3,441.6 660.4,439.6 660.6,446 660.7,437.6 660.9,431.5 661,434.8 661.2,438.8 661.3,443 661.5,445 661.6,436.4 661.8,445.3 661.9,442.4 662.1,443.5 662.2,436.5 662.4,439.8 662.5,431.7 662.7,441.3 662.8,439.3 663,443.9 663.1,445.7 663.3,437.1 663.4,444.9 663.6,445.6 663.7,439.9 663.9,454.5 664,437.8 664.2,435.1 664.3,441.3 664.5,448.6 664.6,443.5 664.8,433.9 664.9,439.1 665.1,446.6 665.2,436 665.4,440.8 665.5,437.1 665.7,449.9 665.8,448.8 666,436.1 666.1,433.9 666.3,444 666.4,443.5 666.6,441.7 666.7,442.2 666.9,440.5 667,445.8 667.2,445.6 667.3,451.2 667.5,445.7 667.6,439.6 667.8,440.2 667.9,440.9 668.1,442.5 668.2,439.1 668.4,438.5 668.5,441 668.7,440.2 668.8,441.6 669,449 669.1,447.8 669.3,440.1 669.4,442.6 669.6,441 669.7,438.6 669.9,444.5 670,433.8 670.2,443 670.3,440.8 670.5,436.8 670.6,444.1 670.8,446.2 670.9,443.1 671.1,443.9 671.2,438.3 671.4,444 671.5,448.5 671.7,437.3 671.8,451.6 672,434.6 672.1,446 672.3,437.5 672.4,443.2 672.6,442.2 672.7,442.3 672.9,446.6 673,441.1 673.2,443.2 673.3,447.4 673.5,441.9 673.6,433.3 673.8,438.1 673.9,440 674.1,438.7 674.2,445.2 674.4,443 674.5,439.2 674.7,440.2 674.8,436.5 675,440.3 675.1,450.8 675.3,435.4 675.4,450.9 675.6,442.5 675.7,441.9 675.9,440.4 676,437.5 676.2,445.5 676.3,441.5 676.5,440 676.6,442.6 676.8,449.5 676.9,440.9 677.1,442.2 677.2,448.7 677.4,438.6 677.5,446.7 677.7,453.5 677.8,442.5 678,436 678.1,447.2 678.3,441.8 678.4,448.9 678.6,445.5 678.7,444.5 678.9,439.5 679,448.4 679.2,445.4 679.3,445.4 679.5,445.5 679.6,445.5 679.8,444.5 679.9,443.3 680,436.6 680.1,441.2 680.2,442.2 680.4,448.5 680.5,451.3 680.7,439.6 680.8,441.6 681,441.2 681.1,445.9 681.3,445 681.4,446.4 681.6,441 681.7,442.4 681.9,452.8 682,439 682.2,450.3 682.3,447.3 682.5,448.1 682.6,444.6 682.8,444.1 682.9,447.5 683.1,443.5 683.2,443.9 683.4,443 683.5,445.9 683.7,443.8 683.8,442.9 684,446.8 684.1,445.1 684.3,438.7 684.4,444 684.6,450.2 684.7,446 684.9,450.8 685,437 685.2,445.9 685.3,435.9 685.5,446.8 685.6,441.4 685.8,443.5 685.9,446.1 686.1,440.6 686.2,441.2 686.4,442.5 686.5,447.4 686.7,450 686.8,440.9 687,440.2 687.1,444.4 687.3,439 687.4,438.3 687.6,446.3 687.7,441.9 687.9,450.8 688,440.2 688.2,450.5 688.3,449.4 688.5,442.8 688.6,445.6 688.8,432.7 688.9,445.3 689.1,444.5 689.2,440.7 689.4,450 689.5,434 689.7,447.2 689.8,444.5 690,445.1 690.1,437.8 690.3,447 690.4,442 690.6,444.9 690.7,448.2 690.9,440.6 691,432.2 691.2,445.7 691.3,445.3 691.5,443.3 691.6,441.6 691.8,440.4 691.9,444.9 692.1,446.9 692.2,442.6 692.4,450.1 692.5,443.6 692.7,447.4 692.8,443.9 693,444.7 693.1,449 693.3,447.7 693.4,450 693.6,449.7 693.7,445.2 693.9,448.2 694,447.2 694.2,447.1 694.3,448.6 694.5,445.6 694.6,445.8 694.8,447.4 694.9,441.1 695.1,448.8 695.2,449.4 695.4,430.7 695.5,448.4 695.7,442.1 695.8,441.7 696,447.9 696.1,441.2 696.3,446.1 696.4,440.6 696.6,439.9 696.7,452.7 696.9,441.8 697,439.9 697.2,443.5 697.3,452.8 697.5,438.1 697.6,449.9 697.8,441.9 697.9,446 698.1,444.8 698.2,449.5 698.4,441.8 698.5,453.1 698.7,443.4 698.8,439.1 699,445.9 699.1,448.6 699.3,448.1 699.4,452.4 699.6,444.3 699.7,451.4 699.9,448.9 700,441.3 700.2,443.5 700.3,442.2 700.5,444.1 700.6,446.3 700.8,443.4 700.9,444.6 701.1,448.5 701.2,449 701.4,451.6 701.5,431.9 701.7,442.6 701.8,442.4 702,441.8 702.1,441.6 702.3,441.4 702.4,448.5 702.6,450.9 702.7,440.8 702.9,448.6 703,436.1 703.2,447.8 703.3,452.7 703.5,449.5 703.6,441.9 703.8,441.7 703.9,444.2 704.1,451 704.2,447 704.4,447.4 704.5,447.7 704.7,440.8 704.8,436.2 705,442.9 705,443.3 705.1,446.7 705.3,446.1 705.4,459.3 705.6,443.6 705.7,443 705.9,451.5 706,445.7 706.2,453.9 706.3,453.8 706.5,449.3 706.6,448.9 706.8,438.9 706.9,451.3 707.1,447.6 707.2,448.5 707.4,450 707.5,446.4 707.7,441.6 707.8,443.6 708,441.5 708.1,449.9 708.3,445.7 708.4,446.1 708.6,443.7 708.7,445.2 708.9,440.8 709,446.3 709.2,441.1 709.3,447 709.5,444.7 709.6,447.7 709.8,450.5 709.9,447.8 710.1,446.5 710.2,449.5 710.4,442.3 710.5,445.7 710.7,447.7 710.8,439.8 711,443 711.1,454.9 711.3,446.9 711.4,446.8 711.6,448.5 711.7,445.2 711.9,444.1 712,444.7 712.2,450.5 712.3,453 712.5,443.6 712.6,445.5 712.8,448 712.9,441.1 713.1,446.4 713.2,450.6 713.4,451 713.5,456.6 713.7,444.8 713.8,446.2 714,450 714.1,447.6 714.3,451.2 714.4,446.4 714.6,438.9 714.7,442.8 714.9,439 715,446.9 715.2,451.7 715.3,448.7 715.5,444.2 715.6,437.6 715.8,446.1 715.9,441.7 716.1,443.4 716.2,446.7 716.4,456.3 716.5,444.2 716.7,442.9 716.8,439.8 717,450 717.1,441.9 717.3,437.8 717.4,443.8 717.6,447.2 717.7,440.5 717.9,445.6 718,438.7 718.2,451.2 718.3,440.7 718.5,445.6 718.6,441.7 718.8,443.5 718.9,447.2 719.1,443.3 719.2,445.4 719.4,451.1 719.5,457.1 719.7,449.6 719.8,446.1 720,447 720.1,440.5 720.3,441.2 720.4,441.2 720.6,447.8 720.7,445.5 720.9,444.4 721,456.3 721.2,445.9 721.3,449.6 721.5,448 721.6,446.2 721.8,448.2 721.9,439.4 722.1,446.5 722.2,450.5 722.4,458.6 722.5,445.1 722.7,452.2 722.8,449.7 723,444.5 723.1,439.2 723.3,447.4 723.4,443.3 723.6,451.2 723.7,447.8 723.9,439.8 724,444.2 724.2,447.8 724.3,451.8 724.5,435.1 724.6,448.4 724.8,440.5 724.9,445.1 725.1,439.9 725.2,450.2 725.4,447.6 725.5,453.9 725.7,451.8 725.8,443 726,436.5 726.1,445.1 726.3,443.8 726.4,446.7 726.6,443 726.7,443.4 726.9,449.5 727,447.3 727.2,443.2 727.3,449.5 727.5,442.3 727.6,446.3 727.8,450.4 727.9,444.1 728.1,440.3 728.2,446.9 728.4,444.5 728.5,454 728.7,445.7 728.8,443.4 729,441 729.1,436.3 729.3,442.5 729.4,446.6 729.6,442.1 729.7,448.3 729.9,450.1 730,449.2 730,443.3 730.2,442.7 730.3,449.8 730.5,443.3 730.6,443.5 730.8,443.8 730.9,452.1 731.1,438 731.2,451.1 731.4,450.2 731.5,453.2 731.7,448.3 731.8,456.2 732,449.7 732.1,442.5 732.3,440.1 732.4,446.5 732.6,448.4 732.7,447.7 732.9,450.8 733,451.4 733.2,435.7 733.3,446.3 733.5,446.4 733.6,449 733.8,442.9 733.9,451.5 734.1,446.7 734.2,452.3 734.4,443.7 734.5,445.9 734.7,440.7 734.8,442.3 735,445.1 735.1,444.1 735.3,447.9 735.4,448.4 735.6,446.5 735.7,446.6 735.9,438.3 736,444.7 736.2,445.5 736.3,443.3 736.5,449.9 736.6,449 736.8,443 736.9,444.5 737.1,446.2 737.2,447.2 737.4,453 737.5,445.6 737.7,443.8 737.8,448.1 738,449.3 738.1,451.8 738.3,442.2 738.4,445.3 738.6,447.4 738.7,447.2 738.9,439.7 739,448.2 739.2,452.8 739.3,449.2 739.5,445.9 739.6,442 739.8,442.2 739.9,446.4 740.1,443.2 740.2,443.2 740.4,439.4 740.5,448.5 740.7,450.2 740.8,446.2 741,449.2 741.1,447.2 741.3,453.7 741.4,446.1 741.6,446.5 741.7,441.3 741.9,446.3 742,444.8 742.2,444.5 742.3,453.2 742.5,450 742.6,451.1 742.8,448.8 742.9,442.7 743.1,446.9 743.2,451.2 743.4,443 743.5,446 743.7,446.7 743.8,451.2 744,447 744.1,450 744.3,449.7 744.4,445.7 744.6,447.8 744.7,441.4 744.9,444.8 745,449.4 745.2,448.8 745.3,448.6 745.5,447.3 745.6,450.8 745.8,450 745.9,447.6 746.1,440.3 746.2,460.5 746.4,457.4 746.5,443.8 746.7,454 746.8,446.4 747,452.7 747.1,443.8 747.3,447.4 747.4,445.5 747.6,450.8 747.7,451.5 747.9,448.1 748,437.6 748.2,447.9 748.3,439.8 748.5,459.4 748.6,445.4 748.8,438.3 748.9,447 749.1,441.8 749.2,449.6 749.4,442.2 749.5,449.4 749.7,440.5 749.8,452.8 750,447.4 750,450.8 750.1,446.6 750.3,456.6 750.4,446.6 750.6,450.4 750.7,447.1 750.9,452.9 751,441.1 751.2,440.5 751.3,449.7 751.5,441.9 751.6,443 751.8,449.4 751.9,447.3 752.1,436.4 752.2,447.8 752.4,444.9 752.5,442.6 752.7,450.5 752.8,449.8 753,453.3 753.1,444.9 753.3,443.1 753.4,458.5 753.6,453.5 753.7,450.3 753.9,443.3 754,445.2 754.2,450.6 754.3,433.9 754.5,441.3 754.6,448.3 754.8,438.6 754.9,452 755.1,445.9 755.2,439.3 755.4,446.8 755.5,447 755.7,446.4 755.8,449.4 756,434.5 756.1,444.4 756.3,449 756.4,447.9 756.6,447.7 756.7,459.3 756.9,443.2 757,441.9 757.2,449.5 757.3,445.8 757.5,450.8 757.6,445.9 757.8,454.6 757.9,443.8 758.1,445.7 758.2,453.2 758.4,447.1 758.5,450.9 758.7,450.3 758.8,453.3 759,441.4 759.1,450.9 759.3,447.3 759.4,448.5 759.6,443.3 759.7,449.4 759.9,450.8 760,448.8 760.2,449.5 760.3,448 760.5,446.4 760.6,449.5 760.8,446.5 760.9,446.7 761.1,449.3 761.2,451.6 761.4,455 761.5,452.3 761.7,447.7 761.8,443.8 762,448.8 762.1,442.9 762.3,442.9 762.4,433.2 762.6,452.8 762.7,452.4 762.9,442.6 763,447.9 763.2,449 763.3,454.1 763.5,453.7 763.6,443.4 763.8,448.8 763.9,440.4 764.1,446.8 764.2,447.5 764.4,446.1 764.5,442.3 764.7,445.8 764.8,456.8 765,444.5 765.1,447.3 765.3,454.6 765.4,451 765.6,444.7 765.7,453.7 765.9,453.6 766,448.3 766.2,448.7 766.3,446.9 766.5,449.8 766.6,448.7 766.8,452.4 766.9,439.9 767.1,451.5 767.2,446.8 767.4,453.7 767.5,452.6 767.7,446.7 767.8,447.3 768,445.3 768.1,442.9 768.3,446.4 768.4,450.8 768.6,445.7 768.7,441.4 768.9,447.1 769,442.4 769.2,447.3 769.3,450.1 769.5,451.2 769.6,452.1 769.8,441 769.9,435.7 770.1,446.9 770.2,446 770.4,450.2 770.5,450 770.7,445.7 770.8,447.2 771,450.7 771.1,443.9 771.3,437.3 771.4,448.4 771.6,447.5 771.7,444.6 771.9,452.5 772,446.3 772.2,443.6 772.3,448.5 772.5,454.5 772.6,442 772.8,450.5 772.9,441.1 773.1,449.9 773.2,444.6 773.4,444.9 773.5,449.8 773.7,457.8 773.8,439 774,445.7 774.1,443.1 774.3,451.9 774.4,447 774.6,442.8 774.7,450.5 774.9,449.6 775,446.2 775.2,450.3 775.3,448.2 775.5,450.8 775.6,441.8 775.8,449.5 775.9,450.8 776.1,442.8 776.2,473.2 776.4,453.4 776.5,447.8 776.7,444.2 776.8,445.6 777,446.6 777.1,448.7 777.3,440.8 777.4,441.7 777.6,456.4 777.7,440.7 777.9,455.5 778,446 778.2,440.2 778.3,442.7 778.5,454.1 778.6,447.6 778.8,442 778.9,452.2 779.1,448.9 779.2,443.8 779.4,441.6 779.5,439.8 779.7,446.7 779.8,448.8 780,453.3 780.1,453.5 780.3,451.1 780.4,440.2 780.6,444.1 780.7,450.7 780.9,445.5 781,447.2 781.2,444.7 781.3,446.7 781.5,454.3 781.6,448.9 781.8,440.3 781.9,444.6 782.1,441.5 782.2,434.4 782.4,451 782.5,446.5 782.7,457.5 782.8,449.6 783,448.9 783.1,444.4 783.3,443.4 783.4,450.1 783.6,444.4 783.7,453.6 783.9,451 784,451 784.2,447.6 784.3,442.6 784.5,452.1 784.6,444.2 784.8,446.8 784.9,450.3 785.1,445.2 785.2,444.8 785.4,440.8 785.5,451.6 785.7,454.5 785.8,443 786,455.9 786.1,455.5 786.3,454.8 786.4,451.6 786.6,444 786.7,440.5 786.9,444 787,449.3 787.2,453.4 787.3,453 787.5,446.8 787.6,449.1 787.8,445.3 787.9,439.2 788.1,444.3 788.2,451.9 788.4,450.7 788.5,447.7 788.7,447.3 788.8,457.6 789,449.3 789.1,445.9 789.3,441 789.4,444.4 789.6,449 789.7,444.8 789.9,449.3 790,445 790.2,459.3 790.3,445.3 790.5,451.2 790.6,443.8 790.8,448.4 790.9,451 791.1,448 791.2,439.5 791.4,453.5 791.5,450.1 791.7,442.8 791.8,444.8 792,449.6 792.1,443.2 792.3,449.5 792.4,441 792.6,447.1 792.7,450.2 792.9,444.6 793,447.1 793.2,448.2 793.3,453 793.5,451.9 793.6,447.5 793.8,447.7 793.9,444.8 794.1,444.7 794.2,443 794.4,443.8 794.5,450.1 794.7,445.1 794.8,442.4 795,442.4 795.1,445.6 795.3,448.1 795.4,443.5 795.6,441.5 795.7,446.9 795.9,450.3 796,441.4 796.2,444 796.3,437.5 796.5,456.8 796.6,441.2 796.8,440.5 796.9,447 797.1,444.3 797.2,449.3 797.4,442.1 797.5,446.3 797.7,446.8 797.8,448.2 798,459.9 798.1,445.7 798.3,442.1 798.4,447.8 798.6,442.7 798.7,450 798.9,447.1 799,446.4 799.2,438.9 799.3,439 799.5,443.2 799.6,445.6 799.8,436.6 799.9,443.6 800,446.7 800.1,441 800.2,450 800.4,447 800.5,452.9 800.7,442.9 800.8,448.1 801,433.8 801.1,442.5 801.3,450.4 801.4,444.4 801.6,443.9 801.7,440.8 801.9,453.8 802,452 802.2,446.3 802.3,448 802.5,446.5 802.6,435.8 802.8,448 802.9,444.2 803.1,440.5 803.2,451.6 803.4,446.9 803.5,442.2 803.7,449.3 803.8,446.7 804,448.4 804.1,446.4 804.3,448.4 804.4,448.3 804.6,443.1 804.7,456.6 804.9,448.4 805,436.2 805.2,451.8 805.3,440.7 805.5,450.2 805.6,454.4 805.8,446.2 805.9,447 806.1,452.8 806.2,450.4 806.4,450.1 806.5,447 806.7,448 806.8,439.3 807,446 807.1,447.3 807.3,450.7 807.4,450.2 807.6,442.2 807.7,444.6 807.9,438.1 808,447.3 808.2,459.1 808.3,448.8 808.5,444.6 808.6,448.6 808.8,447.3 808.9,442.6 809.1,444.1 809.2,447.3 809.4,454 809.5,445.6 809.7,445.2 809.8,442.1 810,448.1 810.1,443.5 810.3,456.4 810.4,448.8 810.6,434.7 810.7,454.7 810.9,449.8 811,448.3 811.2,449.3 811.3,445.9 811.5,444.6 811.6,445.3 811.8,448 811.9,450.5 812.1,457.5 812.2,450.6 812.4,452.6 812.5,453.4 812.7,445.6 812.8,444.8 813,445.4 813.1,456.1 813.3,443.2 813.4,451.9 813.6,445.7 813.7,461 813.9,443.5 814,444.1 814.2,447.4 814.3,444.7 814.5,453.1 814.6,454 814.8,454.2 814.9,459.3 815.1,445.9 815.2,450.8 815.4,448.4 815.5,446.9 815.7,451.8 815.8,460.1 816,446.4 816.1,460.3 816.3,452 816.4,448.5 816.6,445.4 816.7,454.6 816.9,451.5 817,450.2 817.2,446 817.3,450.3 817.5,449.3 817.6,451.6 817.8,442.8 817.9,452.2 818.1,455.6 818.2,454.8 818.4,445.2 818.5,451.8 818.7,452.6 818.8,456.5 819,455.4 819.1,456.1 819.3,450.9 819.4,454.7 819.6,451.1 819.7,450.3 819.9,439.8 820,453.2 820,450.9 820.2,444.9 820.3,457.8 820.5,450.3 820.6,453.8 820.8,453.7 820.9,451.4 821.1,453.2 821.2,459.1 821.4,449 821.5,446.6 821.7,457.2 821.8,455 822,449.5 822.1,457.6 822.3,447.6 822.4,453.5 822.6,454.7 822.7,453.3 822.9,455.4 823,451.2 823.2,446.2 823.3,449 823.5,456.2 823.6,453.9 823.8,453.6 823.9,452.4 824.1,458.9 824.2,451.7 824.4,455.4 824.5,455.5 824.7,450.1 824.8,457.9 825,457.8 825.1,457.1 825.3,448.6 825.4,459.9 825.6,453 825.7,454.6 825.9,456.7 826,458.9 826.2,452.6 826.3,456.5 826.5,455.2 826.6,455 826.8,455.2 826.9,451.1 827.1,455.1 827.2,464.3 827.4,447.9 827.5,448.4 827.7,461.9 827.8,449.7 828,454.3 828.1,453.1 828.3,456.9 828.4,454.3 828.6,458.1 828.7,454 828.9,451.3 829,466.8 829.2,456.8 829.3,458.6 829.5,451 829.6,453.4 829.8,454.5 829.9,461.1 830.1,453.2 830.2,459.1 830.4,455.6 830.5,454.1 830.7,460.4 830.8,458.6 831,452.8 831.1,460.3 831.3,451.9 831.4,459.8 831.6,456.9 831.7,467.7 831.9,460.1 832,467.3 832.2,460.6 832.3,456.4 832.5,461.4 832.6,451.7 832.8,453 832.9,457.9 833.1,469.9 833.2,462.6 833.4,452.6 833.5,449.6 833.7,460 833.8,451.9 834,453.9 834.1,456.1 834.3,454.6 834.4,455.3 834.6,458.1 834.7,463.4 834.9,456.3 835,459.5 835.2,461.3 835.3,461.6 835.5,459.1 835.6,456.3 835.8,459.3 835.9,453.2 836.1,459.4 836.2,465.4 836.4,462.5 836.5,446.8 836.7,462.5 836.8,462.6 837,458.7 837.1,463.4 837.3,463.3 837.4,459.8 837.6,459.4 837.7,455.5 837.9,465.2 838,451 838.2,462.5 838.3,459.3 838.5,461.3 838.6,459.2 838.8,460.8 838.9,457.3 839.1,457.2 839.2,473.6 839.4,460 839.5,471.5 839.7,467.2 839.8,462.6 840,463.1 840,461.6 840.1,466 840.3,461.4 840.4,460.3 840.6,465 840.7,462 840.9,464.5 841,459.4 841.2,462 841.3,466.5 841.5,466.5 841.6,457.7 841.8,462 841.9,457.9 842.1,466 842.2,458.5 842.4,454.8 842.5,457.7 842.7,457.6 842.8,473.2 843,460.3 843.1,466.2 843.3,459.8 843.4,464.8 843.6,468.5 843.7,467.2 843.9,469.1 844,467.5 844.2,462.4 844.3,465.6 844.5,464.2 844.6,461.4 844.8,473 844.9,459.5 845.1,458.2 845.2,461.5 845.4,468.7 845.5,462.3 845.7,465.8 845.8,461 846,469.5 846.1,465.7 846.3,464.7 846.4,470.6 846.6,460.8 846.7,470.9 846.9,468.3 847,459.4 847.2,464 847.3,467 847.5,460.2 847.6,461.3 847.8,471.2 847.9,477 848.1,472.2 848.2,467.8 848.4,465.8 848.5,461.1 848.7,468.8 848.8,463.3 849,465.8 849.1,466.2 849.3,469.4 849.4,468.2 849.6,456.3 849.7,463.3 849.9,470.2 850,471.6 850.2,469.5 850.3,470.5 850.5,461.5 850.6,466 850.8,466.8 850.9,470.5 851.1,467 851.2,464.3 851.4,470.8 851.5,466.9 851.7,469.4 851.8,459.7 852,467.4 852.1,469.3 852.3,473.3 852.4,467.8 852.6,460.2 852.7,461.6 852.9,472.1 853,471.7 853.2,466.5 853.3,463.7 853.5,475.5 853.6,465.2 853.8,467.3 853.9,461.2 854.1,456.2 854.2,469.2 854.4,475.7 854.5,466.4 854.7,462.4 854.8,473.7 855,463.6 855.1,458.8 855.3,465.8 855.4,469.4 855.6,464.5 855.7,468.2 855.9,468.3 856,468.5 856.2,474.9 856.3,469.2 856.5,470.9 856.6,474.4 856.8,467.2 856.9,472.5 857.1,466.2 857.2,469.1 857.4,468.5 857.5,473.3 857.7,472.9 857.8,466 858,464.8 858.1,464.3 858.3,465 858.4,466.5 858.6,469.1 858.7,465.7 858.9,477.5 859,474.9 859.2,478.7 859.3,471.9 859.5,472.8 859.6,469 859.8,475.2 859.9,472.5 860,469.7 860.1,471.9 860.2,478.4 860.4,477.4 860.5,470.5 860.7,461.9 860.8,457.9 861,470.2 861.1,470.3 861.3,470.4 861.4,472.3 861.6,473 861.7,467.3 861.9,468.2 862,477.9 862.2,480.7 862.3,471.8 862.5,471.9 862.6,475.1 862.8,473 862.9,471.8 863.1,471.5 863.2,478 863.4,468.6 863.5,474.1 863.7,466.8 863.8,474.3 864,473.4 864.1,471.6 864.3,473.6 864.4,464.6 864.6,468.8 864.7,470.3 864.9,472.7 865,472.2 865.2,469.3 865.3,472.7 865.5,474.1 865.6,491.4 865.8,473.4 865.9,474.2 866.1,474.1 866.2,471.5 866.4,471 866.5,479 866.7,471.9 866.8,470.9 867,473 867.1,480.1 867.3,468.2 867.4,471.7 867.6,474.6 867.7,476 867.9,480.7 868,482.2 868.2,470.9 868.3,477 868.5,482.1 868.6,478.9 868.8,470.3 868.9,471.4 869.1,474.5 869.2,477.8 869.4,469.8 869.5,477.9 869.7,471.5 869.8,477.1 870,477.5 870.1,476.5 870.3,478.9 870.4,474.5 870.6,475.5 870.7,484.8 870.9,472.2 871,472.1 871,464.9" fill="none" stroke="#ff0000" stroke-width="1.1" stroke-linejoin="round" />
<path d="M166.5,660 L166.5,511.2 L174.8,511.2 L175.6,508 L176,511 L176,660 M177,660 L177,511 M178.5,660 L178.5,511.2 L181.2,511.2 L182.8,508 L184.4,496.8 L185.2,484 L185.5,452.2 L187.6,452.2 L187.6,660 M190,501.6 L198.5,501.6 L198.5,660 M207.9,476.8 L215.9,476.8 L229.7,387.1 L235.3,387.1 L235.3,660 M233.7,387.1 L233.7,660 M236.4,452.4 L238.7,452.4 M237.2,660 L237.2,452.4 M238.7,452.4 L238.7,402.8 L239.6,402.8 L239.6,427.6 L242.8,427.6 L242.8,402.8 L245.8,402.8 L245.8,660 M247.9,660 L247.9,501.6 L250,501.6 L250,476.8 L252.4,476.8 L252.4,660 M259.6,660 L259.6,596.8 L285.2,425.6 L292.4,425.6 L295.6,400.6 L300.4,400.6 L300.4,660 M311,452 L326.6,452 M328,452 L333.6,452 L333.6,660 M336,452 L358.5,452 L358.5,660 M360.9,452 L383.3,452 L383.3,660 M385.7,452 L408.2,452 L408.2,660 M410.6,452 L433.1,452 L433.1,660 M435.5,452 L457.9,452 L457.9,660 M460.3,452 L482.8,452 L482.8,660 M485.2,452 L507.6,452 L507.6,660 M510,452 L532.5,452 L532.5,660 M534.9,452 L557.4,452 L557.4,660 M559.8,452 L582.2,452 L582.2,660 M584.6,452 L607.1,452 L607.1,660 M609.5,452 L632,452 L632,660 M634.4,452 L656.8,452 L656.8,660 M659.2,452 L681.7,452 L681.7,660 M684.1,452 L706.5,452 L706.5,660 M708.9,452 L731.4,452 L731.4,660 M733.8,452 L756.3,452 L756.3,660 M758.7,452 L781.1,452 L781.1,660 M783.5,452 L806,452 L806,660 M535,452 L535,660" fill="none" stroke="#0000ff" stroke-width="1.05" stroke-linejoin="miter"/>
<path d="M180.2,380 L187.2,380 M191.4,380 L194.2,380 M208.5,380 L231,380 M258.1,380 L296,380 M312,380 L332.2,380 M335,380 L357.1,380 M359.9,380 L381.9,380 M384.7,380 L406.8,380 M409.6,380 L431.7,380 M434.5,380 L456.5,380 M459.3,380 L481.4,380 M484.2,380 L506.2,380 M509,380 L531.1,380 M533.9,380 L556,380 M558.8,380 L580.8,380 M583.6,380 L605.7,380 M608.5,380 L630.6,380 M633.4,380 L655.4,380 M658.2,380 L680.3,380 M683.1,380 L705.1,380 M707.9,380 L730,380 M732.8,380 L754.9,380 M757.7,380 L779.7,380 M782.5,380 L803.4,380" fill="none" stroke="#00ff00" stroke-width="6" stroke-linecap="round"/>
</g>
<path d="M115.55,23.4 H872.9 M115.55,310.9 H872.9" fill="none" stroke="#000" stroke-width="2"/>
<path d="M116.85,22.4 V311.9 M871.6,22.4 V311.9" fill="none" stroke="#000" stroke-width="2.6"/>
<path d="M115.55,373.4 H872.9 M115.55,660.9 H872.9" fill="none" stroke="#000" stroke-width="2"/>
<path d="M116.85,372.4 V661.9 M871.6,372.4 V661.9" fill="none" stroke="#000" stroke-width="2.6"/>
<text x="104.6" y="29.9" text-anchor="end">−20.85</text>
<text x="104.6" y="77.8" text-anchor="end">−20.9</text>
<text x="104.6" y="125.7" text-anchor="end">−20.95</text>
<text x="104.6" y="173.7" text-anchor="end">−21</text>
<text x="104.6" y="221.6" text-anchor="end">−21.05</text>
<text x="104.6" y="269.5" text-anchor="end">−21.1</text>
<text x="104.6" y="317.4" text-anchor="end">−21.15</text>
<text x="889" y="29.9">12.6515</text>
<text x="889" y="71">12.651</text>
<text x="889" y="112">12.6505</text>
<text x="889" y="153.1">12.65</text>
<text x="889" y="194.2">12.6495</text>
<text x="889" y="235.3">12.649</text>
<text x="889" y="276.3">12.6485</text>
<text x="889" y="317.4">12.648</text>
<text x="104.6" y="379.9" text-anchor="end">530</text>
<text x="104.6" y="415.8" text-anchor="end">528</text>
<text x="104.6" y="451.8" text-anchor="end">526</text>
<text x="104.6" y="487.7" text-anchor="end">524</text>
<text x="104.6" y="523.6" text-anchor="end">522</text>
<text x="104.6" y="559.6" text-anchor="end">520</text>
<text x="104.6" y="595.5" text-anchor="end">518</text>
<text x="104.6" y="631.5" text-anchor="end">516</text>
<text x="104.6" y="667.4" text-anchor="end">514</text>
<text x="883.3" y="656.7">−2</text>
<text x="883.3" y="607">−1</text>
<text x="889" y="557.3">0</text>
<text x="889" y="507.6">1</text>
<text x="889" y="457.9">2</text>
<text x="889" y="408.1">3</text>
<text x="176.1" y="337.1" text-anchor="middle">18/09</text>
<text x="176.1" y="356.1" text-anchor="middle">20:00</text>
<text x="176.1" y="687.1" text-anchor="middle">18/09</text>
<text x="176.1" y="706.1" text-anchor="middle">20:00</text>
<text x="275.5" y="337.1" text-anchor="middle">18/09</text>
<text x="275.5" y="356.1" text-anchor="middle">22:00</text>
<text x="275.5" y="687.1" text-anchor="middle">18/09</text>
<text x="275.5" y="706.1" text-anchor="middle">22:00</text>
<text x="374.8" y="337.1" text-anchor="middle">19/09</text>
<text x="374.8" y="356.1" text-anchor="middle">00:00</text>
<text x="374.8" y="687.1" text-anchor="middle">19/09</text>
<text x="374.8" y="706.1" text-anchor="middle">00:00</text>
<text x="474.2" y="337.1" text-anchor="middle">19/09</text>
<text x="474.2" y="356.1" text-anchor="middle">02:00</text>
<text x="474.2" y="687.1" text-anchor="middle">19/09</text>
<text x="474.2" y="706.1" text-anchor="middle">02:00</text>
<text x="573.5" y="337.1" text-anchor="middle">19/09</text>
<text x="573.5" y="356.1" text-anchor="middle">04:00</text>
<text x="573.5" y="687.1" text-anchor="middle">19/09</text>
<text x="573.5" y="706.1" text-anchor="middle">04:00</text>
<text x="672.9" y="337.1" text-anchor="middle">19/09</text>
<text x="672.9" y="356.1" text-anchor="middle">06:00</text>
<text x="672.9" y="687.1" text-anchor="middle">19/09</text>
<text x="672.9" y="706.1" text-anchor="middle">06:00</text>
<text x="772.2" y="337.1" text-anchor="middle">19/09</text>
<text x="772.2" y="356.1" text-anchor="middle">08:00</text>
<text x="772.2" y="687.1" text-anchor="middle">19/09</text>
<text x="772.2" y="706.1" text-anchor="middle">08:00</text>
<text x="871.6" y="337.1" text-anchor="middle">19/09</text>
<text x="871.6" y="356.1" text-anchor="middle">10:00</text>
<text x="871.6" y="687.1" text-anchor="middle">19/09</text>
<text x="871.6" y="706.1" text-anchor="middle">10:00</text>
<text transform="translate(20,167) rotate(-90)" text-anchor="middle">transmission [dB]</text>
<text transform="translate(43.2,517) rotate(-90)" text-anchor="middle">quality factor</text>
<text transform="translate(1004,166.4) rotate(-90)" text-anchor="middle" font-size="19.5">frequency [GHz]</text>
<text transform="translate(934.4,517) rotate(-90)" text-anchor="middle">clamping voltage [V]</text>
<text x="785.6" y="47.4" text-anchor="end" font-size="19.5">frequency</text>
<path d="M797.4,41.4 H848.6" stroke="#00ff00" stroke-width="1.05" fill="none"/>
<text x="785.6" y="67.1" text-anchor="end" font-size="19.5">transmission</text>
<path d="M797.4,61.1 H848.6" stroke="#ff00ff" stroke-width="1.05" fill="none"/>
<text x="785.6" y="397.5" text-anchor="end" font-size="19.5">quality factor</text>
<path d="M797.4,391.5 H848.6" stroke="#ff0000" stroke-width="1.05" fill="none"/>
<text x="785.6" y="417.2" text-anchor="end" font-size="19.5">clamping voltage</text>
<path d="M797.4,411.2 H848.6" stroke="#0000ff" stroke-width="1.05" fill="none"/>
<text x="785.6" y="436.6" text-anchor="end" font-size="19.5">pulsing filament 1</text>
<circle cx="822.8" cy="430.6" r="2" stroke="#00ff00" stroke-width="0.9" fill="none"/>
<text x="785.6" y="456.1" text-anchor="end" font-size="19.5">pulsing filament 2</text>
<circle cx="822.8" cy="450.1" r="2" stroke="#ff00ff" stroke-width="0.9" fill="none"/>
</svg>
</body></html>
